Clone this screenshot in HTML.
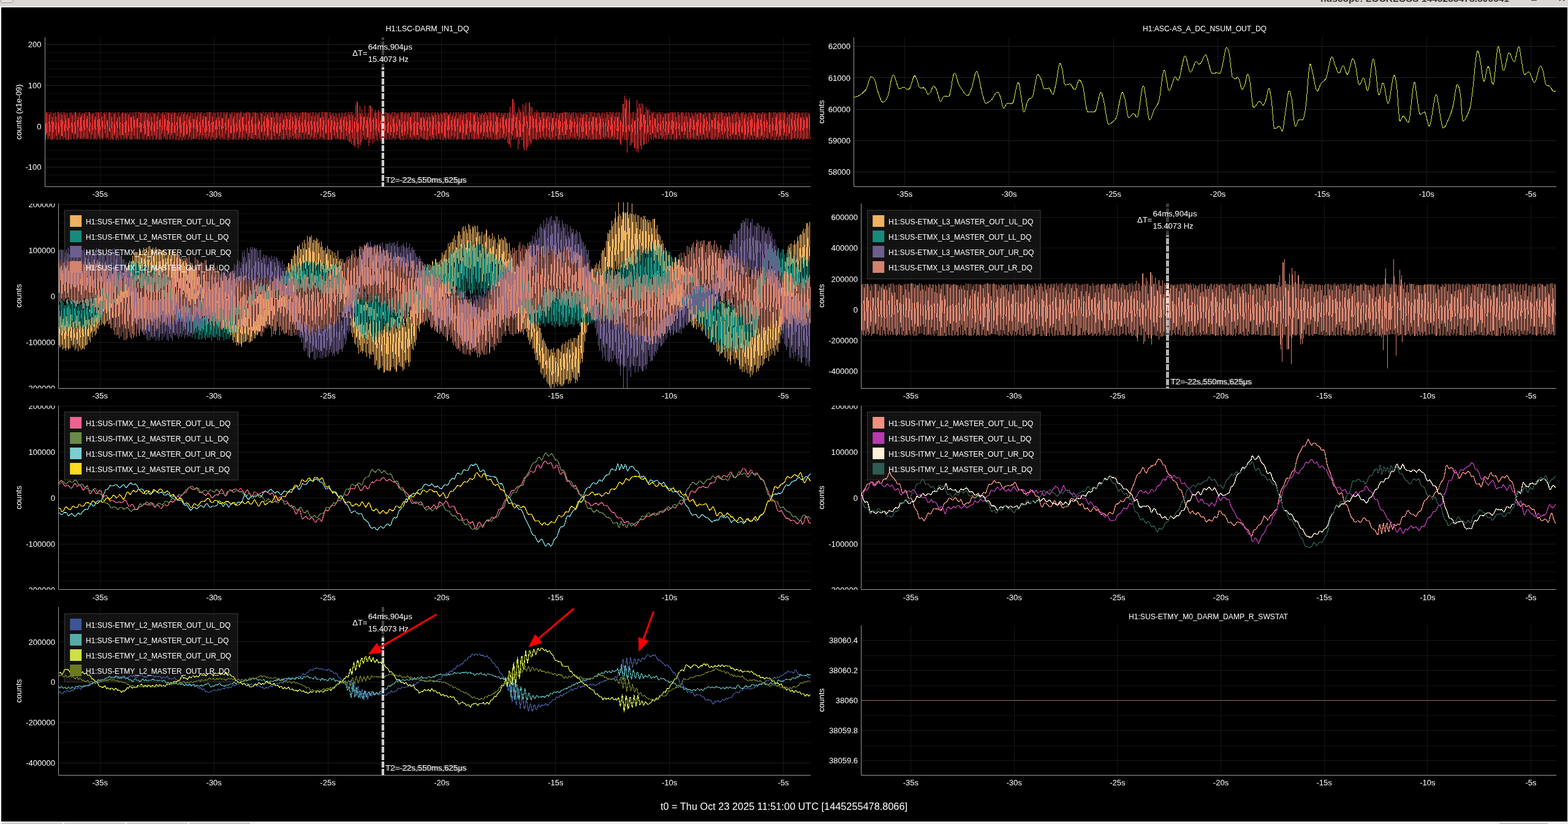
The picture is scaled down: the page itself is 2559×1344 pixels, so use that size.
<!DOCTYPE html><html><head><meta charset="utf-8"><title>ndscope</title><style>html,body{margin:0;padding:0;background:#000;overflow:hidden;width:2559px;height:1344px}svg{display:block}</style></head><body><svg width="2559" height="1344" viewBox="0 0 2559 1344" font-family="'Liberation Sans', 'DejaVu Sans', sans-serif"><defs><clipPath id="cP1"><rect x="73" y="61" width="1250" height="243"/></clipPath><clipPath id="yP1"><rect x="0" y="61" width="73" height="243.5"/></clipPath><clipPath id="cP2"><rect x="1393.5" y="61" width="1146.5" height="243"/></clipPath><clipPath id="yP2"><rect x="0" y="61" width="1393.5" height="243.5"/></clipPath><clipPath id="cP3"><rect x="95.5" y="332" width="1227.5" height="301"/></clipPath><clipPath id="yP3"><rect x="0" y="332" width="95.5" height="301.5"/></clipPath><clipPath id="cP4"><rect x="1405.5" y="332" width="1134.5" height="301"/></clipPath><clipPath id="yP4"><rect x="0" y="332" width="1405.5" height="301.5"/></clipPath><clipPath id="cP5"><rect x="95.5" y="661.5" width="1227.5" height="300"/></clipPath><clipPath id="yP5"><rect x="0" y="661.5" width="95.5" height="300.5"/></clipPath><clipPath id="cP6"><rect x="1405.5" y="661.5" width="1134.5" height="300"/></clipPath><clipPath id="yP6"><rect x="0" y="661.5" width="1405.5" height="300.5"/></clipPath><clipPath id="cP7"><rect x="95.5" y="990" width="1227.5" height="274"/></clipPath><clipPath id="yP7"><rect x="0" y="990" width="95.5" height="274.5"/></clipPath><clipPath id="cP8"><rect x="1405.5" y="1020" width="1134.5" height="244"/></clipPath><clipPath id="yP8"><rect x="0" y="1020" width="1405.5" height="244.5"/></clipPath><clipPath id="kP1a"><rect x="0" y="61" width="2559" height="49"/></clipPath><clipPath id="kP1b"><rect x="0" y="110" width="2559" height="194"/></clipPath><clipPath id="kP4a"><rect x="0" y="332" width="2559" height="52"/></clipPath><clipPath id="kP4b"><rect x="0" y="384" width="2559" height="249"/></clipPath><clipPath id="kP7a"><rect x="0" y="990" width="2559" height="50"/></clipPath><clipPath id="kP7b"><rect x="0" y="1040" width="2559" height="224"/></clipPath></defs><rect x="0" y="0" width="2559" height="1344" fill="#efefef"/>
<rect x="0" y="0" width="2559" height="10" fill="#dcd8d5"/>
<rect x="0" y="10" width="2559" height="2" fill="#fbfbfb"/>
<rect x="2" y="12" width="2556" height="1328" fill="#000"/>
<rect x="1" y="12" width="1" height="1329" fill="#fff"/>
<rect x="2" y="1340" width="2556" height="1" fill="#fff"/>
<rect x="2558" y="12" width="1" height="1329" fill="#f4f4f4"/>
<rect x="1.5" y="-3" width="19.5" height="7.5" rx="2" fill="#e0e2de" stroke="#8a8a8a" stroke-width="0.8"/>
<text x="2155" y="2.8" font-size="14" font-weight="bold" fill="#333" textLength="308" lengthAdjust="spacingAndGlyphs">ndscope: LOCKLOSS 1445255478.806641</text>
<rect x="2499" y="-1" width="9" height="2" fill="#333"/>
<path d="M2545 1L2553 -7M2553 1L2545 -7" stroke="#333" stroke-width="2"/>
<path d="M3 1345V1345Q3 1342.5 6 1342.5H99Q102 1342.5 102 1345" fill="#f6f6f6" stroke="#9a9a9a" stroke-width="1"/>
<path d="M105 1345V1345Q105 1342.5 108 1342.5H201Q204 1342.5 204 1345" fill="#f6f6f6" stroke="#9a9a9a" stroke-width="1"/>
<path d="M207 1345V1345Q207 1342.5 210 1342.5H303Q306 1342.5 306 1345" fill="#f6f6f6" stroke="#9a9a9a" stroke-width="1"/>
<path d="M309 1345V1345Q309 1342.5 312 1342.5H405Q408 1342.5 408 1345" fill="#f6f6f6" stroke="#9a9a9a" stroke-width="1"/>
<path d="M2447 1345Q2447 1343 2449 1343H2524Q2526 1343 2526 1345" fill="#f6f6f6" stroke="#9a9a9a" stroke-width="1"/>
<path d="M74 299.5H1323M74 285.5H1323M74 259.5H1323M74 245.5H1323M74 232.5H1323M74 219.5H1323M74 192.5H1323M74 179.5H1323M74 165.5H1323M74 152.5H1323M74 125.5H1323M74 112.5H1323M74 99.5H1323M74 85.5H1323" stroke="#111111" stroke-width="1" fill="none"/>
<path d="M74 72.5H1323M74 139.5H1323M74 205.5H1323M74 272.5H1323" stroke="#222222" stroke-width="1" fill="none"/>
<path d="M163.5 61V304M349.5 61V304M535.5 61V304M720.5 61V304M906.5 61V304M1092.5 61V304M1278.5 61V304" stroke="#171717" stroke-width="1" fill="none"/>
<path d="M1394.5 75.5H2540M1394.5 126.5H2540M1394.5 178.5H2540M1394.5 229.5H2540M1394.5 280.5H2540" stroke="#202020" stroke-width="1" fill="none"/>
<path d="M1476.5 61V304M1646.5 61V304M1817.5 61V304M1987.5 61V304M2157.5 61V304M2328.5 61V304M2498.5 61V304" stroke="#191919" stroke-width="1" fill="none"/>
<path d="M96.5 618.5H1323M96.5 603.5H1323M96.5 588.5H1323M96.5 573.5H1323M96.5 543.5H1323M96.5 528.5H1323M96.5 513.5H1323M96.5 498.5H1323M96.5 468.5H1323M96.5 453.5H1323M96.5 438.5H1323M96.5 423.5H1323M96.5 393.5H1323M96.5 378.5H1323M96.5 363.5H1323M96.5 348.5H1323" stroke="#101010" stroke-width="1" fill="none"/>
<path d="M96.5 333.5H1323M96.5 408.5H1323M96.5 483.5H1323M96.5 558.5H1323" stroke="#1a1a1a" stroke-width="1" fill="none"/>
<path d="M163.5 332V633M349.5 332V633M535.5 332V633M720.5 332V633M906.5 332V633M1092.5 332V633M1278.5 332V633" stroke="#171717" stroke-width="1" fill="none"/>
<path d="M1406.5 354.5H2540M1406.5 404.5H2540M1406.5 454.5H2540M1406.5 505.5H2540M1406.5 555.5H2540M1406.5 605.5H2540" stroke="#141414" stroke-width="1" fill="none"/>
<path d="M1486.5 332V633M1655.5 332V633M1823.5 332V633M1992.5 332V633M2161.5 332V633M2329.5 332V633M2498.5 332V633" stroke="#171717" stroke-width="1" fill="none"/>
<path d="M96.5 947.5H1323M96.5 932.5H1323M96.5 917.5H1323M96.5 902.5H1323M96.5 872.5H1323M96.5 857.5H1323M96.5 842.5H1323M96.5 827.5H1323M96.5 797.5H1323M96.5 782.5H1323M96.5 767.5H1323M96.5 752.5H1323M96.5 722.5H1323M96.5 707.5H1323M96.5 692.5H1323M96.5 677.5H1323" stroke="#101010" stroke-width="1" fill="none"/>
<path d="M96.5 662.5H1323M96.5 737.5H1323M96.5 812.5H1323M96.5 887.5H1323" stroke="#1a1a1a" stroke-width="1" fill="none"/>
<path d="M163.5 661.5V961.5M349.5 661.5V961.5M535.5 661.5V961.5M720.5 661.5V961.5M906.5 661.5V961.5M1092.5 661.5V961.5M1278.5 661.5V961.5" stroke="#171717" stroke-width="1" fill="none"/>
<path d="M1406.5 947.5H2540M1406.5 932.5H2540M1406.5 917.5H2540M1406.5 902.5H2540M1406.5 872.5H2540M1406.5 857.5H2540M1406.5 842.5H2540M1406.5 827.5H2540M1406.5 797.5H2540M1406.5 782.5H2540M1406.5 767.5H2540M1406.5 752.5H2540M1406.5 722.5H2540M1406.5 707.5H2540M1406.5 692.5H2540M1406.5 677.5H2540" stroke="#101010" stroke-width="1" fill="none"/>
<path d="M1406.5 662.5H2540M1406.5 737.5H2540M1406.5 812.5H2540M1406.5 887.5H2540" stroke="#1a1a1a" stroke-width="1" fill="none"/>
<path d="M1486.5 661.5V961.5M1655.5 661.5V961.5M1823.5 661.5V961.5M1992.5 661.5V961.5M2161.5 661.5V961.5M2329.5 661.5V961.5M2498.5 661.5V961.5" stroke="#171717" stroke-width="1" fill="none"/>
<path d="M96.5 1211.5H1323M96.5 1145.5H1323M96.5 1079.5H1323M96.5 1014.5H1323" stroke="#121212" stroke-width="1" fill="none"/>
<path d="M96.5 1046.5H1323M96.5 1112.5H1323M96.5 1178.5H1323M96.5 1244.5H1323" stroke="#1c1c1c" stroke-width="1" fill="none"/>
<path d="M163.5 990V1264M349.5 990V1264M535.5 990V1264M720.5 990V1264M906.5 990V1264M1092.5 990V1264M1278.5 990V1264" stroke="#171717" stroke-width="1" fill="none"/>
<path d="M1406.5 1216.5H2540M1406.5 1167.5H2540M1406.5 1118.5H2540M1406.5 1069.5H2540" stroke="#131313" stroke-width="1" fill="none"/>
<path d="M1406.5 1044.5H2540M1406.5 1093.5H2540M1406.5 1142.5H2540M1406.5 1191.5H2540M1406.5 1240.5H2540" stroke="#191919" stroke-width="1" fill="none"/>
<path d="M1486.5 1020V1264M1655.5 1020V1264M1823.5 1020V1264M1992.5 1020V1264M2161.5 1020V1264M2329.5 1020V1264M2498.5 1020V1264" stroke="#161616" stroke-width="1" fill="none"/>
<rect x="105.5" y="343" width="283" height="112" fill="rgba(26,26,26,0.68)" stroke="#3c3c3c" stroke-width="1"/>
<rect x="1415.5" y="343" width="282.5" height="112" fill="rgba(26,26,26,0.68)" stroke="#3c3c3c" stroke-width="1"/>
<rect x="105.5" y="672" width="283" height="111" fill="rgba(26,26,26,0.68)" stroke="#3c3c3c" stroke-width="1"/>
<rect x="1415.5" y="672" width="282.5" height="111" fill="rgba(26,26,26,0.68)" stroke="#3c3c3c" stroke-width="1"/>
<rect x="105.5" y="1001" width="282.5" height="111.5" fill="rgba(26,26,26,0.68)" stroke="#3c3c3c" stroke-width="1"/>
<path d="M73.5 183.4L74.8 228.4L76 183.3L77.3 226.9L78.5 183.1L79.9 226.6L81.1 184.4L82.4 228L83.5 182.5L85 228L86.2 184.2L87.3 227.7L88.4 184.1L89.6 226.2L90.8 183.4L92.2 227.7L93.5 183.3L94.8 227.6L95.9 182.5L97.4 228.3L98.7 183.7L99.9 227.2L100.9 182.8L102.2 228.3L103.4 182.6L104.7 225.8L105.9 182.6L107.1 228.5L108.3 184.5L109.6 228.2L110.8 184.4L112 228.4L113.3 184.3L114.5 226.6L115.6 182.8L116.7 227.8L117.9 184.1L119.3 226.7L120.6 184.3L121.8 227L123 182.5L124.3 227.3L125.7 184L126.9 228.3L128.2 184.4L129.7 227L130.8 182.8L132 227.2L133.1 184.4L134.4 227.1L135.7 183.6L136.9 228.4L138.1 183.2L139.5 226.9L140.7 182.6L142 227.1L143.2 182.9L144.6 227L146 182.7L147.3 227.5L148.4 184.7L149.8 227.1L151.1 183.9L152.5 227.9L153.7 184.1L155 226.5L156.2 183.2L157.5 227.9L158.7 182.6L159.8 226.1L161 183.4L162.1 226.9L163.3 183.2L164.4 227.4L165.8 182.5L167.1 228L168.4 184.2L169.5 226.1L170.9 182.9L172.3 226.1L173.6 183.3L174.9 227.3L176.4 184.5L177.6 228.1L179 182.9L180.4 228.2L181.8 183.6L183.1 228.4L184.5 183.5L185.8 228.3L187.1 183.1L188.3 227.8L189.6 184.5L190.9 228.5L192.3 182.9L193.5 228.1L194.8 183.4L196.2 226.5L197.5 184.8L198.8 227.7L200 183L201.2 227.9L202.6 183.9L203.7 227.3L205 184L206.1 228.4L207.4 183.4L208.8 227.3L210.1 184L211.4 228.2L212.8 182.7L214 227.8L215.2 184.2L216.4 228.3L217.8 182.9L219.2 227.2L220.3 183.4L221.5 227L222.7 183.1L224 227.3L225.3 182.5L226.6 226.5L227.6 182.7L228.7 228.1L230 183.7L231.4 226.1L232.5 183.4L233.5 228.3L234.7 184.2L235.8 227.9L237 183.1L238.3 228.2L239.7 183L240.9 227.6L242 185L243.2 228.1L244.4 183.8L245.6 228L246.8 183.1L248.2 227.5L249.5 182.6L250.6 228.4L252 184.3L253.2 227.9L254.6 183.6L255.9 228.3L257.2 182.6L258.5 228L259.6 182.9L261 228L262.3 184L263.7 228.5L265.1 183.2L266.5 227.3L267.9 182.7L269.1 226.5L270.3 183.2L271.7 227.7L272.7 182.8L273.8 228.2L275 183.7L276.3 226.8L277.4 183.3L278.8 228.3L280.1 182.6L281.3 228.4L282.4 184L283.7 227.2L285 183.1L286.3 228.3L287.6 183.7L288.8 228.3L290.2 184L291.5 228.5L292.8 183.2L293.9 227.8L295.2 183.1L296.3 228.5L297.5 183.5L298.9 227.8L300.1 183L301.2 227.8L302.4 182.6L303.8 227.2L305.1 184.3L306.3 228.2L307.7 183.4L308.9 226.9L310.2 182.6L311.3 228.2L312.4 184L313.5 228L314.7 183.6L316 226.6L317.3 184.3L318.6 227.1L319.7 183.3L320.9 227.4L322.2 183.3L323.3 227L324.6 183.1L325.8 228.3L327.1 182.7L328.3 228.1L329.7 182.6L330.8 227.3L332.2 184L333.7 228.3L334.8 183.9L336.1 227.1L337.2 182.7L338.4 228.2L339.6 183.5L340.9 226.1L342 183L343.4 228.5L344.5 183.3L345.9 227.7L347.2 184.1L348.3 226.6L349.4 183.2L350.6 227.8L351.7 184.1L352.9 228.3L354.3 182.6L355.4 226.4L356.8 183.4L358.2 227.3L359.4 183.3L360.6 227.9L361.7 182.9L363.1 226.9L364.3 182.9L365.5 227L366.6 183.3L367.7 228.3L369.1 182.9L370.5 227.9L371.7 183.1L372.9 228.5L374.3 183.9L375.7 228.1L377.1 182.8L378.3 228.4L379.7 183L381 228.2L382.2 182.9L383.3 227.4L384.6 185L385.7 227.9L387 183.9L388.5 228L389.7 183L390.9 227.8L392.1 182.5L393.4 228.1L394.8 182.5L395.9 227.9L397.2 183.9L398.4 226.4L399.5 183.6L400.6 227.1L402 183.2L403.3 228.5L404.6 182.5L405.9 228.2L407 183.1L408.3 226.3L409.7 184.2L411 226.9L412.2 183.1L413.3 228.4L414.5 183.3L415.8 227.4L417 183L418.2 227.2L419.6 183.8L420.6 227.1L421.7 184.2L423.1 227.5L424.5 182.9L425.6 228.5L427 184.5L428.4 227.5L429.6 182.5L430.8 227.7L432.2 182.9L433.4 228.5L434.8 183.1L435.9 227.9L437.1 184L438.2 227.7L439.3 183.4L440.6 227.6L441.8 183.2L443 228.2L444.3 182.5L445.7 228.1L446.8 184.3L448.2 228.2L449.5 183.6L450.7 228L452 183.1L453.3 228.1L454.4 183.9L455.8 228.4L457.2 184.7L458.3 227.2L459.5 183.1L460.6 227.8L461.7 184.4L463 227.8L464.3 183.6L465.6 227L466.8 182.9L468.2 226.5L469.3 182.8L470.6 228.2L471.7 183.5L472.9 228.2L474.1 183L475.5 227.3L476.8 182.9L478.2 227.5L479.4 184.4L480.8 226.5L481.9 183.2L483.1 228L484.3 182.8L485.4 227L486.7 184.5L487.9 228.1L489.2 183.8L490.3 227.4L491.6 183.6L492.7 228.1L494 182.6L495.4 228.4L496.7 182.8L497.8 227.3L499 182.6L500.4 227.1L501.6 183.6L502.8 227.5L504 184L505.3 228.2L506.6 182.7L507.9 226.9L509.2 182.7L510.4 226.2L511.6 183.2L512.9 228.5L514.2 182.8L515.3 227.8L516.7 184.5L517.7 228.1L519.1 184.5L520.4 226.8L521.8 183L522.9 227L524.3 183.3L525.6 227.5L526.8 182.5L528.1 227.7L529.4 182.9L530.7 228.4L532 182.8L533.3 228.3L534.6 182.7L536 228.4L537.3 183.3L538.7 228.2L539.9 183.5L541 228.1L542.4 183.6L543.6 227L544.8 183.8L546.2 226.4L547.4 184.3L548.7 228.2L549.8 184.6L551.1 227.8L552.5 184.7L553.6 226.9L554.7 183.9L556 227.9L557.2 184.1L558.3 226.9L559.7 183.7L561 228.2L562.2 183.9L563.6 228.4L564.8 183.2L566.2 227.7L567.4 184.6L568.7 230.3L569.9 182.5L571 231.6L572.4 182.9L573.5 234.8L574.9 183.3L576.3 236.7L577.7 185.2L579.1 240.4L580.4 171.2L581.8 227.9L583 165.4L584.1 241.6L585.4 184.2L586.5 236.1L587.8 172.9L588.9 236.8L590.3 178.3L591.6 227.1L592.8 185L594.2 227L595.4 172.3L596.5 227.5L597.7 184L598.9 228.4L600.2 183.7L601.3 238L602.6 172.4L603.9 233.4L605 172.3L606.3 227.7L607.6 175.7L608.8 233.6L610.3 182.8L611.5 231.1L612.9 179.2L614.2 228.2L615.3 182.8L616.6 230.2L617.9 178.8L619.3 227L620.6 182.5L621.9 229.8L623.1 182.3L624.2 228.7L625.5 183.8L626.9 228.5L628.2 183.1L629.4 228.2L630.5 182.6L631.7 227.8L633 184.1L634.3 226.5L635.4 184.1L636.8 228.4L638.1 183.7L639.4 228.1L640.7 183.1L642 226.1L643.2 183.4L644.3 227.5L645.5 184.1L646.8 227.2L648.1 183.7L649.4 226.3L650.7 184.2L652.1 227.9L653.4 183.5L654.7 228L656 182.9L657.2 228.5L658.6 182.7L659.8 227.6L661.1 182.6L662.4 227.7L663.6 182.6L664.8 226.4L666.1 182.6L667.5 227.9L668.8 183.7L670.1 226.5L671.2 183.4L672.4 227.5L673.5 183L674.8 227.1L676 183.5L677.1 226.5L678.5 182.5L679.8 228.3L681 182.8L682.2 228.1L683.5 182.6L684.6 228.2L685.7 183.2L687.1 225.8L688.2 183.8L689.4 226.4L690.8 182.8L692 227.4L693.3 184.7L694.4 228.4L695.6 183.3L697 228.5L698.2 184L699.4 228.4L700.8 184L702.2 227.4L703.4 184.1L704.8 228.5L705.9 183.1L707.1 228.3L708.2 184.4L709.5 227.3L710.9 182.7L712.2 226.8L713.6 182.6L714.8 226.5L715.9 183.7L717.3 227L718.4 183.9L719.7 228.2L720.9 183L722.3 227.9L723.4 183.7L724.9 228L726 183.1L727.1 228.5L728.3 183.3L729.6 226.3L730.9 183.8L732.1 228.2L733.1 183.8L734.5 227.1L735.7 183.2L736.8 228.4L738.2 184.8L739.5 228.1L740.7 182.6L741.9 226.9L743.2 183L744.4 228L745.7 183.3L747 228.3L748.3 183.3L749.7 226.9L751.1 184.1L752.4 227.1L753.6 182.8L755 228.2L756.1 183.3L757.3 227.8L758.5 184.7L759.8 228.1L761.1 182.7L762.2 226.8L763.3 183.3L764.5 227.6L765.7 182.8L766.7 228.4L768 183.2L769.4 227.1L770.5 183.7L771.6 227.3L772.9 183.3L774 227.9L775.1 182.8L776.3 227.1L777.4 183L778.8 228.2L779.8 183.5L781 227L782.5 184.7L783.7 228.1L785.1 184.2L786.4 228.1L787.5 183.9L788.9 226.8L790.1 183.8L791.3 226.5L792.4 182.5L793.7 228.1L794.9 183.9L796.1 227.1L797.4 182.6L798.6 227.3L800 183.1L801.1 227.5L802.4 184.6L803.6 228L805 183.1L806.3 227.6L807.6 182.7L808.8 228.2L809.9 183.6L811 227.8L812.2 184L813.3 227.6L814.5 183.4L815.9 228L817.3 184L818.5 226.5L819.8 183.6L821 226.1L822.1 183.8L823.3 228.4L824.7 183.8L825.9 226.8L827.3 183.6L828.6 232.5L829.8 184.5L831 235.9L832.2 173.8L833.5 240.6L834.8 184.2L835.9 228.1L837 160.9L838.3 227.5L839.4 166.6L840.5 226.2L841.8 182.8L842.9 228L844.1 183L845.5 244.4L846.6 175L847.8 234.9L848.9 178.9L850.2 229.2L851.5 184.2L852.8 227.8L853.8 169.9L855.1 244.8L856.3 171.9L857.5 228.3L858.7 167.3L859.9 244.6L861.4 182.8L862.7 238.4L864 167.2L865.1 236L866.3 174.2L867.5 234.3L868.7 175.3L870 227.8L871.3 182.7L872.5 227.4L873.7 182.9L875 228.4L876.1 180L877.3 227.2L878.6 183L879.7 227.9L880.8 184.4L882.1 226.7L883.4 182.8L884.6 226.9L886 182.7L887.1 227.1L888.3 182.8L889.5 228.1L890.7 182.9L891.9 227.3L893.2 182.7L894.6 227.8L895.8 182.9L897.1 228.3L898.5 184.3L899.7 228L900.8 184.1L901.9 227.9L903.3 182.5L904.4 228L905.6 183.1L906.8 228.4L908.3 184.7L909.6 226.7L910.7 183.8L912 228.5L913.1 183.7L914.2 227.8L915.4 183.6L916.6 228.2L918 183.8L919.2 227.9L920.6 182.5L921.8 228L923 182.8L924.2 226.9L925.3 182.6L926.4 227.7L927.5 183.7L928.6 227.8L929.7 183.1L930.9 227.1L932.1 183.6L933.3 226.4L934.4 182.7L935.5 226.5L936.7 183.3L938.1 227L939.5 183.3L940.7 228.2L941.9 184.6L943.2 228L944.5 183.8L945.9 228.3L947.3 183.4L948.7 228.1L949.8 184.8L951 226.7L952.1 183.6L953.4 227.3L954.7 185L955.8 228.4L956.9 183.3L958.2 228.2L959.6 183.5L960.9 228.3L962.3 182.5L963.4 228.4L964.6 182.9L965.8 228.4L966.8 183.2L968 227.5L969.2 183L970.5 227.4L971.8 183.6L973 228.4L974.2 184.4L975.4 228.1L976.5 182.9L977.8 228L978.9 184.4L980 227.4L981.3 185L982.5 227.5L983.7 183.2L985.1 227L986.5 183.7L987.9 226.6L989.3 183.4L990.7 227L991.9 182.9L993.1 227.2L994.4 182.6L995.6 226.9L996.8 182.5L997.9 227.9L999.1 183L1000.2 227.9L1001.6 182.7L1002.9 227.7L1004.2 184.3L1005.6 228L1006.8 183L1008 227.5L1009.2 183.1L1010.4 229L1011.7 183.1L1013.1 236.9L1014.4 183.7L1015.9 227.5L1017 168.9L1018.3 228L1019.7 156.2L1020.8 228.3L1022 161L1023.3 248.9L1024.4 183.2L1025.7 227.1L1027.1 160.2L1028.4 237.6L1029.5 183.6L1030.9 235.8L1032.3 183.1L1033.4 233.3L1034.7 182.1L1036 242.3L1037.3 183.8L1038.6 246.7L1039.8 162.8L1041.1 248.9L1042.4 169.1L1043.7 226.8L1044.9 169L1046.1 243.6L1047.3 167.8L1048.4 228.3L1049.7 170L1051 236.7L1052.1 183.4L1053.3 228L1054.5 174.4L1055.6 235.3L1057 179.1L1058.4 230.5L1059.7 178.4L1061.2 226.2L1062.4 182L1063.7 227.9L1065.1 182.5L1066.3 228.3L1067.7 182.9L1069.1 226.5L1070.3 183.5L1071.6 227L1073.1 184L1074.3 226.8L1075.5 182.9L1076.6 226.9L1077.9 183.1L1079.2 227.1L1080.6 182.9L1081.9 226.7L1083.2 184.9L1084.6 228.4L1086 184.8L1087.2 227.8L1088.4 184.3L1089.8 227.3L1091 184.3L1092.3 226.7L1093.4 183.3L1094.6 228.2L1095.7 183.5L1096.8 227L1098 183.2L1099.3 228.3L1100.4 182.7L1101.5 228.5L1102.8 183.5L1104.1 228.3L1105.5 183.5L1106.5 226.8L1107.9 182.9L1109.2 226.8L1110.5 184.8L1111.6 227.3L1113 183L1114.4 226.3L1115.6 184.5L1116.8 226.7L1118.2 183.7L1119.4 228L1120.8 182.6L1122.1 227.7L1123.5 183.5L1124.7 228.1L1125.8 183.6L1127.1 227.6L1128.3 183.4L1129.5 226.4L1130.9 184.6L1132.1 227.8L1133.3 184L1134.4 227.4L1135.6 183.3L1136.8 228.1L1138 185L1139.2 228.5L1140.3 183.1L1141.7 227.4L1143 183.6L1144.2 227.9L1145.5 183.7L1146.7 227.7L1148.1 184.6L1149.2 227.1L1150.3 182.8L1151.6 228.3L1152.8 183.8L1154.1 226.5L1155.5 182.7L1156.7 227.3L1158.1 182.8L1159.4 226.4L1160.7 184.7L1162 227.8L1163.4 183.1L1164.5 228.4L1165.8 183.2L1166.9 228.1L1168.1 183L1169.6 228.4L1170.6 182.8L1171.9 228.1L1173.1 183.4L1174.3 226.7L1175.5 182.9L1176.6 226.7L1178 183L1179.2 226.7L1180.3 183.7L1181.7 227.8L1183.2 184L1184.4 227.8L1185.8 184.3L1187.1 227.6L1188.2 183.4L1189.4 228L1190.8 183.3L1192.2 227.5L1193.5 184.4L1194.8 226.9L1196.1 184L1197.3 226.9L1198.5 183.1L1199.8 227.5L1201.1 182.7L1202.2 227.8L1203.5 182.5L1204.7 228L1205.8 183.8L1207.2 227.8L1208.3 184.6L1209.7 227.4L1211 183.4L1212.3 227.8L1213.7 182.6L1215 227.7L1216.1 182.9L1217.2 227.3L1218.6 184.7L1219.9 227.8L1221.2 183.7L1222.3 228.4L1223.7 182.8L1224.8 228.2L1225.9 184L1227.2 227.9L1228.3 182.8L1229.6 228.4L1231 183L1232.2 228.4L1233.5 183.8L1234.9 228.1L1236.1 183.9L1237.1 227.8L1238.3 183.8L1239.4 226.7L1240.7 183.8L1241.9 227.2L1243.1 182.7L1244.2 228.3L1245.6 183.1L1246.9 228.1L1248.1 183L1249.5 228.2L1250.7 184.6L1252.1 227.4L1253.5 183.9L1254.7 227.4L1256 182.6L1257.3 227.8L1258.5 183.9L1259.9 226.7L1261.3 183L1262.4 228.4L1263.5 183.2L1264.6 228.5L1265.8 182.7L1266.9 228L1268 184.8L1269.3 228.5L1270.6 182.7L1271.9 227.7L1273 183.3L1274.2 227.7L1275.3 183.3L1276.5 228.1L1277.7 183.3L1278.8 227.7L1280.1 182.5L1281.3 226.8L1282.5 183.7L1283.8 228.4L1285.3 182.6L1286.7 228.3L1288.1 184.9L1289.3 227.9L1290.7 183.1L1292 228.4L1293 183.3L1294.5 226.2L1295.6 182.7L1297 226.2L1298.1 182.7L1299.4 227.7L1300.7 182.9L1302 225.8L1303.1 182.8L1304.6 228.3L1305.8 183.7L1307 226.1L1308.3 183.8L1309.6 227.7L1310.8 183L1312 227.1L1313.4 184.1L1314.5 227.1L1315.8 182.8L1317 227.1L1318.3 183.9L1319.5 227.1L1320.9 184.1L1322.1 227.3" stroke="#e03232" stroke-width="1.0" fill="none" shape-rendering="crispEdges" clip-path="url(#cP1)"/>
<path d="M1394 158.6L1395 158.3L1396 157.9L1397 157.3L1398 157.4L1399 157.4L1400 156.9L1401 156.5L1402 155.7L1403 154.9L1404 154.5L1405 154.2L1406 153.1L1407 152.8L1408 151.7L1409 150.5L1410 149.2L1411 148.8L1412 147.7L1413 146.7L1414 145.1L1415 142.3L1416 139.4L1417 136.2L1418 132.4L1419 130L1420 127.2L1421 125.3L1422 125.4L1423 125.2L1424 126.3L1425 126.9L1426 127.8L1427 129.1L1428 131.8L1429 135L1430 138.8L1431 143.6L1432 147.1L1433 150.6L1434 152.9L1435 156.1L1436 159.1L1437 161.6L1438 163.8L1439 165.4L1440 166.6L1441 166.5L1442 166.3L1443 166L1444 164.8L1445 164.1L1446 163L1447 161.2L1448 159.4L1449 156.8L1450 152.9L1451 148.9L1452 143.5L1453 137.7L1454 132.5L1455 128.4L1456 125.4L1457 122.8L1458 121.8L1459 122.7L1460 125.2L1461 127.8L1462 131.1L1463 134L1464 137.5L1465 140.7L1466 143.3L1467 144.6L1468 145.1L1469 144.7L1470 144.5L1471 143.9L1472 143.2L1473 142.6L1474 142.9L1475 143L1476 142.7L1477 143.1L1478 143.9L1479 144.9L1480 145.7L1481 145.4L1482 145.5L1483 145.3L1484 144.5L1485 143.6L1486 141.2L1487 138.2L1488 134.8L1489 132L1490 128.5L1491 125.6L1492 124.2L1493 123.7L1494 124.3L1495 126.7L1496 128.7L1497 131.2L1498 134.8L1499 138.9L1500 141.9L1501 143.1L1502 143.2L1503 143.7L1504 143.9L1505 143.7L1506 143.2L1507 142.7L1508 143.2L1509 143.8L1510 145.6L1511 147.2L1512 149.3L1513 151.9L1514 153.4L1515 153.9L1516 153.3L1517 152L1518 150.9L1519 149.7L1520 147.1L1521 144.6L1522 142.1L1523 141L1524 140.1L1525 141.1L1526 142.7L1527 143.7L1528 145.6L1529 147.9L1530 151.4L1531 155L1532 158.5L1533 161.8L1534 164.8L1535 166L1536 165L1537 163.3L1538 161.4L1539 159.3L1540 158L1541 156.7L1542 157L1543 157.2L1544 156.8L1545 157.1L1546 157L1547 157.2L1548 157.1L1549 156.7L1550 154.5L1551 150.5L1552 145.4L1553 139.2L1554 132.3L1555 126.9L1556 122.5L1557 119.7L1558 119.1L1559 119.6L1560 122.2L1561 125.1L1562 129.2L1563 132.4L1564 135.8L1565 137.8L1566 140.1L1567 141.7L1568 143.1L1569 144.8L1570 146.2L1571 148.1L1572 149.1L1573 150.4L1574 151.7L1575 153.3L1576 153.8L1577 154.8L1578 155.4L1579 155.9L1580 156L1581 154.5L1582 152.9L1583 150.7L1584 148.4L1585 145.6L1586 143.2L1587 140L1588 135.5L1589 130.8L1590 127L1591 122.6L1592 119L1593 116.7L1594 116.5L1595 118.1L1596 120.8L1597 124.5L1598 127.7L1599 132.7L1600 138L1601 143.5L1602 148.4L1603 152.6L1604 156L1605 159.4L1606 163L1607 165.7L1608 167.8L1609 168.6L1610 168.6L1611 168L1612 167.3L1613 166.6L1614 166.1L1615 165.5L1616 165.2L1617 163.9L1618 162.8L1619 161.5L1620 160.1L1621 158.7L1622 157L1623 155.1L1624 153.6L1625 152.1L1626 151.2L1627 150.4L1628 150.1L1629 150.2L1630 152.1L1631 154L1632 156.4L1633 159.2L1634 163.3L1635 168L1636 171.6L1637 174.9L1638 176.4L1639 176L1640 174.3L1641 172.5L1642 170.2L1643 168.7L1644 168.9L1645 169.1L1646 168.9L1647 168.5L1648 169.1L1649 169.2L1650 168.7L1651 168.6L1652 168.8L1653 167.7L1654 164.6L1655 161.2L1656 156.2L1657 151L1658 146.5L1659 141.6L1660 138.2L1661 135.4L1662 134.7L1663 136.5L1664 141.3L1665 148.2L1666 154.6L1667 160.4L1668 167.7L1669 174.9L1670 180.6L1671 183.2L1672 182.1L1673 179.3L1674 176.3L1675 171.5L1676 168L1677 165.2L1678 163.5L1679 161.9L1680 161.4L1681 160.5L1682 160.4L1683 160.1L1684 159L1685 157.4L1686 154.9L1687 150.3L1688 145L1689 139.3L1690 134L1691 128.6L1692 124L1693 121.9L1694 121.6L1695 122.3L1696 123.3L1697 125L1698 127.1L1699 129.5L1700 132.2L1701 136L1702 139.6L1703 142.8L1704 144.9L1705 145L1706 145L1707 144.4L1708 144.7L1709 144.6L1710 144.5L1711 143.9L1712 143.4L1713 144.7L1714 146.4L1715 148.6L1716 150.7L1717 152.9L1718 153.9L1719 153.7L1720 151.4L1721 147.2L1722 142.6L1723 138.2L1724 132.9L1725 126.6L1726 120.4L1727 114.5L1728 108.9L1729 105.1L1730 103.5L1731 104.3L1732 107.1L1733 110.7L1734 115.1L1735 121.6L1736 129.1L1737 136L1738 138.3L1739 138.1L1740 138.2L1741 138.1L1742 137.8L1743 137.1L1744 137.4L1745 136.9L1746 136.5L1747 137.1L1748 138.4L1749 140.2L1750 141.6L1751 143.6L1752 145L1753 145.5L1754 146.2L1755 145.5L1756 143.7L1757 140.8L1758 137.2L1759 134.5L1760 132.4L1761 130.6L1762 130.5L1763 131.5L1764 132.5L1765 134.8L1766 137.3L1767 140.3L1768 144.3L1769 150.1L1770 157.1L1771 164.1L1772 170.8L1773 176.5L1774 180.1L1775 182.6L1776 182.6L1777 182.9L1778 182.4L1779 182.9L1780 182.8L1781 182.9L1782 182.9L1783 183.1L1784 182.7L1785 182.1L1786 182.2L1787 181.8L1788 180.6L1789 178.3L1790 174.4L1791 169.8L1792 164.9L1793 160.6L1794 156.8L1795 153.2L1796 151.5L1797 150.7L1798 151.9L1799 155.5L1800 159L1801 163.1L1802 167.9L1803 173.3L1804 179.5L1805 185.8L1806 191.9L1807 197.1L1808 200.9L1809 202.6L1810 202.3L1811 202L1812 201.6L1813 201.1L1814 200.3L1815 199.7L1816 198.8L1817 197.4L1818 196.9L1819 195.8L1820 194.9L1821 193.6L1822 191.2L1823 187.8L1824 182.9L1825 177.5L1826 171.6L1827 166.6L1828 161.7L1829 157.4L1830 154.3L1831 151.5L1832 150.4L1833 152L1834 155.2L1835 158.6L1836 161.9L1837 167.2L1838 173.9L1839 180.2L1840 185.8L1841 189.8L1842 191.9L1843 191.8L1844 191.2L1845 190.3L1846 189.1L1847 187.3L1848 185.8L1849 185.3L1850 185.1L1851 185.8L1852 186.5L1853 188.6L1854 190.5L1855 191.1L1856 191.2L1857 189.4L1858 184.8L1859 179.3L1860 172L1861 164.8L1862 157.1L1863 150L1864 144.3L1865 140.8L1866 139.8L1867 141.8L1868 147.2L1869 153L1870 158.9L1871 165.8L1872 173.5L1873 181.1L1874 187.8L1875 193.4L1876 195.7L1877 195.1L1878 194.2L1879 192.2L1880 188.9L1881 186.2L1882 183.3L1883 180.4L1884 178.1L1885 176.8L1886 174.9L1887 173.7L1888 172.3L1889 170.5L1890 168.5L1891 166.4L1892 162.5L1893 156.4L1894 149.1L1895 140.8L1896 133.3L1897 125.5L1898 119.8L1899 115.7L1900 114.1L1901 116.3L1902 121.1L1903 125.9L1904 130.8L1905 136.3L1906 142.6L1907 146.7L1908 148.1L1909 147.2L1910 145.2L1911 142.7L1912 139.6L1913 136.7L1914 133.9L1915 130.6L1916 127.7L1917 126.2L1918 125.2L1919 125.9L1920 127.9L1921 129.4L1922 131.1L1923 131.3L1924 129.4L1925 126.5L1926 122.8L1927 117.8L1928 112.6L1929 107.6L1930 103.1L1931 98.6L1932 95.1L1933 92.2L1934 91.3L1935 92.2L1936 95.2L1937 98.5L1938 102.9L1939 106.6L1940 110.8L1941 114.7L1942 117.3L1943 118.1L1944 117.1L1945 116.1L1946 113.2L1947 111.1L1948 108.3L1949 105.6L1950 103.1L1951 100.9L1952 100.1L1953 100.7L1954 101.8L1955 102.9L1956 104.5L1957 104.8L1958 104.9L1959 103.4L1960 101.7L1961 100.6L1962 98.9L1963 96.4L1964 94.2L1965 92.1L1966 91L1967 89.9L1968 89.4L1969 90.7L1970 94.2L1971 97.5L1972 100.8L1973 104.6L1974 108.5L1975 112.5L1976 115.8L1977 118.2L1978 119.6L1979 119.6L1980 119.4L1981 119.1L1982 119.5L1983 119.2L1984 118.7L1985 118.3L1986 118.4L1987 119.2L1988 119.3L1989 119.7L1990 119.6L1991 119.9L1992 118.3L1993 115.3L1994 111.5L1995 107.5L1996 102.2L1997 96.7L1998 91.2L1999 85.8L2000 81.1L2001 78L2002 77.5L2003 78.7L2004 80.1L2005 83.1L2006 86.6L2007 92.8L2008 101.7L2009 111.1L2010 118.8L2011 124.7L2012 126.1L2013 127L2014 128.3L2015 128.3L2016 128.5L2017 128.4L2018 127.5L2019 126.6L2020 126.5L2021 126.7L2022 128.7L2023 132.1L2024 136.3L2025 140.4L2026 143.7L2027 145.8L2028 145.4L2029 144.2L2030 142.2L2031 140.4L2032 137.1L2033 132.5L2034 127.9L2035 123.6L2036 120.7L2037 120.6L2038 123.7L2039 128.8L2040 134.4L2041 141.6L2042 151L2043 159.9L2044 168.4L2045 173.6L2046 175.2L2047 174.7L2048 173.9L2049 173L2050 171.6L2051 170L2052 168.8L2053 167L2054 165.9L2055 165.5L2056 165.5L2057 166.3L2058 167.1L2059 168.8L2060 170.1L2061 171.4L2062 172L2063 170.2L2064 167.9L2065 165.9L2066 162.5L2067 158.3L2068 153.7L2069 148.8L2070 145.9L2071 144.3L2072 146.3L2073 150.5L2074 156.1L2075 162.7L2076 172.9L2077 185.7L2078 197.1L2079 206L2080 209.7L2081 209.9L2082 209.8L2083 209.1L2084 208L2085 207.6L2086 206.6L2087 206.7L2088 206.3L2089 206.9L2090 208.8L2091 211.2L2092 213.4L2093 213.7L2094 210.1L2095 203.9L2096 196L2097 188.9L2098 182.4L2099 175L2100 167.6L2101 160.5L2102 153.5L2103 149.5L2104 148L2105 149L2106 152.3L2107 156.8L2108 161.2L2109 168.7L2110 178.1L2111 187.8L2112 196.7L2113 202.7L2114 206.3L2115 206L2116 204.4L2117 201.1L2118 198.2L2119 195.5L2120 195L2121 195.2L2122 194.9L2123 195.1L2124 195.2L2125 195.8L2126 196L2127 193.8L2128 190.9L2129 186.5L2130 180.9L2131 174.6L2132 164.9L2133 153.3L2134 140.5L2135 128L2136 117.4L2137 108.9L2138 104.6L2139 105.5L2140 108.8L2141 113.3L2142 118.2L2143 122.3L2144 127.5L2145 132.7L2146 137.8L2147 142.3L2148 146.1L2149 148.1L2150 148.9L2151 147.6L2152 145.6L2153 143.2L2154 140.5L2155 138L2156 135.9L2157 135L2158 134L2159 133.1L2160 132.6L2161 131.8L2162 130.5L2163 129.4L2164 127.9L2165 125L2166 121.3L2167 116.8L2168 112.3L2169 107L2170 102.5L2171 98.9L2172 95.5L2173 93.8L2174 92.7L2175 94.3L2176 96.6L2177 100.2L2178 103.6L2179 106.8L2180 109L2181 111.5L2182 114.7L2183 117.1L2184 118.9L2185 119.2L2186 118.6L2187 117.5L2188 114.7L2189 112.1L2190 109.7L2191 107.8L2192 107L2193 108.2L2194 110.3L2195 112.7L2196 115.7L2197 118.5L2198 120.7L2199 121.5L2200 120.2L2201 118L2202 114.4L2203 109.9L2204 105.7L2205 101.7L2206 98.2L2207 96.2L2208 95.8L2209 97L2210 99.2L2211 102.5L2212 105.8L2213 111.1L2214 118.1L2215 124.4L2216 130.8L2217 135.8L2218 138.4L2219 138.3L2220 136.6L2221 134.9L2222 132.9L2223 130.2L2224 128L2225 127.1L2226 128.3L2227 130.7L2228 135L2229 139.1L2230 143.5L2231 146.9L2232 148.3L2233 146.2L2234 142.2L2235 135.8L2236 127.5L2237 119.1L2238 110.7L2239 103.1L2240 97.8L2241 95.7L2242 97L2243 101.5L2244 107.9L2245 114.3L2246 123.1L2247 133.1L2248 142.6L2249 150.2L2250 154.9L2251 154.5L2252 152.3L2253 148.3L2254 144.1L2255 139.8L2256 136.4L2257 135L2258 136L2259 139.8L2260 144.2L2261 149.7L2262 156.1L2263 161.9L2264 165.9L2265 168.5L2266 167.8L2267 165.1L2268 160.9L2269 155L2270 148.1L2271 141.3L2272 135.1L2273 129.4L2274 125L2275 122.8L2276 123.2L2277 126.2L2278 130.9L2279 136.5L2280 145.7L2281 158.8L2282 173.7L2283 186.4L2284 195.5L2285 197.4L2286 196L2287 194.2L2288 191.9L2289 190.5L2290 189.3L2291 189.6L2292 190.9L2293 192.4L2294 193.9L2295 195.5L2296 197.7L2297 199.3L2298 199.5L2299 198.6L2300 195.2L2301 189L2302 180.5L2303 171.2L2304 162L2305 152.1L2306 143.8L2307 137.7L2308 134.3L2309 134.3L2310 139.4L2311 148.1L2312 156.3L2313 162.3L2314 169.1L2315 175.8L2316 182.1L2317 185.5L2318 186.7L2319 186.9L2320 185.7L2321 184.9L2322 183.9L2323 183.5L2324 182.8L2325 182.6L2326 184.5L2327 187.6L2328 190.9L2329 195.5L2330 199.4L2331 203.2L2332 205.5L2333 205.5L2334 203.4L2335 199.4L2336 194.2L2337 188.1L2338 181.3L2339 175.1L2340 168.2L2341 162.7L2342 158.2L2343 155.3L2344 153.9L2345 156.2L2346 161L2347 166.6L2348 172.1L2349 177.6L2350 184.6L2351 191.3L2352 197.3L2353 202.7L2354 206.2L2355 208.4L2356 208.5L2357 207.8L2358 206.7L2359 205.4L2360 203.8L2361 201.2L2362 199.2L2363 196.5L2364 194.8L2365 192.4L2366 190L2367 187.2L2368 184.6L2369 181.5L2370 178.3L2371 174.5L2372 170L2373 164.5L2374 157.5L2375 151.2L2376 145L2377 140.6L2378 137.7L2379 138L2380 139.6L2381 142.4L2382 146.5L2383 151.6L2384 160.3L2385 173.5L2386 187.1L2387 196.4L2388 197.3L2389 197L2390 196.3L2391 195.2L2392 193.3L2393 191.4L2394 189.6L2395 186.9L2396 184.5L2397 182L2398 179.6L2399 176.5L2400 172.3L2401 165.7L2402 158.3L2403 151.1L2404 142.5L2405 132.5L2406 122.2L2407 111.2L2408 101.4L2409 93.1L2410 86.6L2411 83.6L2412 83L2413 85.5L2414 89.4L2415 94.2L2416 99.7L2417 106.2L2418 114.1L2419 121.3L2420 126.8L2421 131.3L2422 132.5L2423 130.3L2424 126.9L2425 121.4L2426 116.2L2427 111.8L2428 109.4L2429 108.6L2430 110.5L2431 114.1L2432 119.5L2433 124.6L2434 130.3L2435 134.4L2436 137.2L2437 137.9L2438 133.7L2439 126.4L2440 116.8L2441 106.1L2442 95.2L2443 86L2444 79L2445 75.7L2446 76.7L2447 81.4L2448 87.4L2449 93.3L2450 97.9L2451 104L2452 109.6L2453 113.7L2454 115.2L2455 113.8L2456 110.8L2457 106.9L2458 101.9L2459 97.6L2460 93L2461 88.7L2462 86.3L2463 85.9L2464 87L2465 88.4L2466 90.6L2467 93.9L2468 96.3L2469 98.3L2470 100L2471 100.8L2472 100L2473 96.7L2474 92.6L2475 88.4L2476 83.7L2477 79.4L2478 77L2479 75.9L2480 79L2481 85.2L2482 92.3L2483 97.8L2484 104.3L2485 110.7L2486 116.3L2487 120.2L2488 122L2489 121.6L2490 120.4L2491 120L2492 119.1L2493 118.2L2494 117.6L2495 117.1L2496 118.1L2497 119.3L2498 121.9L2499 123.9L2500 126.7L2501 129.5L2502 132.2L2503 133.8L2504 134.7L2505 133.9L2506 132.3L2507 129.7L2508 126.3L2509 121.9L2510 118.4L2511 114.3L2512 111.2L2513 108.7L2514 108L2515 107.9L2516 110L2517 112.1L2518 114.8L2519 119.1L2520 124.8L2521 129.7L2522 134.7L2523 137.9L2524 139.2L2525 139.3L2526 139.3L2527 139.4L2528 140.5L2529 140.9L2530 141.8L2531 142.7L2532 144.5L2533 146.5L2534 147.5L2535 148.9L2536 149.6L2537 149.7L2538 148.7L2539 147.8" stroke="#d6e84c" stroke-width="1.0" fill="none" stroke-linejoin="round" shape-rendering="crispEdges" clip-path="url(#cP2)"/>
<path d="M96 519.4L97.1 567.2L98.4 516.1L99.5 565.4L100.9 516.2L102.2 569.7L103.3 512.1L104.6 567.6L106 517.9L107.1 571.9L108.3 516.5L109.5 567.4L110.9 516.9L112 569.6L113.3 511L114.7 567.6L115.8 512.3L117.2 562.6L118.6 512.6L119.9 566.3L121.3 514L122.4 570.5L123.5 522.2L124.7 567.9L125.9 515.2L127.3 572.8L128.7 513L130.1 567.6L131.2 515.4L132.5 570.5L133.6 519L135 569.1L136.3 519.2L137.5 569.7L138.8 508.9L140 564.3L141.3 510.3L142.7 562.4L143.8 511.7L145.2 554.5L146.4 505L147.7 558.3L148.9 499.7L150.3 549.8L151.5 494.8L152.8 542.1L153.9 496.1L155.2 546.5L156.7 485.6L157.8 543.5L159.3 485.4L160.3 537L161.5 484.6L162.6 531.1L164 484.2L165.3 529.6L166.4 473.1L167.6 527.4L168.8 472.2L170.1 532.3L171.3 472.3L172.6 528.2L173.9 472.1L175 523.7L176.4 469.7L177.8 529.4L179.1 474.8L180.5 522.2L181.7 473.9L182.9 523.3L184.1 466.2L185.4 520.3L186.7 463.6L188.1 513.4L189.4 459.5L190.6 513.7L191.9 460.5L193.2 515.7L194.4 459L195.5 508L196.8 453.1L198.2 499.3L199.3 446.6L200.6 500.6L202 445.2L203.1 489.4L204.4 440.8L205.6 483.4L206.7 435.8L208 484.8L209.4 429.1L210.6 484.1L211.8 424.9L213.2 477.8L214.3 426.5L215.6 470.1L216.8 417.5L218.2 470.8L219.5 411.5L220.7 465.1L222 410.7L223.1 462.4L224.5 411.1L225.8 454.7L227.3 404.8L228.4 462L229.8 410.3L231 457.2L232.4 407.8L233.5 454.8L234.6 404.3L235.8 456L236.9 410.2L238.3 456L239.5 403.9L240.9 459.6L242.2 402.2L243.4 453.5L244.5 401.5L245.6 457.9L247 406.2L248.2 457L249.6 403.6L251 452.1L252.3 405.9L253.6 461.1L254.9 403L256.2 462.2L257.5 406L258.8 459.3L259.9 406.3L261.3 462.9L262.4 408.5L263.6 459.1L265 408.5L266.2 458.7L267.4 406.7L268.6 457.9L269.7 410.7L271.1 457.8L272.5 413L273.8 459.2L275.2 409.1L276.3 456.7L277.7 408.4L278.9 460.6L280.2 409.5L281.3 463.6L282.5 407.8L283.8 466L284.9 410L286.2 468L287.5 413L288.8 469.4L290 415L291.4 470.4L292.6 415.2L294 469.8L295.1 419.4L296.3 477.8L297.5 422.6L298.9 480.1L300 426.1L301.1 479.6L302.2 425.4L303.4 481.5L304.8 428.8L306 485.5L307.3 437.2L308.4 490.8L309.6 434.7L310.9 491.5L312.1 436.3L313.4 487.9L314.8 440.4L316 491.9L317.1 441L318.5 495.9L319.6 450.3L320.8 496.9L321.9 448.4L323.3 494.6L324.5 447.4L325.6 494.7L326.7 452.1L328.1 504L329.5 445.6L330.7 499L332.1 447.8L333.5 500.6L334.7 447.6L336.1 499.2L337.2 457.4L338.5 507.1L339.8 455.6L341.1 507L342.2 450.4L343.5 507.8L344.7 459.3L345.9 509L347.1 456.7L348.4 516.2L349.8 461.2L351.2 515.1L352.4 463.4L353.8 513.6L355.1 468.9L356.4 526.7L357.7 476.1L358.9 527.8L360.3 472.3L361.5 531.3L362.8 484.8L364 536.1L365.4 478.4L366.6 541.9L367.8 485.4L368.9 542.6L370.1 486.6L371.5 541L372.8 490.7L374 542.1L375.4 493L376.7 547L378.1 498.5L379.3 555.3L380.6 496.5L381.8 558.7L383.2 498.8L384.3 557.6L385.7 502.9L386.9 563.9L388 507.7L389.1 563.4L390.3 508L391.6 560.2L392.9 504.5L394.1 566.1L395.2 506.2L396.3 558.5L397.6 511.7L398.7 558.4L399.9 503.1L401 557.2L402.4 501.8L403.8 554L405 503L406.4 558.8L407.8 502.8L409 557.7L410.2 496.9L411.5 556.2L412.9 491.2L414.3 551.6L415.5 493.7L416.5 551.5L417.8 486.6L419.2 546.8L420.4 483.3L421.5 539.8L422.7 478.7L424 540.9L425.2 479.8L426.4 531L427.6 472.3L429 532.6L430.2 471.1L431.4 532.2L432.7 475.3L434.1 524.3L435.5 468.5L436.7 529L438.1 467.4L439.2 528.9L440.3 467.9L441.5 528.8L442.8 471.6L444 532.8L445.4 465.1L446.6 530.9L448 473.3L449.2 525.7L450.5 465.8L451.9 522L453.3 461.7L454.6 523.1L455.9 457.1L457.1 518.1L458.4 460.5L459.7 512.8L461.1 451.2L462.6 512.7L463.8 443.4L464.8 500.9L466.1 443.2L467.3 504.5L468.6 435.3L469.9 500.9L471 428.7L472.4 490.1L473.4 430.8L474.5 490.2L476 422.2L477.1 480.5L478.6 416.6L479.7 484L480.9 408.5L482.2 473.2L483.3 417.2L484.7 470.3L486 401.1L487.2 468.7L488.6 399.1L489.8 461.4L491 405.9L492.3 463.9L493.6 395.1L494.9 460.5L496.3 391.4L497.6 458.9L498.8 396.8L500.1 458.5L501.4 385.3L502.5 458.1L503.8 394.3L504.9 447.2L506 385.8L507.3 448.2L508.5 384.5L509.9 453.8L511.1 391L512.3 458.6L513.3 390.6L514.7 460.5L516.1 388.5L517.5 456.7L518.9 389.7L520.1 456L521.4 395L522.8 459.8L524.2 394.4L525.5 462.2L526.9 401.8L528.2 470.4L529.5 407.9L530.7 461.6L531.8 403.7L533.1 472.8L534.2 401L535.3 473.1L536.3 406.1L537.7 475.6L538.8 406.7L540.2 468.6L541.5 409.1L542.6 473.3L543.8 411.2L545.2 476.1L546.5 411.8L547.6 475.6L548.9 417.3L550.3 475.5L551.5 409.5L552.9 479.2L554.1 422.7L555.4 489.9L556.8 422.4L558.2 498L559.3 423.4L560.5 504.8L561.9 429.5L563.1 510.9L564.4 440.5L565.5 519L566.9 447.4L568.3 531.5L569.6 459.2L570.8 531.1L572 459.8L573.2 543.4L574.6 468.8L575.7 550.4L577 481.9L578.3 560.2L579.7 490.3L580.8 562L582.1 492.3L583.3 567.2L584.4 488.3L585.7 576.8L586.9 490.3L588.2 574.3L589.6 497.2L591.1 575.9L592.5 502.7L593.8 572.7L595.1 491.6L596.5 575.1L597.6 492L598.7 581.7L600 495.6L601.4 576.1L602.6 501.5L603.9 584.8L605.3 501.4L606.5 578.7L607.7 502.5L609.1 578.1L610.2 504L611.6 596.3L612.7 504.9L613.9 595.1L615.2 511L616.5 602L617.6 510.7L619 603.5L620.2 509.4L621.6 599.7L622.9 517.5L624.3 597.2L625.6 509.5L627 608.1L628.3 510.5L629.6 603L630.9 518.5L632 605.1L633.3 510.6L634.3 605.3L635.5 510.4L637 606.3L638.3 518.4L639.6 598.9L641 516.2L642.2 597.8L643.4 520L644.7 601.5L645.8 520.8L647 606.9L648.4 517.4L649.8 595L651 525.2L652.1 597.2L653.4 515.5L654.6 597.6L655.8 515.2L657.1 605L658.2 519.6L659.5 602.3L660.9 526.7L662.1 592.3L663.4 518.7L664.7 587.4L666 510.3L667.1 598.1L668.3 517.5L669.4 590.3L670.8 506.3L672.2 569L673.5 502.7L674.7 570.7L675.9 485.3L677.1 563.9L678.5 481.5L679.7 553.8L680.9 467.5L682.4 536.4L683.6 460.6L684.8 540.9L686.2 463L687.5 525.7L688.8 451.3L690 526.8L691.3 438.8L692.5 513.7L693.6 431.1L694.9 516.1L696 443.2L697.3 503.7L698.6 433.3L699.9 504.3L701.2 431.4L702.3 507.2L703.5 432.7L704.7 507.5L706 424.9L707.2 503.3L708.5 433.6L709.9 496L711 421.6L712.3 502.5L713.4 429.5L714.8 494.9L716.1 427.4L717.4 493.3L718.6 424.1L720 486.8L721.2 411.8L722.5 483.6L723.8 415.7L725 484.8L726.1 409.2L727.4 491.9L728.7 407.1L730.1 478.5L731.6 397.2L732.8 482.8L734.1 396.4L735.4 478.5L736.7 395.2L737.9 470.5L739.1 389.5L740.2 471.9L741.4 384L742.6 469.3L743.8 391.5L745.1 466.9L746.3 383.6L747.6 452.9L749 377.3L750.4 462.9L751.7 383.5L753.1 449.7L754.3 371.3L755.5 452.4L756.9 369.2L758.1 455.6L759.5 369.5L760.7 451.1L761.9 374L763.3 443.4L764.4 365.5L765.6 443.9L766.9 366.9L768.2 449.6L769.2 380.9L770.6 454.8L772 368.6L773.2 447.6L774.5 368L775.6 444.4L776.7 369.4L778 443.8L779.2 367.9L780.6 455.2L781.9 378.3L783.1 452.8L784.5 384.5L785.6 445L786.7 378.2L788 458.6L789.4 384.5L790.6 458L791.8 381.4L792.9 456L794 374L795.3 464.2L796.4 387.2L797.7 465.7L798.9 384.5L800.2 450.2L801.3 388.8L802.4 468L803.7 380.5L804.9 464.7L806.1 385.8L807.5 467.5L808.6 389.9L809.9 466.5L811.2 396.3L812.4 466.5L813.8 383.3L814.9 467.1L816 390.1L817.3 471.4L818.6 388.1L819.8 464.2L821 390L822.1 467.9L823.4 386.1L824.8 470.6L825.9 389.4L827.2 465.9L828.6 397.3L829.9 479.1L831.3 396.3L832.5 480.8L833.8 409.1L835 489.8L836.1 414.7L837.3 502.3L838.4 429.5L839.5 508.5L840.8 443.4L842.1 521.3L843.2 455.7L844.4 536.8L845.7 462.5L847 541.6L848.3 464.3L849.5 540.7L850.7 469.5L852.1 541.8L853.1 466.4L854.3 546L855.7 467.2L857 536.6L858.4 483L859.7 541.3L860.8 475.6L862.1 555.3L863.2 488.1L864.4 561.8L865.5 489.6L866.9 558.1L868.1 501.1L869.4 568.6L870.8 508.1L872.2 576.9L873.5 512.1L874.8 586.6L876 523L877 587.7L878.3 526.5L879.7 595.4L881 534.3L882.3 608.1L883.6 543.1L884.8 611.3L886.1 551.6L887.3 616.6L888.4 555.9L889.5 615L890.9 560L892.3 623.4L893.4 567.8L894.5 626.1L895.7 569.7L897.1 631.9L898.2 569.7L899.6 632.9L900.9 568.7L902 627L903.3 567.5L904.4 631.8L905.8 575.4L907.1 626.4L908.5 570.3L909.9 629.9L911 568.1L912.3 626.6L913.7 571.3L915.1 630.3L916.2 563.4L917.5 629.5L918.7 560.4L920 627.6L921.3 561.4L922.3 619.6L923.6 556.9L925 619L926.2 558.1L927.4 626.3L928.7 553.9L930.1 625.2L931.5 552.2L932.6 621.3L934 557.3L935.2 615.7L936.5 551.3L937.7 618.3L938.8 551.3L939.9 625.1L941.3 552.1L942.8 622L944 546.4L945.1 615L946.5 542.3L947.7 593.3L949 525.1L950.1 590.6L951.2 505.9L952.6 574.5L953.6 495.7L954.8 557.3L956.2 467.8L957.6 542.4L958.7 453L960 530.6L961.2 450L962.6 522.4L963.9 444.7L965 514L966.4 438.8L967.6 516.3L968.8 441L970.2 522.1L971.4 432.5L972.6 519.4L973.8 429.4L975.1 515.2L976.2 430.9L977.5 509L978.8 425.3L980.1 502.9L981.5 412.6L982.7 489.1L984 408.5L985.4 490L986.7 404.5L988.1 467.5L989.5 393.2L990.6 464.9L991.8 380.4L992.9 454.7L994.1 374.6L995.3 453.3L996.4 375.1L997.8 454.1L998.9 359.7L1000.1 450.1L1001.4 365.5L1002.6 442.1L1004 356.3L1005.2 439.1L1006.3 362.4L1007.6 444.8L1008.9 353.4L1010 433.7L1011.4 348.7L1012.6 440.6L1013.8 351.7L1014.9 436.3L1016.2 346.4L1017.4 439.2L1018.6 346.9L1019.9 437.2L1021 346.5L1022.1 440.4L1023.5 346.2L1024.8 438.7L1026.1 350.4L1027.2 443L1028.3 347.2L1029.7 430.9L1030.9 348.6L1031.9 441.2L1033.2 349.1L1034.5 440.3L1035.6 351.4L1036.8 437.6L1037.8 349L1039.2 433.5L1040.3 351.4L1041.4 438.9L1042.5 350.9L1044 440.9L1045.3 355.4L1046.6 429.3L1047.7 354.4L1048.9 439.9L1050.1 352.3L1051.5 438.2L1052.9 351.6L1054.2 423.5L1055.3 360.3L1056.6 439.6L1057.9 357.6L1059.2 422.7L1060.5 359.4L1061.6 433.9L1062.8 361.6L1064.2 435.3L1065.4 357.1L1066.8 439.5L1068 357L1069.2 440.3L1070.3 372.9L1071.5 449.1L1072.8 367.1L1073.9 444.9L1075.2 381.8L1076.6 461.8L1077.7 384.7L1079 464.8L1080.1 392.3L1081.5 473L1082.8 397.2L1084.1 469.9L1085.3 411.9L1086.5 481L1087.9 408.6L1089 481.2L1090.4 416.1L1091.6 492.9L1092.9 415.6L1094.1 493.1L1095.3 422.3L1096.6 498L1097.8 427.3L1098.9 489.9L1100.3 428.4L1101.5 496.5L1102.6 420.5L1103.9 491.7L1105 431.6L1106.3 498.4L1107.5 423.1L1108.7 502.4L1109.9 431.4L1111.2 502.9L1112.6 433.5L1113.8 506.8L1115 435.5L1116.4 505.2L1117.6 442.9L1118.6 516.8L1120.1 444.9L1121.5 522L1122.7 448.6L1124.1 525.9L1125.4 443.2L1126.8 524.1L1128.2 446.3L1129.5 530.6L1130.6 447L1132 534.6L1133.2 461.7L1134.5 529.4L1135.6 451.7L1136.8 537L1138 460L1139.4 533.6L1140.8 452.6L1142.1 533L1143.2 452.9L1144.3 539.3L1145.5 459.9L1146.9 541.2L1148.2 469L1149.4 539.1L1150.7 457.2L1151.8 547.1L1153.1 461.4L1154.4 545.9L1155.6 468.1L1156.8 552.6L1158 470.3L1159.3 550.9L1160.5 469.7L1161.8 557.8L1162.9 476.5L1164.2 561.8L1165.6 481.3L1166.8 561L1167.9 484L1169.2 571.7L1170.7 483.2L1172 574L1173.1 484.7L1174.4 579.6L1175.6 490.6L1177 576.9L1178.2 492.7L1179.6 574.6L1181 494.9L1182.2 583.2L1183.3 503.2L1184.7 584.2L1186 503.5L1187.3 589.7L1188.4 499.6L1189.7 586.2L1190.8 500.9L1192.1 595.1L1193.2 508.6L1194.5 580.3L1195.9 498.4L1197.3 586.1L1198.5 498.5L1199.8 593.3L1200.9 500.4L1202 585L1203.2 508.9L1204.4 586.9L1205.8 505.9L1207.1 602L1208.3 509.5L1209.6 602.1L1210.7 511.6L1211.9 606.5L1213.1 524.1L1214.6 607.4L1215.9 525.9L1217.2 603.3L1218.6 518.6L1219.7 609.4L1220.9 518.8L1222.2 608.6L1223.6 520.4L1224.9 614.5L1226 523.9L1227.2 611.7L1228.4 520.6L1229.7 607.7L1230.9 518.7L1232 595.5L1233.2 517.9L1234.5 606.5L1235.7 530.2L1237.1 605.2L1238.2 522.6L1239.3 600.1L1240.4 514.6L1241.8 596.1L1242.9 515.2L1244.3 597.4L1245.7 513L1246.9 593.6L1248 518L1249.2 583.5L1250.5 513.4L1251.6 583.5L1253 511.1L1254.3 589.1L1255.4 503.1L1256.8 580.8L1258.2 502.4L1259.5 577.8L1261 508.5L1262.1 573.2L1263.5 500.7L1264.7 580.1L1266.1 504.5L1267.3 570.4L1268.4 497L1269.8 573.8L1271.1 489.8L1272.3 559.5L1273.6 477.6L1274.7 547.1L1276.1 463.8L1277.3 534.7L1278.6 439.9L1279.9 516.9L1281.2 426.3L1282.6 500.6L1283.9 413.3L1285.2 488L1286.5 401.3L1287.9 478.6L1289.1 397.6L1290.2 479.2L1291.6 397.1L1293 483.6L1294.4 398.9L1295.7 474.3L1296.9 392.4L1298.2 471.5L1299.5 396.6L1300.8 474.5L1301.9 386.1L1303.3 467.5L1304.7 384.2L1305.8 458.2L1307 382.5L1308.4 464.3L1309.6 376.8L1310.8 452.6L1311.9 372.9L1313.1 449.9L1314.5 373.1L1315.8 448.2L1317 363.6L1318.1 447.9L1319.3 369L1320.7 436.2L1322 362.2" stroke="#efb261" stroke-width="1.0" fill="none" shape-rendering="crispEdges" clip-path="url(#cP3)"/>
<path d="M96 496.5L97.1 536.3L98.5 492L99.9 533.8L101.1 489.7L102.4 540.5L103.8 492.8L104.8 539.3L106 498L107.3 539.6L108.7 488.6L109.8 532.8L110.9 488.3L112 533.8L113.1 496L114.2 535.6L115.3 492.3L116.7 533.4L118.1 488.9L119.3 536.8L120.7 489.6L121.8 534.6L123 490.8L124.4 535.2L125.5 489.9L126.9 535.1L128.2 493.7L129.3 536.5L130.4 491L131.6 532.4L132.7 495.7L134.1 536.4L135.5 489.2L136.9 537.3L138.2 488.9L139.5 532.5L140.7 487.5L141.8 537.1L143.1 488.1L144.4 535.4L145.5 490.5L146.6 528.2L148 486.9L149.5 534.4L150.6 483.6L152 530.9L153.1 486.5L154.3 528.7L155.4 482.2L156.8 525.2L158.1 481L159.4 528L160.6 477.5L161.7 526.1L162.8 484.1L164.2 522.1L165.5 473.2L166.7 514.1L167.9 469.7L169.3 512.4L170.5 469.8L171.9 505.1L173.3 468.3L174.6 504.5L175.7 461.2L176.9 507.5L178.3 458.8L179.4 502.1L180.8 457.3L181.9 495.4L183.4 451.6L184.5 493.3L185.9 451.3L187 494.1L188.3 449.5L189.3 488.5L190.7 448.4L191.8 486.7L193.2 443.9L194.4 483.1L195.7 443.7L196.9 477.3L198 442.1L199.2 475.1L200.6 437.3L202 476.4L203.2 436.9L204.4 472.4L205.7 435.5L207 472.3L208.2 432.6L209.6 467.8L211 428.4L212.1 467.7L213.2 427.1L214.5 463.6L215.9 426.3L217.2 467L218.3 425.1L219.4 466.6L220.7 427.8L221.7 468.6L223 428.5L224.4 468.8L225.7 426.1L226.9 464L228.1 428.3L229.5 469.5L230.7 429.3L232.1 469.7L233.1 430.5L234.3 466.3L235.6 430L236.8 472.1L238.1 431.8L239.4 473.3L240.5 433.1L241.7 472.5L243 437.1L244.3 476L245.4 433.2L246.8 473.6L248.1 439.2L249.2 477L250.5 438.2L251.6 474.2L252.9 433.3L254 475.8L255.3 436L256.7 472.9L258.1 436L259.2 474.4L260.6 436.6L261.8 476.6L263 439L264.2 481.3L265.3 444.8L266.5 486L267.6 446L268.8 484.9L270 444.1L271.1 490.8L272.2 447.7L273.5 493.5L274.7 455.8L275.8 496.7L276.9 453.4L278.2 496.3L279.5 452.9L280.8 505.1L282.2 456.1L283.6 513.3L285 459.3L286.3 513.3L287.4 465.4L288.8 516.8L290 473.3L291 520.5L292.4 476.7L293.5 526L295 476.9L296 524.7L297.2 484.4L298.5 528.6L299.7 484.3L300.8 532.2L302 484.3L303.1 541.6L304.3 486.1L305.4 546L306.8 480.9L308.1 544.9L309.3 489.7L310.5 546.6L311.9 491L313.2 551.2L314.6 487.2L315.6 545.6L316.9 487.9L318.3 553.3L319.5 493.6L320.8 542.5L322.2 494.9L323.5 553.9L324.6 494.7L325.9 553L327 489.8L328.3 553.5L329.5 498.4L330.8 551.6L332 489.4L333.3 551.2L334.6 490.3L335.9 554L337 489L338.2 550.9L339.3 494L340.5 551.4L341.6 494.8L342.9 550.9L344.1 499.2L345.4 555.5L346.7 493.4L348.1 551.3L349.2 493.5L350.4 550.2L351.7 495L352.9 549.7L354.2 494.3L355.6 554.9L356.8 494.3L358.2 556.1L359.6 500.6L360.7 549.4L362.1 495L363.4 549.9L364.6 495.1L365.7 556.3L367 493.7L368.4 553.2L369.6 497.6L370.8 553.2L372 498.1L373.2 553.1L374.3 492.3L375.6 549.7L376.9 491.8L378.1 546L379.2 494.8L380.3 543.2L381.6 493.2L383 542.3L384.4 493L385.8 541.5L387.2 486L388.5 532L389.8 483.2L391.1 533.4L392.4 482.3L393.8 528.4L394.9 482.4L396.2 521.4L397.5 481L398.6 518.8L399.9 476.8L401.1 515.3L402.4 473.6L403.5 509.8L404.7 475.6L405.9 507.2L407 475.9L408.2 504.8L409.5 467.9L410.9 501.4L412.1 467.5L413.3 499L414.7 465.3L416.2 496.8L417.5 463L418.8 494L420.2 462L421.4 490.6L422.7 464.5L424.1 489.7L425.3 461.5L426.6 489.1L427.8 461.8L428.8 487.9L429.9 461.4L431 486.9L432.4 460.9L433.5 484.9L434.9 461.6L436 488.1L437.4 460.4L438.6 487.7L439.8 458.5L441.1 485.7L442.4 457.9L443.5 484.8L444.8 457.5L446 486.5L447.3 455.9L448.4 484.9L449.6 457.1L451 485.7L452.3 454.2L453.5 481.4L454.8 450.5L456.2 481.8L457.5 448.4L458.7 482.7L460.1 450.2L461.4 483.2L462.7 444.2L464 478.5L465.2 445.5L466.4 479.3L467.8 441.5L469.1 479.8L470.2 442.8L471.3 479.7L472.5 436.9L473.9 479.6L475.2 438.7L476.3 476.8L477.7 432.9L478.8 471.6L480 432.9L481.2 476.7L482.5 430.1L484 472L485.4 435.1L486.7 476L487.8 431.5L489.1 473.3L490.2 433.6L491.5 470.1L492.6 430L493.9 468.9L495 429.3L496.2 474.7L497.4 425.3L498.8 475.7L500 425.8L501.1 467.6L502.4 426.9L503.5 471.3L504.9 426.4L506 475.4L507 428L508.3 471L509.5 427.3L510.9 470.3L512 429.3L513.4 468.6L514.7 427L516.1 470.6L517.4 429L518.8 477.2L520.1 427.9L521.2 473.3L522.6 428.2L523.8 472.5L525.2 427.7L526.5 477.7L527.6 430.1L529 477.6L530.2 431.2L531.6 477.7L532.7 432L533.9 475.6L535.1 436.7L536.2 478.6L537.4 437.5L538.6 478.3L539.8 434.2L541.2 479.6L542.5 430.6L543.8 478.3L545 432.9L546.1 476.7L547.2 430.1L548.4 472.1L549.5 430L550.8 475.3L551.9 433L553.2 479.4L554.3 431L555.6 480.6L557.1 436.6L558.2 480.2L559.6 433.4L560.8 488L562 435.7L563.1 491.2L564.4 439.5L565.8 496.3L567 444.5L568.1 500.4L569.3 446.2L570.5 508.2L571.8 449.6L573 511.5L574.2 452.9L575.3 517L576.4 456.7L577.5 516.1L578.7 457.4L579.8 531.5L580.9 463.8L582.1 537L583.4 460.2L584.8 541.3L585.9 470.3L587.3 542.4L588.4 471.1L589.6 548.9L591 471.9L592.1 551.1L593.4 475.2L594.9 552.2L596 476.2L597.2 551.9L598.6 472.7L599.8 557.3L601.2 479.4L602.6 543.1L604 472.3L605.4 542L606.8 479.4L607.9 557.1L609.2 470.3L610.5 555.7L611.8 470.3L613.1 548.6L614.3 474.3L615.4 553.5L616.8 470.8L618.2 550.2L619.5 470.1L620.6 540.9L621.8 480.2L622.9 544.9L624.2 470.5L625.6 545.1L626.7 477.5L628 530.3L629.1 476.3L630.4 541.9L631.6 473.3L632.7 541.1L634.1 475.2L635.1 538.8L636.3 471.7L637.5 539.3L638.8 474L640 533.6L641.2 475.9L642.5 530.1L643.6 471.1L644.7 526.1L646.1 476.1L647.4 532.7L648.9 477L650 535.3L651.2 472.4L652.4 535.6L653.7 469.5L654.8 525.3L656.3 469L657.4 529.2L658.5 466.7L659.6 529.7L660.9 459.5L662.3 524.4L663.6 465.9L665 527.8L666.2 456L667.4 513.6L668.5 458.1L669.7 517.8L670.9 451.5L672 516.6L673.2 459.3L674.6 518.5L675.7 456.5L676.8 510.1L678 443.9L679.4 516L680.5 442L681.8 512.8L682.9 441L684 510.6L685.4 437.8L686.8 512.8L687.9 442.1L689.1 509.8L690.3 442.9L691.6 509.6L692.7 435.4L693.9 504.5L695.2 432.2L696.4 501.2L697.5 430.5L698.6 505.9L699.8 431.8L701.1 508L702.5 440.4L703.8 509L705.1 430.6L706.4 505.1L707.6 433.1L708.7 505.2L710 428.9L711.4 502.9L712.6 428.2L713.8 503.8L714.9 427.4L716.2 501.5L717.3 430.7L718.7 504L720.1 430.6L721.3 495.4L722.7 427L723.8 498.3L724.9 420.8L726.2 488.8L727.5 421.7L728.7 488.2L729.9 427.1L731.3 488.1L732.4 420.9L733.7 490.3L735 412L736.2 488L737.3 414.7L738.5 482.7L739.8 407.4L741.1 484.4L742.5 408.7L743.8 477.1L745.1 406.9L746.2 480.3L747.4 406L748.7 485.8L750 402.9L751.2 480.3L752.5 402.5L753.6 486.7L754.7 405.2L755.9 485.4L757.3 398.6L758.4 476.9L759.5 399.1L760.6 475.6L761.9 406.7L763.3 473.7L764.8 395.8L766.1 475.9L767.4 395L768.8 478.6L769.9 392.1L771 479.7L772.2 395.6L773.4 471.7L774.5 403L775.7 477.3L776.9 393.4L778.2 471.6L779.6 394.1L780.7 482.7L782 398.3L783.3 478.3L784.7 398.2L785.9 475.8L787.2 402.7L788.6 475.9L789.7 403.1L791 480.4L792.2 402.3L793.4 487.7L794.6 405.6L795.8 480.4L797.2 410.6L798.5 492.1L799.7 413.2L801 483.2L802.1 409.3L803.2 489.5L804.5 414.3L805.8 491.9L806.9 415.4L808.1 487.6L809.2 423.2L810.6 492.4L812 422.1L813.2 497.5L814.5 424.9L815.6 498.6L816.7 419.8L817.9 497.7L819.1 426.8L820.5 497.2L821.9 430.3L823.3 490.9L824.5 432.3L825.8 497.2L827.1 435.3L828.2 494.4L829.6 428.5L831 492.9L832.2 424.4L833.3 487.2L834.4 423.9L835.8 494.3L836.9 429.4L838.3 503.7L839.4 436.1L840.7 502.7L842 432.2L843.2 504.8L844.5 434.3L845.9 501.4L847.2 442.3L848.3 511.1L849.5 446.9L850.8 506L852.2 450.1L853.4 514.7L854.5 447.4L855.9 508.8L857 452.2L858.4 508.4L859.7 459L861 520.6L862.1 458.5L863.4 515.3L864.6 461.5L866 527.6L867.3 468.3L868.7 527.4L870.1 472L871.5 529.1L872.7 473.6L874 525.7L875.3 474.1L876.4 532.1L877.8 471.1L879.1 529.6L880.4 471.7L881.8 532.3L883 479.7L884.4 528.2L885.8 472.2L887 527.8L888.3 470.7L889.5 533.1L890.9 472.1L892.2 526L893.6 480.9L895 527.8L896.3 471.3L897.4 525.6L898.7 473.2L900.2 531.3L901.4 475.7L902.6 531.3L904 473.7L905.2 533.5L906.5 471.4L907.9 527.8L909.3 473.8L910.6 528.8L911.7 471.7L913 533.3L914.3 475.7L915.5 531.4L917 478.2L918.1 528.6L919.2 475L920.3 533.4L921.4 470.8L922.8 533.6L924.1 478.6L925.2 533.6L926.4 470.6L927.7 529.7L929.1 471.1L930.4 529.4L931.8 471.5L933 529.2L934.2 475.1L935.3 533L936.7 474.7L937.8 530L939.1 470L940.3 522.6L941.6 473.1L942.9 527.6L944.1 470.9L945.1 532.3L946.4 461.5L947.8 531.7L949 460.4L950.1 526.2L951.2 463.8L952.5 517.5L954 457.4L955.1 531.2L956.4 455.6L957.6 528.3L958.8 451.1L960 527L961.3 458.3L962.4 527.4L963.6 449.5L964.9 528.4L966.3 456.5L967.6 527.1L968.6 443.1L969.8 525.3L971 443L972.3 524.1L973.7 442L974.9 520.1L976 442.7L977.1 522.7L978.3 444.9L979.4 521.5L980.7 445.1L982.1 525L983.3 447.9L984.5 528.4L985.6 442.3L986.8 524.3L987.9 441.6L989.2 526L990.3 440.3L991.4 520.3L992.5 439.2L993.7 527.5L995.1 437.2L996.3 521.2L997.7 437.4L998.9 522.8L1000.2 437.8L1001.5 512.1L1002.7 441.6L1003.9 514.4L1005.3 448.9L1006.5 521.6L1007.9 434.5L1009.2 515.3L1010.6 429.9L1012 515.1L1013.1 432.3L1014.5 509.2L1015.7 427.1L1017 509.7L1018.2 431.4L1019.5 505.1L1020.6 425.1L1021.9 510.4L1023.3 421.1L1024.4 505.1L1025.7 420.4L1026.9 498.9L1028.2 420.3L1029.6 497.7L1031 414.5L1032.3 494.7L1033.6 411.4L1034.9 501.5L1036.3 416.6L1037.5 492.3L1038.7 407.2L1040 495.2L1041.2 405.6L1042.3 490.3L1043.7 406.1L1045 487.6L1046.3 415.9L1047.7 488.9L1049 411.9L1050.3 490.1L1051.6 407.7L1052.9 490.8L1054.1 415.1L1055.4 476.1L1056.8 405.5L1057.9 483.2L1059.1 403.2L1060.4 489.4L1061.8 406.3L1063 487.6L1064.2 396L1065.4 477.6L1066.6 406.3L1067.8 476.6L1069 408L1070.2 483.5L1071.2 400.6L1072.4 485.2L1073.6 402.3L1075 487.3L1076.1 398.1L1077.4 489.8L1078.8 399.6L1079.9 488.5L1081 410.8L1082.4 478.1L1083.6 414.4L1084.7 486.7L1086 404.5L1087.3 491L1088.5 411L1089.9 489.6L1091.3 410.3L1092.4 482L1093.5 411.4L1094.8 490.3L1096 417.7L1097.3 495.6L1098.7 423L1100.1 495.8L1101.4 418.7L1102.7 497.7L1103.9 418.8L1105 489.7L1106.3 423.2L1107.7 489.7L1109 422.4L1110.3 499.3L1111.7 432.2L1113.1 497.7L1114.3 432.6L1115.4 496.1L1116.7 423.6L1117.8 493.1L1119.2 434.2L1120.4 500.3L1121.5 436.8L1122.8 497.2L1124 430.8L1125.2 501.9L1126.6 430.8L1127.7 504.4L1128.9 439L1130.2 507.8L1131.5 434.4L1132.9 507.6L1134 438.2L1135.1 518.8L1136.4 451.6L1137.5 522.2L1138.9 447.2L1140 525.8L1141.2 462L1142.6 527.8L1143.8 457.8L1144.9 533.6L1146.4 458.5L1147.5 536.5L1148.6 459.5L1149.9 538.8L1151 463.3L1152.3 548.8L1153.7 473L1154.8 552L1156 471.1L1157.3 551.5L1158.7 473.3L1160 558.7L1161.1 481.5L1162.3 554.8L1163.3 488.2L1164.5 556.7L1165.7 481.5L1166.8 563.2L1168.2 487.3L1169.6 559.7L1170.7 487.6L1171.8 570.5L1173.1 485.8L1174.1 562.8L1175.2 496L1176.3 572.8L1177.6 485.4L1178.9 573.5L1180 485.2L1181.1 567.7L1182.5 490.7L1183.7 563L1184.9 491.6L1186.1 574.1L1187.4 487.4L1188.5 568.2L1189.7 488.4L1191.1 573L1192.3 497.3L1193.7 566L1194.9 487.1L1196.3 573.3L1197.6 496L1199 567.8L1200.3 485.4L1201.6 572L1202.8 484L1203.9 569.6L1205.2 485.6L1206.3 570.4L1207.5 487.3L1208.9 567.8L1210.2 483.7L1211.5 569.5L1212.6 485.9L1213.9 562L1215.1 484.6L1216.4 565.2L1217.8 485.4L1219 566.1L1220.1 492.9L1221.5 567L1222.6 482.8L1223.8 567.5L1225.2 489.8L1226.4 566.6L1227.8 480.3L1229 548.9L1230.4 477.4L1231.8 551.4L1233.1 469.2L1234.3 542.7L1235.7 460.3L1237.2 520.9L1238.6 453.2L1239.7 515.2L1240.8 438.7L1242.1 499L1243.3 430L1244.6 487.9L1245.9 419.4L1247 483.5L1248.2 410.5L1249.6 473.5L1250.9 406.5L1252.2 462.8L1253.4 406.3L1254.5 465.2L1255.7 408.9L1257.1 468.4L1258.2 401.5L1259.7 469.2L1261 404.8L1262.1 469.3L1263.2 408.6L1264.6 463.7L1265.9 408.1L1267 471.8L1268.2 409.8L1269.5 472.5L1270.7 403.6L1272 465.1L1273.3 412.3L1274.4 470.7L1275.8 409.6L1276.9 474L1278 406.5L1279.2 480.7L1280.6 415.2L1281.9 482.2L1283.3 414.3L1284.4 486L1285.5 407.2L1286.9 490.8L1288.1 414L1289.1 492.3L1290.4 410L1291.8 490.2L1292.9 421L1294.1 496.4L1295.2 416.7L1296.6 496.7L1297.9 416.4L1299 490.6L1300.3 421.5L1301.4 492.9L1302.8 430.8L1304.1 507L1305.3 418.6L1306.7 501.2L1308.1 416.2L1309.2 512.2L1310.3 430.1L1311.6 503L1312.9 418.2L1314.3 500.3L1315.7 424.3L1316.9 510.7L1318.2 422.7L1319.4 513.9L1320.6 426.5L1321.8 506.5" stroke="#188a7b" stroke-width="1.0" fill="none" shape-rendering="crispEdges" clip-path="url(#cP3)"/>
<path d="M96 407.6L97.3 476.6L98.5 406.9L99.9 477.3L101 406.9L102.3 473.7L103.7 408L104.9 477.6L106.2 410.7L107.4 473.6L108.5 407.3L109.8 472.9L111.2 404.5L112.5 475.4L113.6 415.3L115 471.1L116.2 404.8L117.5 468.4L118.7 411.5L119.9 464.4L121.1 410.6L122.3 469.6L123.4 416.1L124.8 476L126.1 413.6L127.2 468.3L128.4 415.2L129.6 469.9L130.7 406.8L131.9 473.4L133.1 407.9L134.5 471.4L135.6 408.5L136.8 476.3L137.9 405L139 474.1L140.2 410.5L141.6 475.6L142.7 408.4L144 465.9L145.1 407.3L146.4 473.3L147.6 408.3L148.8 477.1L150.2 408.5L151.3 472.5L152.7 410.4L153.8 469.6L155.1 407.1L156.3 474.9L157.6 404.3L159 472.9L160.4 404.6L161.7 476L163 408.2L164.4 474.9L165.7 411.7L166.8 470.9L168.1 407.6L169.3 469.6L170.7 414.8L172.1 476.2L173.4 404L174.7 464.4L176.1 409.3L177.5 476.6L178.6 415.9L179.7 476.3L181 411.7L182.1 472.2L183.5 406.1L184.9 477.8L186.2 405.3L187.3 464.4L188.7 407.2L189.9 468.5L191.1 410.3L192.3 473.5L193.5 415.5L194.6 470.1L195.7 411.8L196.8 480L198.1 413.7L199.4 477L200.4 422.9L201.6 482.2L202.8 422.7L204.2 479.2L205.4 426.7L206.6 495.3L207.7 437.8L208.8 502.4L210 441.1L211.5 505.9L212.9 444.5L214.2 503.8L215.4 446.1L216.6 519.9L217.9 451.5L218.9 524.1L220.1 464.1L221.5 528L222.8 469.1L224.2 538.3L225.5 475.3L226.8 543.8L228.2 477.5L229.4 538.4L230.7 485.4L231.9 539.8L233 484.9L234.2 545.8L235.4 483.3L236.5 546.7L237.8 483.4L239.2 553.3L240.3 484L241.7 556.2L243 488.6L244.3 555.3L245.7 487.3L247 550.4L248.2 486.7L249.4 552.1L250.8 490.3L252 550.2L253.4 489.2L254.7 556.3L256.1 483.8L257.3 551.8L258.6 489.6L259.9 555.7L261.3 487.9L262.4 544.2L263.6 485.5L264.8 555.1L266.1 484.6L267.5 550L268.8 487.3L269.9 546.4L271.3 481.7L272.4 554L273.5 486.1L274.6 555.5L275.9 484.9L277.1 548.7L278.2 491.8L279.3 552.2L280.6 483L281.8 556L282.9 485.4L284.1 547.3L285.5 482.4L286.6 547.2L288 485.9L289.1 549.1L290.3 483.5L291.5 552.5L292.6 484L293.9 549.2L295.3 480.1L296.6 549.9L297.7 482.2L298.9 545.8L300.1 486.7L301.4 552.1L302.5 480.5L303.6 546.8L305 476.6L306.1 550.1L307.3 475.5L308.5 548.2L309.6 477.7L310.9 549L312.2 476.1L313.5 545L314.8 473.8L316.1 544.4L317.5 471.7L318.9 542.5L320.1 468L321.3 541.5L322.7 465.2L324.1 538.3L325.3 469.4L326.6 538.1L327.8 468.6L329.2 536.4L330.3 467.9L331.4 531.4L332.8 463.9L334.2 521.1L335.3 458.1L336.7 527L338 458.3L339.2 525.6L340.2 459L341.4 525.5L342.6 456.7L344 523.9L345.2 448.8L346.6 524L347.8 448.8L348.9 518.8L350.1 452L351.3 522.3L352.5 453.6L353.7 512.9L354.7 442.8L356 508.1L357.3 450.6L358.5 520.4L359.9 446.5L361.3 515.6L362.4 446.1L363.8 518.2L365.1 440.1L366.3 517.4L367.7 440.5L369.1 518.5L370.2 445.3L371.5 508L372.7 444.1L373.9 507.9L375.2 443.1L376.3 513.3L377.7 442L379 500.8L380.1 440.4L381.4 505.3L382.8 430.6L384.2 504.8L385.4 432.5L386.6 501.3L387.9 423.7L389.3 497L390.6 426.1L391.8 494.6L393.2 428.2L394.2 486.8L395.6 411.4L397 477L398.2 409.5L399.4 479.4L400.8 418.9L402.1 483.1L403.4 404.1L404.5 478.4L406 412L407.2 481.3L408.3 403.1L409.7 473.1L411.1 402.9L412.2 480.9L413.6 406.2L414.7 479.2L416 404.1L417.1 476.1L418.4 405.1L419.5 474.3L420.8 408.8L422.2 480.3L423.3 408.4L424.4 479.7L425.7 407.4L427.1 480.1L428.2 419.1L429.5 476L430.9 414.8L432.1 478.4L433.3 415.7L434.5 477.9L435.6 417.4L436.9 478L438.3 419.8L439.7 478.1L440.9 419.1L442.1 477.6L443.2 417.5L444.4 468.8L445.5 422.7L446.6 479L447.8 418.4L449 474.9L450.4 418.9L451.8 472L452.9 420.6L454.1 472.8L455.2 425.1L456.4 480.7L457.8 429.3L459.2 483.2L460.6 425.2L462 482.1L463.3 430.6L464.5 484.3L465.9 436.1L467.2 498.6L468.6 449L470 506.4L471.2 445.8L472.6 508.7L473.8 453.3L475.1 515.3L476.5 457L477.7 526.3L478.8 465.6L480.1 529L481.3 475.2L482.5 535.4L483.7 481.7L485 540L486.2 485L487.6 547.5L488.7 488.1L490 551L491.4 500.1L492.7 559.2L494.1 503.1L495.4 570.5L496.7 508.4L497.9 573.2L499.2 507.8L500.2 569.2L501.3 509.7L502.4 580.9L503.7 510.8L505 584L506.1 512.8L507.3 574.7L508.7 520.5L510 574.1L511.2 517.7L512.4 585.6L513.6 513.6L514.7 586.6L515.9 515.3L517.3 584L518.7 522.9L520.1 574.4L521.4 513.4L522.8 583.7L524.1 511.7L525.2 584.7L526.6 519.5L527.8 579.9L528.9 511.8L530.3 582.5L531.4 512.4L532.8 581.7L534.2 510L535.5 581.4L536.7 511L537.9 575.9L539.1 515.4L540.2 573.6L541.3 516.5L542.4 580.3L543.8 514.6L545.1 581.2L546.2 511.7L547.5 573.4L548.9 509.5L550.1 578L551.5 519L552.9 577L554.1 513.4L555.3 568.7L556.7 508.3L558.1 574.4L559.5 508.1L560.6 566.6L562 495.4L563.2 561.8L564.5 489.3L565.7 555.9L567 488.2L568.3 542.6L569.4 474.6L570.6 539.9L571.7 466.1L572.8 525.8L574.1 458.1L575.4 519.5L576.7 451.7L578.1 510.5L579.2 436.9L580.3 500.4L581.6 428.1L582.7 490.9L584 422.3L585.2 487.7L586.7 423L587.9 481.3L589.2 406L590.4 469.7L591.7 401.9L593.1 468.3L594.2 399.2L595.4 457L596.4 400.6L597.6 463.8L598.9 397.4L600.2 458.5L601.5 395.7L602.9 463.3L604.2 394.3L605.5 459.7L606.9 401.3L608 465.4L609.3 402L610.7 463.1L611.7 399.1L612.9 459.3L614.3 400.7L615.3 464.9L616.6 397.7L618 463L619.4 399.3L620.6 459.1L621.8 396.7L623 461.2L624.4 395.3L625.4 459.9L626.7 404.3L628.2 462.2L629.4 397.4L630.7 458.2L632 397.6L633.2 458.6L634.3 396.6L635.4 455.8L636.6 395.5L637.8 458.9L639.1 396.9L640.3 455L641.6 395.8L642.7 452.9L643.9 395.3L645.1 454L646.3 397.8L647.6 454.9L648.8 394L650.2 453.4L651.4 402L652.9 453.7L654.3 401.1L655.4 454.6L656.6 399.5L657.8 455.3L658.9 396.7L660.2 453L661.4 404.8L662.5 456.6L663.8 395L665.1 453.5L666.3 403.1L667.4 452L668.7 397.4L670.1 454.4L671.2 404.7L672.6 459.6L673.9 402.6L675.2 464.8L676.5 407.1L677.6 475.8L678.9 413.4L680.1 471.3L681.5 419.5L682.8 484.4L684.1 416.8L685.2 489.2L686.4 421.1L687.7 492.6L689 425.7L690.1 494.3L691.3 429.2L692.6 500.1L694 439.9L695.3 512.8L696.4 435.8L697.5 511.2L698.9 441.4L700 518.7L701.3 455.5L702.7 514.3L704.1 447.9L705.4 526.4L706.5 452.9L708 524.7L709.2 454.2L710.6 537.1L712.1 455.3L713.3 541.8L714.4 456.1L715.4 531.2L716.5 460.4L717.9 542.8L719.2 462L720.3 539.1L721.5 460.1L722.8 532.6L724.2 466.8L725.6 529.9L726.7 456L727.9 539.5L729.2 469.2L730.5 546L731.8 472.3L732.9 547.2L734 460.6L735.3 547.5L736.6 463.6L738 548.6L739.1 473.3L740.4 548.6L741.7 469.6L743.2 550.8L744.4 473.5L745.5 547.9L746.8 470.5L748.2 550.8L749.6 465.5L750.9 559.2L752.1 472.8L753.3 556.1L754.7 476.2L756.1 562.6L757.3 476L758.5 560.9L759.9 474.7L761.2 564.4L762.4 484.4L763.6 568.6L764.9 489L766.2 569.7L767.5 474.3L768.7 561.6L769.9 491.4L771.3 567.8L772.6 481L773.9 567.5L775.2 477L776.7 570.8L777.9 480.9L779.3 567.5L780.4 481.8L781.8 563.4L783 479.8L784.3 566.6L785.6 476.6L786.9 572.3L788.1 480.5L789.3 562.6L790.5 472.4L791.8 558.1L793.2 473.2L794.3 558.2L795.4 473.5L796.8 555.2L797.9 474.1L799.4 549.6L800.6 471.1L801.9 553.3L803.2 462.3L804.6 542.3L806 461.7L807.1 540.1L808.3 455.2L809.4 540.6L810.7 464.2L811.9 536.2L813.2 449.3L814.3 533.9L815.4 458.9L816.8 527.1L817.9 452.1L819.1 527.3L820.2 443.9L821.4 527.4L822.6 447.9L823.9 514.2L825 437L826.3 518.4L827.4 446.4L828.7 518.8L830.1 440.6L831.3 519.6L832.5 440L833.7 514.6L834.9 436.1L836 519.6L837.4 436.9L838.6 520.8L839.9 438.4L841 519.4L842.2 436.6L843.3 508.4L844.6 430.2L845.8 513L847.1 435.7L848.4 504.3L849.6 428L850.9 495.8L852.3 426.6L853.7 488.9L854.9 419.7L856.4 492.2L857.8 413.1L858.9 488.4L860 407.5L861.1 481.8L862.2 405.6L863.7 482L865 394.2L866.2 478.9L867.3 393.2L868.6 470.5L869.8 384.3L871.1 465.4L872.2 386L873.5 460.4L874.8 379L876.2 459.8L877.6 373.5L878.9 455.2L880.3 369.6L881.5 446.1L882.9 365.3L884.4 446.8L885.5 373.1L886.7 445.5L887.8 359L889 448.1L890.1 364.9L891.2 445L892.6 355.5L893.7 444L895.1 360.4L896.5 442.1L897.6 355.3L898.7 431.5L899.8 351.8L901 439.8L902.4 358.9L903.5 435.2L905 358.8L906 431.1L907.2 352.6L908.4 443.5L909.6 352.9L910.9 437.3L912.1 359.2L913.3 442.1L914.7 371L915.9 447.3L917.3 359.3L918.5 444.2L919.9 364.7L921.3 441.6L922.7 365.3L924.1 446.5L925.4 366.4L926.6 445.6L927.9 378L929.1 459.1L930.3 369.3L931.7 449.6L932.9 373.1L934 449.7L935.1 373.3L936.5 462L937.7 382.7L939 449.3L940.1 375.1L941.5 457.7L942.7 378.8L944.1 460.5L945.3 378.3L946.7 457.2L947.9 381.7L949.1 467.5L950.2 394.1L951.5 471.3L952.9 394.8L954.4 477.3L955.5 399L956.7 479.5L957.9 406.7L959.2 488.8L960.3 408.2L961.4 496.5L962.5 424.4L963.8 510.8L965.1 434.6L966.2 521.9L967.5 441.1L968.7 522.2L970 459.8L971.3 534.9L972.5 451.9L973.6 547.2L974.9 464.3L976.3 563.9L977.5 471.1L978.7 571.7L980 493.7L981.4 573.4L982.5 494.1L983.7 584.8L985 489.9L986.2 580.9L987.4 503.1L988.6 588.7L990 491.7L991.4 587.9L992.7 493.5L994 590.8L995.1 506.3L996.3 586L997.5 505L998.8 589.9L1000 491.2L1001.2 586.2L1002.6 501.1L1003.7 579.9L1004.9 496.1L1006.1 591.7L1007.4 497.4L1008.9 595.4L1010 493.7L1011.3 596.9L1012.7 495.4L1013.8 593.1L1015.1 500.5L1016.5 595L1017.8 503.9L1019 599.2L1020.2 504.8L1021.5 596.6L1022.6 505.4L1023.9 592.4L1025.1 501.9L1026.3 604.6L1027.5 505.4L1028.7 598.7L1030 500.1L1031.4 594.3L1032.7 504L1034 597.4L1035.2 507.1L1036.3 608.3L1037.7 500.2L1038.8 596.8L1040.2 505.3L1041.3 606.7L1042.6 503.1L1044 598.1L1045.2 503.5L1046.6 602.3L1047.9 505.2L1049 605.6L1050.2 509.9L1051.3 597.6L1052.7 498.7L1054.1 601.8L1055.4 505.4L1056.5 594.3L1057.8 505.1L1059.2 580.8L1060.3 503.7L1061.6 589.8L1062.7 501.5L1064 588.2L1065.3 489.6L1066.6 579.4L1067.7 496.8L1068.9 580.9L1070.2 487.3L1071.6 575.9L1072.8 493.4L1073.9 570.5L1075 483.2L1076.4 559.3L1077.8 486.9L1079 565L1080.1 486.6L1081.3 561.8L1082.7 481.4L1083.8 558.6L1084.9 478.1L1086.4 555.2L1087.7 476.7L1088.9 550.5L1090.1 474.5L1091.6 539.3L1092.7 474.1L1094.1 547.5L1095.3 478.7L1096.6 538.1L1097.8 471.6L1099 546.5L1100.1 481.7L1101.5 539.6L1102.8 473.6L1104 542.7L1105.3 473.6L1106.4 541.9L1107.7 473L1108.9 542.9L1110.1 480.1L1111.2 543.8L1112.5 475.5L1113.7 535.4L1114.8 475.1L1116 535.8L1117.1 469L1118.3 526.1L1119.6 476.1L1121 531.2L1122.2 471.4L1123.6 526.5L1124.7 468.5L1126 523L1127.3 466.2L1128.4 526L1129.6 467.2L1130.8 522.9L1132 467.2L1133.2 520.2L1134.4 468.2L1135.5 518.6L1136.9 462.8L1138.3 513.1L1139.7 463.3L1140.9 510.6L1142.1 465.2L1143.2 509.3L1144.6 468.4L1145.9 511.3L1147.2 468.6L1148.6 507.5L1149.9 462.4L1151.3 511.5L1152.6 466L1153.8 506.7L1154.9 464L1156 510.8L1157.3 457.9L1158.8 509L1160.1 459.1L1161.3 504.5L1162.7 456.8L1163.9 505.4L1165 450.7L1166.1 499.2L1167.4 446.9L1168.8 500.1L1170.2 441.2L1171.4 499.7L1172.4 437.3L1173.6 490.8L1174.8 432.5L1176.2 490.2L1177.6 430.4L1179 490.6L1180.3 424L1181.5 478.9L1182.9 413.9L1184 475.5L1185.4 407.9L1186.7 467.9L1188 408.3L1189.3 468.9L1190.7 397.9L1191.7 472L1192.9 391.4L1194 467.7L1195.3 391L1196.5 462.7L1197.5 381.1L1198.7 450.7L1200 381L1201.3 458.5L1202.4 388.2L1203.8 457.8L1205 376.5L1206.3 458.3L1207.6 373.4L1208.8 457.1L1210 363.9L1211.1 452.6L1212.5 359.4L1213.8 448.4L1215 362.2L1216.2 451.2L1217.5 356.1L1218.9 448.3L1220.2 356.1L1221.6 448.5L1222.8 373.3L1223.9 449.5L1225 362.1L1226.4 447.3L1227.6 357.1L1228.9 455.1L1230.3 366.9L1231.4 455.9L1232.7 369.3L1233.9 456L1235.1 364.2L1236.2 451.7L1237.4 364.1L1238.5 450.9L1239.6 367.1L1241 454.7L1242.5 368.9L1243.7 459.5L1245.1 371.4L1246.4 456L1247.7 370.2L1248.9 459.4L1250 380.7L1251.2 459.4L1252.3 376.4L1253.5 465.5L1254.7 370.6L1255.8 463.8L1256.9 376.6L1258.1 464.4L1259.2 380L1260.5 465.8L1261.7 390.4L1262.9 470.5L1264.2 390.5L1265.4 486.2L1266.8 399.9L1268 497.5L1269.3 404.9L1270.6 499.2L1271.9 421.8L1273.1 523.8L1274.4 436.3L1275.6 524.7L1276.8 445.1L1277.9 551.9L1279.2 461L1280.4 560.5L1281.7 469L1283.1 570.6L1284.5 476.5L1285.8 565.8L1287 475.1L1288.4 582.8L1289.5 484.8L1290.8 584L1292 488.3L1293.2 576.1L1294.3 490.8L1295.5 584.7L1296.8 478.7L1298.1 581.2L1299.3 487.2L1300.4 569.7L1301.7 487.4L1302.9 589.3L1304 495.2L1305.3 584.6L1306.6 487.1L1308 592L1309.4 488.5L1310.6 582.8L1312 491.9L1313.3 582.6L1314.7 488.9L1315.8 597.4L1317.2 506.4L1318.4 593.2L1319.8 491.6L1320.9 597.7L1322.2 506.4" stroke="#6d5e8d" stroke-width="1.0" fill="none" shape-rendering="crispEdges" clip-path="url(#cP3)"/>
<path d="M96 426.8L97.3 491.9L98.7 423.9L99.9 492.9L101.1 429.3L102.2 489.6L103.3 429.7L104.6 492.3L106 433.1L107 487.5L108.3 424.2L109.7 494.8L111 425.9L112.1 489.7L113.3 426.9L114.6 493.3L115.8 428.2L116.9 496.4L118.2 425L119.6 491.7L120.7 430.1L122.1 498.1L123.3 424.8L124.5 499.7L125.6 425.2L127 496.2L128.2 433.1L129.4 494.5L130.6 434.8L131.8 492.6L133 428.9L134.2 503.9L135.3 427.4L136.7 503L138.2 426.6L139.6 493.5L140.9 430L142.1 504.3L143.4 429.9L144.6 498.8L146 426.6L147.2 502.4L148.3 431.1L149.5 506.8L150.9 427.4L152.3 498.9L153.6 423.3L154.7 507.5L156.1 430.4L157.5 509.5L158.6 429.8L159.9 509.6L161.1 427.4L162.4 512.6L163.7 427.4L165 512.2L166.3 433.9L167.5 514.6L168.7 440.1L169.9 522.9L171.1 430L172.5 520.9L173.6 432.4L175 522.3L176.3 435.4L177.6 521.7L178.8 437.2L180.1 534.8L181.3 436.7L182.6 535.6L184 446.5L185.3 539.4L186.7 438.7L187.9 545.8L189 440.3L190.4 546.9L191.5 449.8L192.6 546L193.7 457.2L194.8 552.2L196.1 442.3L197.5 549.1L198.9 448.7L200.2 541.5L201.4 456.7L202.7 554.5L204.1 444L205.2 554.7L206.4 444.8L207.7 551.9L208.8 455.8L210.1 541.4L211.2 452.9L212.5 550L213.7 443.8L214.8 552.9L215.9 446L217.1 551.3L218.3 452.5L219.7 547L220.9 442L222.3 548.6L223.6 447L224.8 533.6L226.2 448.9L227.4 547.8L228.5 437.3L229.8 536L231.1 439.8L232.2 541.6L233.6 445.7L234.7 545.8L235.9 445.4L237 539.8L238.2 444.1L239.3 531L240.6 437.8L242 529.5L243.4 435.3L244.7 541.3L245.8 435.5L247 523.9L248.3 448.2L249.7 530.5L251 445.5L252.3 539.8L253.5 432.4L254.8 533.7L256 437.6L257.2 536L258.4 429.5L259.8 536L261.2 426L262.5 529.7L263.6 440.2L264.7 528L266 442.8L267.3 524.8L268.5 438L269.8 530.5L271.2 436.3L272.2 531.5L273.5 421.5L274.8 528.8L275.9 436.1L277.2 526.5L278.4 425.6L279.7 518.3L280.7 426.2L281.9 528.8L283 424.7L284.2 521L285.3 429.8L286.7 525.2L288 417.9L289.4 521.7L290.8 421.4L292.1 516.4L293.5 420.9L294.7 505.9L295.9 421.3L297 518.6L298.4 428L299.5 519.4L300.7 421.3L301.8 525.3L303.2 420L304.4 515.1L305.5 421.1L306.9 517.4L308.3 417.8L309.7 521.2L311 427.1L312.3 515.8L313.6 428.9L315 524.7L316.1 433.7L317.5 519.2L318.8 420.4L319.9 515.1L321.2 423.1L322.5 510.4L323.7 424.6L325.1 519L326.3 429.4L327.6 519.8L329 427.2L330.3 515.6L331.7 429.1L332.9 522.9L334.3 423.9L335.7 531.4L336.9 424.3L338.2 529.7L339.6 437.4L340.7 519.5L342.1 432.2L343.2 529.5L344.5 438.1L345.8 523.6L347 437.7L348.2 530.6L349.6 429.1L350.7 535.5L351.9 437.4L353.1 527.1L354.4 433L355.8 536.9L357 441.4L358.1 533L359.3 448.6L360.5 536.4L361.8 438.8L363 537.7L364.2 444.5L365.4 532.3L366.6 445.2L367.8 534L369 448.8L370.2 534.5L371.6 457L373.1 536.2L374.1 446.5L375.3 523.7L376.7 443.9L378.1 535.5L379.5 442.2L380.8 539.3L381.9 445.7L383.2 541.8L384.3 462L385.5 534.1L386.8 451.6L388 545.4L389.2 450.9L390.6 531.6L391.9 450.5L393.2 546.5L394.5 449.8L395.9 540.7L397 450.8L398.3 535.5L399.4 450L400.5 536.1L401.8 448.6L403.2 544.7L404.5 456.7L405.7 547.4L406.8 453L408.1 543.8L409.2 459.8L410.4 548.6L411.5 455.6L412.7 539.8L414 457.2L415.2 543.4L416.5 453.6L417.8 546.1L419.2 453L420.3 545.6L421.6 452.9L422.8 542.8L424.2 455.9L425.6 547.7L426.7 455.7L427.9 549.2L429.1 466.3L430.5 542L431.7 454L433 535.3L434.4 456.4L435.8 535.9L437.2 461.6L438.5 531.8L439.9 455.9L441.1 535.5L442.3 455.4L443.6 548.8L445 458.3L446.4 544.6L447.7 450.7L449.1 545.7L450.5 453.9L451.8 539.3L453.1 450.2L454.4 533.2L455.5 454.2L456.8 546.5L458.2 450.1L459.4 540.2L460.7 454.9L462.1 543.1L463.3 462.7L464.4 544.7L465.8 450.4L467 544L468.3 463.2L469.4 537.6L470.5 453.3L471.9 547.1L473.1 451.5L474.3 548.1L475.4 450.2L476.8 547.8L477.9 451L479.3 543.3L480.6 451.6L481.9 547.4L483 451.7L484.3 545.7L485.4 448.3L486.6 537.9L487.8 461L488.8 538.1L490.2 463.2L491.5 541.3L492.6 456.6L493.8 541.8L495.1 450.5L496.3 533.8L497.7 454.7L498.8 543L500 449.9L501.1 538.2L502.4 456.5L503.5 546.1L504.9 462.8L506.3 542.1L507.6 447.2L508.8 540.8L509.9 450.6L511.1 537L512.4 449.6L513.8 542.5L515.1 461.4L516.4 539L517.7 455.7L519.1 535.5L520.3 459.4L521.4 546.5L522.5 452.5L523.7 536.8L525.1 450.5L526.2 537L527.6 450.2L528.9 536.4L530.1 459.5L531.5 539.5L532.9 446.5L534.2 541.4L535.3 443.8L536.6 536.4L537.7 445L538.9 535.7L540.1 440.5L541.2 533.3L542.4 439.8L543.5 525.8L544.8 438.5L546 529.6L547.2 438.3L548.4 524.6L549.7 434.5L551.1 521.8L552.4 440.1L553.8 527.2L555 432.1L556.3 509.7L557.4 426.8L558.5 518L559.6 435L560.8 516.9L562.1 429.1L563.4 510.1L564.6 426.1L565.7 508.7L566.8 419.4L567.9 507.8L569.1 417.7L570.3 508.7L571.7 421.8L573 496.8L574.1 409.5L575.5 503L576.7 414.5L577.9 500L579.2 407.5L580.5 499L581.7 418.1L583.1 483.6L584.5 418.9L585.7 489.9L587.1 400.8L588.3 488.1L589.7 403.5L591.1 489.7L592.4 406.5L593.6 495.2L595 399L596.2 484.3L597.6 398.8L598.7 491.6L599.9 395.5L601.2 493.2L602.5 402.2L603.8 494.2L605 401.7L606.4 490L607.7 404.1L609 495.6L610.3 403.1L611.4 485.3L612.8 400.3L613.9 488.1L615.1 400.1L616.3 486L617.4 410L618.7 492.7L620 400L621.2 492.5L622.6 415.3L624 498.2L625.3 407.3L626.4 495.9L627.9 408.7L629.2 494.8L630.5 407.9L631.8 495.1L632.9 406.9L634.2 503.1L635.3 420.7L636.5 508.4L637.8 411.9L639.1 506.7L640.3 423.4L641.5 503.3L642.8 421.1L644.1 510.7L645.4 419.1L646.6 513.2L647.6 419.2L648.8 511.1L650 416.4L651.4 519.2L652.8 419.4L654.1 516L655.5 420L656.8 520.2L658 426.4L659.1 523.9L660.3 433.1L661.7 518.5L663.1 423.3L664.4 525.3L665.6 429.9L667 509.9L668.2 442.4L669.3 521.4L670.7 425L671.9 528.4L673 425.1L674.3 529.3L675.6 425.4L676.8 527.9L678.2 441.1L679.3 529.8L680.7 432.4L682.1 523.9L683.3 426.2L684.6 512.8L685.7 425.7L686.9 527.9L688.2 440.4L689.7 525.2L690.9 433.5L692.3 529.6L693.6 438.6L695 524.2L696.2 437.1L697.3 526.2L698.7 430.6L700.1 522.3L701.3 438.9L702.5 533.4L703.9 434.7L705 536.4L706.1 441.3L707.2 528.5L708.5 436.7L709.8 539.8L711.1 446.4L712.1 540.7L713.3 456.2L714.6 542.8L716 450.4L717.4 544.7L718.8 445.7L720 541.9L721.2 457.9L722.3 545.2L723.7 454.1L724.8 548.4L726 462.4L727.3 549.7L728.6 459.2L730 556.9L731.4 458.9L732.8 544.5L734.2 459.9L735.5 551.5L736.9 474.9L738.3 559L739.3 467.3L740.7 562.7L742 467.1L743.1 564.7L744.5 482.1L745.7 568.8L746.9 471.7L748 570.2L749.2 474.7L750.3 573.1L751.5 475.6L752.8 560.5L753.9 489.2L755.2 576.4L756.4 477.7L757.7 578.2L759 488.2L760.3 578.2L761.5 488.7L762.8 570.5L764.1 487.9L765.3 577.8L766.7 487.9L767.9 579.8L769.1 486.5L770.2 574L771.4 500.3L772.5 567.8L773.7 495.2L774.9 573.3L776 499.9L777.2 576.1L778.5 488L779.7 583.1L780.9 492.3L782.1 582.8L783.4 500.4L784.5 578.9L785.7 483.6L787.1 574.5L788.3 485.1L789.4 578.2L790.6 486.2L791.8 579.3L793.1 488.4L794.3 578.1L795.5 485.8L796.6 559.3L797.8 478.1L799 577L800.2 472.1L801.6 565.8L803 464.5L804.2 565.7L805.6 462L806.9 572L808.2 456.7L809.4 564.3L810.8 452.8L812.1 558.8L813.3 460L814.7 560.4L816 450.8L817.3 559.4L818.6 441.8L819.7 548.1L820.9 448.1L822.3 545.3L823.7 427.1L825.1 547.8L826.4 418.7L827.6 531.2L828.7 415.8L830.1 539.8L831.5 422.5L832.7 545.2L834.1 416.2L835.4 545.7L836.5 404L837.7 547.7L839.1 404.4L840.3 545.3L841.4 409.4L842.6 543.5L843.8 408.3L845.1 544.8L846.3 400L847.5 537.1L848.9 395.5L850 542.8L851.2 405.3L852.5 542.4L853.6 399.1L855 521.2L856.4 400.8L857.6 520.8L859 406.4L860.2 535.4L861.4 396.3L862.5 541.1L863.9 401.4L865 513L866.2 400.5L867.5 536.8L868.7 418.6L869.9 535.7L871.3 400.8L872.6 511.4L873.8 415.7L875.3 530L876.4 399.8L877.9 509.6L878.9 404L880.3 518.9L881.6 417.6L882.8 506.1L884 401.5L885.3 507.4L886.4 401.3L887.6 501L888.7 414.6L890.1 516.1L891.3 403.2L892.7 513.9L893.8 400.1L895.1 506.7L896.5 416.4L897.6 501L898.7 410L900 494.6L901.4 406.4L902.7 490.2L903.9 399.8L905.1 492.9L906.3 400.7L907.7 486.4L909.1 414.7L910.2 487.7L911.3 406L912.7 491.5L914 410.3L915.3 497.5L916.6 409.6L917.9 492L919.3 410.8L920.6 496.4L921.7 401.7L922.9 499.4L924.2 403.9L925.3 498.6L926.6 402.4L927.7 488.4L928.9 407.8L930.1 500.6L931.5 403.4L932.6 501.6L933.9 421.5L935.3 502L936.5 409.7L937.7 496.8L939.1 410.7L940.3 499.3L941.4 411.8L942.6 504.2L943.7 414.2L944.8 495.1L946 415.2L947.2 501.5L948.3 415.3L949.4 503.8L950.8 418.5L951.9 511.9L953.1 431.3L954.5 512.1L955.7 429.7L957.1 512.2L958.4 429.7L959.5 515.3L960.8 428.2L962 509.9L963.1 444.3L964.2 516.3L965.3 440.4L966.7 519.5L968 438.4L969.4 520.1L970.7 437.1L972.1 522L973.3 448.3L974.7 519.9L976 437.8L977.4 514.8L978.5 448L979.8 527.2L981 447.7L982.4 524.2L983.7 444.9L985.1 528.6L986.2 444.6L987.3 516.1L988.7 442.7L989.9 520.9L991.2 446.1L992.3 523.2L993.6 444.1L995 527.1L996.2 449.5L997.6 523.4L999 441.2L1000.3 522.4L1001.7 454.8L1003 531.9L1004.1 442.4L1005.4 527.4L1006.6 447.3L1008 529.5L1009.3 444.3L1010.6 536.2L1011.9 443.6L1013.2 529.2L1014.5 454.9L1015.6 525.7L1017 451.5L1018.2 541.1L1019.5 455.5L1020.7 531.9L1021.8 452.8L1022.9 536.9L1024.3 451.3L1025.5 539.5L1026.8 448.6L1028.1 546.1L1029.3 443.4L1030.5 544L1031.6 454.8L1032.8 547.3L1034.2 456.5L1035.4 546.5L1036.5 448.9L1037.6 553.5L1038.8 444.3L1040.2 554L1041.5 454.3L1042.6 546.8L1044 451.1L1045.5 547.5L1046.8 462.1L1048 548.4L1049.2 449.3L1050.5 546.9L1051.8 448.5L1053 556.8L1054.2 448.3L1055.6 557.7L1056.7 448.3L1058 549.1L1059.1 461.3L1060.1 562.4L1061.3 454.8L1062.6 549.2L1063.9 452.7L1065 562.1L1066.3 447.8L1067.7 547.8L1069.1 444.7L1070.2 560.1L1071.4 448.6L1072.7 544.7L1073.8 445.7L1075 550.2L1076.3 445.6L1077.6 552L1078.9 451.3L1080 543.3L1081.3 451.7L1082.6 547.6L1083.8 446.2L1085 544.5L1086.2 438.8L1087.3 531.9L1088.6 447.3L1090 532.9L1091.4 434.5L1092.7 538.1L1094 433.1L1095.2 530.8L1096.5 434.9L1097.7 528.2L1098.9 437.2L1100.3 523.5L1101.4 421.3L1102.6 515.4L1103.9 427.3L1105.2 519.8L1106.4 424.1L1107.7 505.8L1108.9 415.2L1110.1 508.3L1111.3 412.5L1112.7 506.4L1113.9 420.5L1115.3 503.2L1116.5 412L1117.8 490.7L1119 416.8L1120.3 486L1121.5 401.2L1122.8 494.5L1124.2 403.1L1125.4 489.6L1126.6 409.5L1127.7 478.2L1129.1 399.5L1130.5 482.6L1131.7 394.9L1133.1 472.4L1134.4 403.4L1135.8 479.9L1137.1 391.5L1138.2 479.3L1139.6 393.9L1140.9 473.2L1142.2 394.3L1143.6 466L1144.9 392.6L1145.9 475.1L1147.1 391.6L1148.2 476.4L1149.5 391.7L1150.9 477.8L1152.2 400.4L1153.3 476.2L1154.6 397.8L1155.9 470.5L1157 393.8L1158.1 471.1L1159.4 392.6L1160.7 477.2L1161.9 399.6L1163.1 475.4L1164.2 399.3L1165.4 472L1166.7 392.4L1168 479.5L1169.2 397.7L1170.6 482.8L1171.7 402.6L1173 478.2L1174.1 408.3L1175.2 481.9L1176.3 400.5L1177.5 492L1178.8 408.2L1180 490.9L1181.3 412.2L1182.5 492.1L1183.8 406.1L1185.3 491.3L1186.6 423.1L1188 498L1189.1 413.1L1190.4 500.1L1191.6 416.8L1193 495.3L1194.4 419.9L1195.7 501.4L1196.9 422.1L1198.4 507L1199.4 417L1200.6 514L1201.7 418.4L1202.9 512.7L1204.1 423.4L1205.4 517.8L1206.7 427.8L1208.1 516.4L1209.4 432.4L1210.6 516.8L1211.9 426.4L1213.2 527.2L1214.5 436.5L1215.6 530.9L1216.9 434.6L1218.1 530L1219.3 428.3L1220.5 527.6L1221.8 434.8L1223 528L1224.2 451L1225.6 539.4L1227.1 440L1228.3 538.2L1229.7 445.6L1230.8 536.7L1232.2 435.5L1233.6 531.3L1234.8 439.1L1236 537.4L1237.1 441.7L1238.3 537L1239.4 450.4L1240.5 542L1241.9 435.6L1243 531.3L1244.1 434.1L1245.5 538.3L1246.7 436.3L1247.9 543.6L1249.1 450.5L1250.5 534L1251.9 444.4L1253 532L1254.2 440.4L1255.6 538.6L1256.9 441.9L1258.2 537.2L1259.3 439.3L1260.6 537.8L1261.7 442.2L1263 529.9L1264.3 441L1265.6 534.3L1267 451.1L1268.5 530.9L1269.7 450.1L1270.9 534.2L1272.3 454.5L1273.4 532.5L1274.5 443.1L1275.9 539.3L1276.9 451.9L1278.2 538.5L1279.3 446.7L1280.4 526.3L1281.6 443.2L1282.8 535.9L1284 443.5L1285.2 534.6L1286.6 447.1L1287.9 536.4L1289.2 447.5L1290.3 529.4L1291.4 445.6L1292.7 533.4L1293.9 453.9L1295.1 519.5L1296.4 450.5L1297.8 524L1299 457.6L1300.2 530.3L1301.5 447.5L1302.8 527.7L1304.2 454.3L1305.3 527.1L1306.6 461.6L1308 522.6L1309.3 456.4L1310.5 531.8L1311.8 454.3L1313.2 530L1314.4 455.7L1315.6 527.2L1316.7 450.4L1317.8 529.8L1319.1 453.2L1320.3 527.2L1321.7 449.1L1323 527.1" stroke="#d4836f" stroke-width="1.0" fill="none" shape-rendering="crispEdges" clip-path="url(#cP3)"/>
<path d="M1009.5 440V330M1017.5 445V330M1024.5 440V330M1031.5 430V332M1004.5 420V345M1037.5 430V350" stroke="#efb261" stroke-width="1.2" shape-rendering="crispEdges"/>
<path d="M1017.5 560V633M1023.5 560V633M1012.5 570V612M1029.5 560V615" stroke="#6d5e8d" stroke-width="1.2" shape-rendering="crispEdges"/>
<path d="M1406 464.3L1407.1 545.2L1408.6 463.5L1409.9 547L1411.1 463L1412.4 547.7L1413.7 462.7L1414.9 545.2L1416 463.1L1417.1 547.3L1418.4 466.2L1419.8 544.1L1421.2 462.7L1422.3 547.5L1423.7 465.6L1425 545L1426.4 463.2L1427.8 544.3L1429 463.4L1430.3 545.3L1431.7 462.7L1432.9 545.1L1434.2 464.2L1435.5 546.8L1436.7 466.7L1437.8 546.6L1439.1 464.1L1440.5 546.9L1441.9 463.3L1443.1 545.1L1444.1 466.4L1445.5 548L1446.9 465.8L1448.2 545L1449.6 463.3L1450.9 547.2L1452.1 462.7L1453.6 545.7L1454.8 463L1456.1 546.4L1457.3 462.4L1458.5 545.5L1459.8 464.7L1461.2 546.1L1462.6 464.3L1464 547.6L1465.4 465.1L1466.5 544L1467.6 463.2L1468.7 545.7L1470 465.4L1471.2 545.6L1472.5 465.7L1473.9 547.1L1475.3 463.6L1476.5 548.2L1477.9 462.8L1479 547.1L1480.4 463.3L1481.6 547.3L1482.8 463.1L1484.1 544.5L1485.4 463.5L1486.6 547.4L1488 462.5L1489.2 545.2L1490.5 463.4L1491.9 547.9L1493.1 463.5L1494.3 547.7L1495.6 464.9L1496.8 547.1L1498 465.3L1499.2 544.5L1500.5 462.5L1501.8 544.3L1503.2 463.1L1504.5 544L1505.9 465.2L1507.3 546.1L1508.5 465.3L1509.8 545.6L1511.2 463.8L1512.4 547.3L1513.6 466.6L1515 545.8L1516.1 462.9L1517.4 546.3L1518.5 463.7L1519.8 547.4L1521.1 463.6L1522.4 545.4L1523.5 463.9L1524.9 547.8L1526.2 464L1527.6 544.8L1528.8 466.1L1530.2 548.3L1531.5 463L1532.7 547.7L1533.8 464.3L1535 547.9L1536.1 465.4L1537.2 547.9L1538.4 462.6L1539.5 547.9L1540.7 462.6L1542.1 548L1543.4 462.6L1544.8 548.2L1546 462.7L1547.4 546.2L1548.5 462.6L1549.7 546.9L1551.1 463.9L1552.3 547.4L1553.5 464.8L1554.9 548L1556 462.8L1557.4 546.9L1558.5 463.3L1559.7 545.7L1561 464.8L1562.1 547.9L1563.6 464.6L1564.8 546.9L1566.1 466.9L1567.4 545.6L1568.9 464.1L1570.3 546.6L1571.6 466.5L1572.7 545.9L1573.9 465.3L1575.1 544.7L1576.4 462.4L1577.8 547.2L1579.2 463.1L1580.5 546.6L1581.6 462.6L1583 547.8L1584.3 462.8L1585.8 548.2L1587.1 466.8L1588.5 547L1589.8 464.1L1590.9 544.1L1592.2 463.4L1593.3 548.1L1594.7 462.7L1596 546.3L1597.2 464.3L1598.6 548.1L1600 463.7L1601.3 547.4L1602.5 465.2L1603.9 545.8L1605.1 463.8L1606.2 546.9L1607.3 462.8L1608.4 547.8L1609.5 462.9L1610.9 548.2L1612 462.3L1613.1 546.2L1614.2 463.8L1615.3 547L1616.7 462.9L1618 544.7L1619.5 464.3L1620.9 545.1L1622 462.4L1623.4 545.4L1624.6 463.7L1625.8 545.6L1626.9 463.8L1628.1 546.2L1629.3 464.4L1630.5 547.6L1631.7 465.9L1632.9 545.9L1634.1 462.7L1635.5 547.8L1637 465L1638.1 544.9L1639.3 464.8L1640.5 546.1L1641.9 463.8L1643.3 546.9L1644.6 463.2L1645.9 548.1L1647.2 463.8L1648.3 544.8L1649.6 464.2L1650.7 548.2L1651.8 464L1652.9 546.4L1654.3 462.4L1655.5 547.5L1656.9 464.7L1658.1 546.5L1659.5 464.6L1660.9 545.4L1662.2 463.4L1663.3 546.1L1664.6 464.2L1665.7 546.7L1667 463.9L1668.2 548.1L1669.5 464L1670.8 547.7L1671.9 463.9L1673.3 544.7L1674.4 466.3L1675.7 547.8L1677 463.4L1678.1 546.3L1679.3 464.5L1680.5 546.3L1681.6 466.1L1682.9 543.9L1684.1 464.2L1685.5 547.5L1686.7 467.1L1688 547.5L1689.3 462.3L1690.6 546.4L1691.9 465.8L1693.2 545L1694.5 463.4L1695.8 545.4L1697.1 462.4L1698.6 547.7L1699.7 462.9L1700.8 548.2L1701.9 466.8L1703.1 544.6L1704.5 462.5L1705.7 548L1706.9 462.8L1708 548.1L1709.2 465L1710.4 543.3L1711.5 463.9L1712.8 548.3L1714.1 464.5L1715.2 543.9L1716.6 463.1L1717.8 547.6L1719.1 463.3L1720.3 548L1721.7 463L1722.9 546.6L1724.2 462.4L1725.4 546.7L1726.5 466.2L1727.7 547.4L1728.8 463L1730.1 545.9L1731.4 462.7L1732.5 547.2L1733.8 462.4L1735 547.3L1736.4 464.6L1737.7 547.6L1739.1 464.1L1740.2 546.8L1741.6 462.5L1742.9 547L1744.3 462.7L1745.6 545.8L1746.6 463.5L1747.7 546.2L1749.1 464.8L1750.5 547.6L1751.6 463.5L1753 547.5L1754.2 462.3L1755.5 545.7L1756.9 462.9L1758.3 547.9L1759.7 464.2L1761 547.7L1762.4 465.1L1763.8 547.1L1765.2 463.7L1766.6 547.2L1767.7 463.8L1769.1 545.9L1770.5 463L1771.9 546.9L1773.2 463.3L1774.4 543.4L1775.7 463.2L1777 546.4L1778.2 465.8L1779.5 544.5L1780.6 466L1782.1 548.1L1783.4 462.5L1784.5 547.3L1785.7 465.8L1787 544.9L1788.2 465.5L1789.3 548L1790.6 463.6L1791.7 545.2L1792.8 463.1L1794.1 547.6L1795.4 464.9L1796.6 546.3L1798 463.1L1799.4 547.3L1800.8 462.9L1801.9 544.6L1802.9 462.6L1804.1 546.6L1805.4 465L1806.5 548L1807.7 462.8L1808.9 547.4L1810.1 463.2L1811.4 546.5L1812.6 464.1L1813.9 543.7L1815.1 464.4L1816.4 546.8L1817.6 462.6L1818.8 548L1820 462.4L1821.3 546.2L1822.4 462.8L1823.6 547.8L1824.9 465.6L1826.3 547.5L1827.4 463L1828.8 546.1L1830.1 464.2L1831.2 545.2L1832.5 462.4L1833.6 543.9L1834.9 464.8L1836.3 545.9L1837.3 464.6L1838.6 546.5L1839.8 464.7L1841.2 543.7L1842.4 462.8L1843.5 545.5L1844.7 463.4L1846.1 547.7L1847.2 462.5L1848.3 547.8L1849.7 465.7L1850.9 545.5L1852.2 462.9L1853.5 547.6L1854.8 458.5L1856.1 557.1L1857.4 462.5L1858.6 545.8L1859.8 463.5L1861.3 546.8L1862.6 466L1863.8 547.2L1865 446.2L1866.3 561.3L1867.4 463.3L1868.8 556.5L1870.2 452.6L1871.4 546.3L1872.7 458.3L1874.1 552L1875.4 464.4L1876.7 545.8L1878 443.9L1879.1 561.8L1880.2 449.2L1881.7 546.9L1883 462.9L1884.2 545.5L1885.4 453L1886.7 548.3L1887.9 463.2L1888.9 547.6L1890.3 457.2L1891.5 554.3L1892.9 457.4L1894.1 549.3L1895.2 465.6L1896.5 549.1L1897.6 457.3L1898.9 547.8L1900.3 462.4L1901.5 547.5L1902.8 464.1L1904.2 547.6L1905.6 464.9L1906.6 547.5L1907.8 463.3L1908.9 547.1L1910.1 464L1911.5 547.5L1912.6 463.8L1913.9 546.4L1915 465L1916.3 544.4L1917.5 463.8L1918.8 547.4L1920.1 463.7L1921.2 545.3L1922.7 463.9L1923.9 545.6L1925.2 464.3L1926.5 547L1927.9 462.9L1929.3 548L1930.4 463.4L1931.5 546.2L1932.8 463.7L1934.1 546.6L1935.2 462.3L1936.3 548.2L1937.7 463.3L1938.8 547.5L1940 464.4L1941.4 547.5L1942.5 462.5L1943.7 546L1944.9 465.1L1946.1 547.9L1947.5 462.7L1948.8 546.5L1950.1 465.5L1951.2 544.3L1952.6 465.8L1953.7 546.5L1955.1 466.1L1956.4 546L1957.7 464L1959.1 548.3L1960.2 463.5L1961.4 546.1L1962.8 463.3L1964.1 546L1965.3 463.9L1966.6 545.8L1967.9 462.9L1969 545.6L1970.3 466.1L1971.8 546.5L1973.1 465.8L1974.3 546.7L1975.6 463.5L1976.8 544.6L1977.9 463.5L1979 545.2L1980.2 464.9L1981.5 545.6L1982.7 463L1984 547.6L1985.1 463.4L1986.3 546.7L1987.4 462.8L1988.8 546.6L1990 464.9L1991.2 546L1992.5 463.4L1993.8 547.9L1994.9 462.9L1996.1 544.9L1997.4 462.6L1998.6 546L1999.8 463.6L2001.3 548.1L2002.7 466.1L2004 546.7L2005.3 462.7L2006.5 543.5L2007.6 462.4L2009 546.7L2010.2 463L2011.3 548L2012.6 464.7L2013.7 545.8L2014.9 464.7L2016.2 547.9L2017.5 464L2018.8 544.2L2020.1 463.7L2021.4 545.8L2022.8 464.4L2024 544.9L2025.3 467.2L2026.5 545.5L2027.9 464L2029.1 547.3L2030.2 463.7L2031.4 548.2L2032.8 462.7L2034.2 547.1L2035.5 463.2L2036.9 547.9L2038.3 462.5L2039.7 545.3L2041 463.1L2042.4 546.2L2043.8 467.1L2045 545.6L2046.1 466L2047.4 545.1L2048.5 463.4L2049.8 546.1L2050.9 462.6L2052.1 546.4L2053.5 465.5L2054.8 546.3L2056.1 464L2057.3 548.1L2058.5 465.2L2059.7 547.1L2061.2 464.6L2062.3 546.7L2063.6 466.6L2065 546.8L2066.3 463.4L2067.6 547.3L2069 463.4L2070.2 546.4L2071.4 465L2072.6 546.3L2074 462.6L2075.4 547.5L2076.5 464.3L2077.7 547.8L2079 463.3L2080 547.5L2081.4 463.7L2082.8 547.8L2084.1 464.6L2085.3 548L2086.4 459.8L2087.5 546.6L2088.8 448.7L2090.1 569.8L2091.3 464.7L2092.7 590.1L2094 428.4L2095.3 546.4L2096.7 423.1L2097.8 546.7L2099.1 462.7L2100.5 569.5L2101.9 462.8L2103 569.9L2104.2 446.3L2105.4 548.1L2106.5 465L2107.7 593.8L2108.9 436.7L2110 546L2111.1 462.3L2112.5 547.2L2113.8 441.6L2115 547L2116.4 462.7L2117.7 545.2L2119 448.8L2120.4 546.5L2121.7 462.7L2122.9 562.4L2124.1 464.4L2125.2 560.5L2126.7 458.5L2127.8 552.3L2129.1 464.1L2130.3 545.4L2131.4 463.1L2132.6 544.6L2133.9 463.8L2135.3 547L2136.4 463.2L2137.7 548L2139.1 462.6L2140.4 545.9L2141.5 462.7L2142.6 547.9L2143.7 464.7L2145 545.2L2146.2 463.9L2147.3 545.1L2148.5 463.4L2149.8 545L2151.2 465L2152.3 546.1L2153.4 464.3L2154.5 545.7L2155.9 465.4L2157.1 546.7L2158.5 465.4L2159.9 546.2L2161.3 465L2162.5 547.9L2163.7 463.2L2165.1 547.5L2166.4 462.8L2167.5 545.6L2168.9 462.9L2170 548L2171.3 464.2L2172.5 546.2L2173.9 464.8L2175.1 547.2L2176.4 463.8L2177.5 547.3L2178.7 462.4L2179.8 548.2L2181 465.9L2182.3 546.3L2183.4 463.5L2184.7 547.3L2185.9 465.2L2187.3 546.7L2188.4 463.1L2189.8 547.9L2191.2 463.2L2192.3 545.3L2193.7 462.9L2194.9 545.9L2196.2 462.5L2197.3 546L2198.6 464.8L2200 545.5L2201.1 465.1L2202.1 546.5L2203.4 462.4L2204.6 548.1L2205.7 464.3L2207.1 546.1L2208.2 466L2209.5 547.4L2210.8 462.8L2212.2 547.9L2213.6 464.7L2214.8 547.3L2216 465.9L2217.2 546.4L2218.4 466.1L2219.7 545.7L2221 464.5L2222.3 547.8L2223.5 464.5L2224.9 545.9L2226.2 462.4L2227.6 547.1L2229 463.7L2230.3 543.8L2231.5 464.6L2232.6 544.3L2233.9 465.3L2235.1 548L2236.2 464.6L2237.4 547.5L2238.7 466.5L2239.9 544.6L2241.1 463.5L2242.2 544.2L2243.6 465.8L2244.9 547.7L2246.3 467L2247.4 548.1L2248.7 463.7L2249.8 545.7L2250.8 463.8L2252 547.7L2253.3 464.7L2254.8 550.3L2256.1 463.7L2257.3 571L2258.7 463.8L2260 546.9L2261.2 438.2L2262.3 547L2263.4 462.4L2264.5 601.2L2265.6 462.8L2266.7 545.4L2267.8 463.7L2268.9 546.3L2270.1 463.4L2271.4 545.2L2272.5 464.1L2273.6 545.2L2274.7 422.8L2276.1 546L2277.2 462.8L2278.5 579.5L2279.7 464L2281.1 547.9L2282.5 464L2283.6 547.3L2284.7 440.3L2286 545.7L2287.1 449L2288.5 558.1L2289.9 464.3L2291.3 546.9L2292.6 461L2294 547.4L2295.2 464.8L2296.5 544.6L2297.8 463.8L2299.1 545L2300.5 462.3L2301.7 547.9L2303 462.9L2304.2 545.5L2305.5 462.9L2306.7 544L2307.9 463.1L2309 548L2310.4 466.3L2311.5 545.1L2312.7 464.1L2313.8 548.1L2315 464.9L2316.1 546.2L2317.2 464.6L2318.6 547L2319.8 464.9L2321.1 547.7L2322.4 465.2L2323.7 544.9L2325 464.5L2326.1 547.4L2327.2 463.6L2328.6 546.6L2330 464.4L2331.3 546.4L2332.4 462.7L2333.7 545.7L2335 464L2336.3 545.2L2337.5 463.2L2338.8 545.4L2340 464.6L2341.4 546.4L2342.8 463.4L2344 548L2345.4 463.8L2346.6 546L2347.9 463.6L2349.2 548L2350.6 467.3L2351.7 547.4L2353.1 462.7L2354.4 547.5L2355.5 465.2L2356.7 545.8L2358.1 462.9L2359.2 546.8L2360.6 463.5L2361.9 548.2L2363.2 463.4L2364.4 547.4L2365.6 463.9L2366.7 547.5L2367.8 464.4L2368.9 544L2370.3 463.1L2371.4 546.6L2372.7 463.4L2373.9 544.1L2375.2 463.8L2376.5 547.5L2377.7 462.3L2378.8 544.1L2380.2 462.9L2381.6 546.7L2382.9 463.5L2384 546.5L2385.2 464.8L2386.4 547.1L2387.5 464L2388.7 547.8L2390.1 466.2L2391.5 547.5L2392.5 464L2393.8 545.7L2395.1 462.6L2396.4 546.6L2397.5 463.7L2398.6 547.4L2399.7 464.9L2401.1 546.5L2402.2 463.9L2403.4 543.3L2404.6 462.8L2405.9 547.5L2407 465.4L2408.1 546.1L2409.5 463.1L2410.8 545.9L2412.1 463.5L2413.3 546.2L2414.5 463.2L2415.7 545.8L2416.8 462.6L2418.1 547.3L2419.1 462.6L2420.3 546.7L2421.7 462.6L2422.8 546.9L2424.2 462.6L2425.6 548L2426.7 462.3L2428 545.5L2429.4 463.1L2430.5 545.5L2431.7 462.7L2433.1 546.6L2434.4 465L2435.9 548.3L2437 465.3L2438.1 545.6L2439.2 464.4L2440.6 548.2L2441.7 466.3L2443 548.2L2444.3 465.6L2445.6 547.1L2447 462.9L2448.2 548.1L2449.6 465.1L2450.8 544L2452.2 463.6L2453.4 543.6L2454.5 463L2455.8 547.6L2456.9 463L2458.2 544.1L2459.5 462.8L2460.7 547.1L2461.8 463L2462.9 545L2464.3 462.3L2465.7 547L2466.9 463.8L2468.1 544.8L2469.5 462.5L2470.6 548.2L2471.8 463.1L2473.1 546.5L2474.3 464.9L2475.7 544.6L2476.8 462.7L2478.2 547.8L2479.4 465.1L2480.6 547.9L2481.7 463.4L2483.1 544.7L2484.4 464.1L2485.5 545.2L2486.6 464.2L2487.9 546L2489.2 463.1L2490.4 546.6L2491.6 462.5L2492.9 546.4L2494.3 465.7L2495.5 544.6L2496.6 465.4L2497.8 543.6L2499.2 466.4L2500.4 545.7L2501.4 463.5L2502.8 546.2L2504.1 463.3L2505.2 546.2L2506.6 466.9L2508 547.7L2509.4 464.5L2510.6 544.9L2511.9 462.4L2513.2 545L2514.4 463.3L2515.8 547.7L2517 464.3L2518.3 545.5L2519.6 465.8L2520.9 547.2L2522 467.3L2523.2 546L2524.3 462.9L2525.5 547.1L2526.8 464.5L2528 544.6L2529.3 463.1L2530.4 546.2L2531.5 462.4L2532.8 545.2L2533.9 462.4L2535.1 546.8L2536.4 463.3L2537.5 546.8L2538.8 463.7" stroke="#d4836f" stroke-width="1.0" fill="none" shape-rendering="crispEdges" clip-path="url(#cP4)"/>
<path d="M96 788L97.5 785.3L99 784.5L100.5 783.4L102 785.4L103.5 789.5L105 791.3L106.5 793L108 792.6L109.5 791.2L111 791.4L112.5 793L114 794.6L115.5 796.7L117 795.8L118.5 793.9L120 791.6L121.5 788.8L123 788.9L124.5 791.3L126 793.5L127.5 792.6L129 791.8L130.5 791L132 792.7L133.5 795.9L135 798.8L136.5 799.1L138 798L139.5 795L141 793.3L142.5 791.9L144 796.9L145.5 802.1L147 806L148.5 804.9L150 802.2L151.5 799.3L153 798.6L154.5 802L156 804.4L157.5 805.1L159 804.8L160.5 802.4L162 799.9L163.5 800.3L165 800.8L166.5 806L168 809.2L169.5 810.1L171 808.9L172.5 808.2L174 808.1L175.5 811L177 813.6L178.5 816.4L180 817.2L181.5 816.8L183 816.3L184.5 816.4L186 817.2L187.5 818.6L189 819.6L190.5 819.8L192 819.1L193.5 818.3L195 818.8L196.5 818.9L198 819.9L199.5 819.5L201 818.9L202.5 817.1L204 815.4L205.5 817.3L207 819.2L208.5 822.9L210 825.3L211.5 825.3L213 825.4L214.5 822.8L216 822.8L217.5 824.3L219 826.9L220.5 830.3L222 831L223.5 831.5L225 830.3L226.5 828L228 826.5L229.5 826.7L231 825.3L232.5 825.1L234 822.5L235.5 821.2L237 822.2L238.5 821.9L240 823.5L241.5 824.1L243 823.1L244.5 820.7L246 819.1L247.5 820.8L249 822.1L250.5 825L252 826.9L253.5 827.2L255 825.4L256.5 823.2L258 824.2L259.5 825.3L261 828L262.5 829.5L264 828.6L265.5 825.9L267 824.7L268.5 823.7L270 823.8L271.5 824.8L273 825L274.5 823.6L276 820.9L277.5 818.3L279 817.9L280.5 817.9L282 819.1L283.5 818.1L285 816.3L286.5 814.5L288 811.2L289.5 809.9L291 809.2L292.5 811.2L294 811.2L295.5 809.2L297 806.9L298.5 806.2L300 805.2L301.5 803.2L303 803.9L304.5 801.6L306 799L307.5 796L309 795.2L310.5 794.2L312 796.3L313.5 797.4L315 798.8L316.5 798.8L318 797.5L319.5 795.4L321 796.4L322.5 798.2L324 801L325.5 803.2L327 802.6L328.5 802.4L330 802.5L331.5 804.4L333 806.1L334.5 807.4L336 808.1L337.5 805.9L339 804.9L340.5 804.9L342 806.4L343.5 808.3L345 811.7L346.5 812L348 810.3L349.5 809.3L351 807.9L352.5 806.9L354 806.7L355.5 808L357 805.5L358.5 802.8L360 799.1L361.5 797.7L363 799.6L364.5 802.7L366 806L367.5 809L369 807.3L370.5 803.7L372 801.5L373.5 800.9L375 800.5L376.5 799.9L378 799.9L379.5 800.7L381 798.5L382.5 798L384 797.3L385.5 798.2L387 799.2L388.5 800.8L390 799L391.5 797.3L393 797L394.5 798.4L396 800.1L397.5 802.7L399 806.1L400.5 804.1L402 800.8L403.5 798.9L405 800.9L406.5 803.3L408 805.9L409.5 807.9L411 809.1L412.5 807.7L414 803.5L415.5 802.4L417 802.2L418.5 803.4L420 805.3L421.5 805.2L423 805.4L424.5 805L426 804L427.5 802.9L429 802.8L430.5 801.6L432 802.6L433.5 801.6L435 802L436.5 803.2L438 804.2L439.5 804.8L441 806.1L442.5 804.6L444 803.3L445.5 805.3L447 808.9L448.5 813L450 817.4L451.5 818L453 816.7L454.5 813.2L456 811.2L457.5 810.8L459 811L460.5 814.2L462 816.7L463.5 817.7L465 817.6L466.5 817.5L468 817.7L469.5 820.2L471 822.9L472.5 825.2L474 824.5L475.5 823.9L477 825.5L478.5 828.2L480 831L481.5 835.7L483 838.7L484.5 837.2L486 834.4L487.5 831.3L489 830.2L490.5 836L492 842.6L493.5 846.4L495 845.8L496.5 843.9L498 843.4L499.5 842.2L501 844.2L502.5 845.8L504 846.5L505.5 846.9L507 845.8L508.5 844.2L510 844.9L511.5 846.9L513 850L514.5 851.4L516 851.9L517.5 848.7L519 846.7L520.5 846.1L522 846.8L523.5 849.2L525 850.5L526.5 845.7L528 841L529.5 835.6L531 832.3L532.5 831.6L534 833L535.5 833.4L537 832L538.5 828.3L540 825.4L541.5 823.6L543 824.3L544.5 824.2L546 824.6L547.5 822.5L549 819.7L550.5 817.8L552 817L553.5 816.1L555 816.9L556.5 815.7L558 812.9L559.5 811L561 807.7L562.5 806.2L564 807L565.5 808.2L567 807.2L568.5 805.6L570 802L571.5 798L573 796.9L574.5 796.4L576 797.2L577.5 797.5L579 796.7L580.5 793.8L582 791.4L583.5 791.1L585 793.4L586.5 797L588 799.8L589.5 800.2L591 798.7L592.5 796.3L594 793.1L595.5 791.9L597 793.2L598.5 796.3L600 797.3L601.5 796.7L603 793.3L604.5 789.8L606 787.5L607.5 785.9L609 787.4L610.5 786.7L612 785L613.5 783.7L615 782.4L616.5 783.3L618 783.9L619.5 783.5L621 783.1L622.5 780.8L624 779.3L625.5 779.1L627 779.9L628.5 781.5L630 783.9L631.5 784.4L633 783.7L634.5 782.1L636 781.5L637.5 783L639 784.2L640.5 785.4L642 786.2L643.5 786.1L645 787L646.5 787.5L648 789.7L649.5 792.8L651 795.7L652.5 796.7L654 796.6L655.5 795.2L657 795.9L658.5 798.1L660 800.7L661.5 802.5L663 803.1L664.5 805.2L666 806.6L667.5 810.1L669 814L670.5 817.8L672 821L673.5 821.7L675 820.9L676.5 819.3L678 818.5L679.5 818.4L681 819.8L682.5 820.6L684 819.7L685.5 818.8L687 818.7L688.5 820.5L690 823.4L691.5 827L693 829.4L694.5 828.4L696 826.9L697.5 826.3L699 825.9L700.5 828.6L702 830.5L703.5 828.9L705 827.2L706.5 825.4L708 823L709.5 824.3L711 827.3L712.5 830.7L714 829L715.5 823.9L717 818.7L718.5 819.2L720 820L721.5 821.8L723 822.1L724.5 822.4L726 819.3L727.5 817L729 818.4L730.5 820.5L732 824.1L733.5 827.6L735 827.6L736.5 827.6L738 825.8L739.5 825.7L741 826L742.5 828.7L744 832.4L745.5 836.2L747 838.1L748.5 837.2L750 837.6L751.5 838.4L753 842.4L754.5 846.2L756 848.2L757.5 848.3L759 848L760.5 846.5L762 846.9L763.5 850.1L765 852.4L766.5 852.9L768 853.3L769.5 852L771 850.5L772.5 853.7L774 857.6L775.5 861.7L777 862.7L778.5 858.6L780 854L781.5 851.3L783 851.8L784.5 854.5L786 857.6L787.5 859.9L789 858.1L790.5 854.3L792 851.9L793.5 849.6L795 849.6L796.5 850.1L798 849.7L799.5 848L801 846.7L802.5 844L804 843.6L805.5 844.5L807 845.1L808.5 843.8L810 841.4L811.5 838.1L813 833.4L814.5 830.5L816 830.5L817.5 829.5L819 828.2L820.5 825L822 820.6L823.5 817.1L825 814.9L826.5 814.4L828 812.8L829.5 810.4L831 807.9L832.5 805.3L834 801.8L835.5 799.4L837 799.8L838.5 800.2L840 799.2L841.5 797.4L843 795.8L844.5 793.8L846 793.4L847.5 794.2L849 793L850.5 791.8L852 788.9L853.5 784.7L855 780.7L856.5 779.1L858 777.9L859.5 777L861 776.4L862.5 774.1L864 771.5L865.5 769.3L867 768.1L868.5 769.5L870 770.1L871.5 770.5L873 768.9L874.5 764.2L876 760L877.5 758.3L879 758.2L880.5 761.6L882 763.8L883.5 763.3L885 758.6L886.5 755.3L888 753.2L889.5 751.9L891 752.4L892.5 755.1L894 756.2L895.5 756.8L897 755.3L898.5 754.3L900 755.5L901.5 759.8L903 763.1L904.5 763.6L906 762.2L907.5 759.4L909 758L910.5 760.7L912 766.2L913.5 771.1L915 774L916.5 772.6L918 770L919.5 769.8L921 772.3L922.5 777L924 781.4L925.5 785.5L927 784.4L928.5 784.8L930 786.1L931.5 789.2L933 792.1L934.5 793.1L936 794L937.5 793.1L939 791.6L940.5 794.4L942 798.5L943.5 803.3L945 805.9L946.5 806.7L948 806.9L949.5 807.7L951 809.3L952.5 811.6L954 815.5L955.5 817.5L957 818.3L958.5 819.5L960 819.2L961.5 820.6L963 822.8L964.5 824.9L966 824.7L967.5 823.8L969 822.6L970.5 821.5L972 821L973.5 821L975 822.1L976.5 823.9L978 822.6L979.5 820.6L981 820.3L982.5 819.8L984 821.4L985.5 824L987 824.7L988.5 824.4L990 824.9L991.5 825.5L993 827.1L994.5 830.1L996 831.9L997.5 833.6L999 835.4L1000.5 836.2L1002 835.7L1003.5 837.7L1005 840.5L1006.5 843L1008 844.1L1009.5 845L1011 844.7L1012.5 844.5L1014 844.8L1015.5 847.1L1017 849.3L1018.5 851.9L1020 852.1L1021.5 851.4L1023 851L1024.5 850.7L1026 851.5L1027.5 853.7L1029 855L1030.5 853.6L1032 853.4L1033.5 854.5L1035 855.5L1036.5 858.2L1038 856.9L1039.5 855.1L1041 852.2L1042.5 850.6L1044 847.5L1045.5 846.3L1047 848L1048.5 847.8L1050 847.5L1051.5 846.7L1053 844.3L1054.5 842.8L1056 841.1L1057.5 842.4L1059 842.8L1060.5 842.2L1062 841.3L1063.5 838.9L1065 837.2L1066.5 837.8L1068 839.2L1069.5 840.6L1071 840.8L1072.5 838.4L1074 836L1075.5 834.8L1077 834.6L1078.5 834L1080 835.2L1081.5 836L1083 834.9L1084.5 832.5L1086 830.2L1087.5 829.7L1089 829.7L1090.5 832.2L1092 831.5L1093.5 830.2L1095 829.5L1096.5 827.7L1098 826.4L1099.5 827L1101 828.4L1102.5 828.1L1104 826.3L1105.5 823.9L1107 821.4L1108.5 820.6L1110 821.7L1111.5 822.1L1113 822.3L1114.5 820.5L1116 817.9L1117.5 815.6L1119 814.1L1120.5 814.8L1122 814.8L1123.5 812L1125 808.4L1126.5 803.4L1128 801.4L1129.5 800.5L1131 801.3L1132.5 802.6L1134 803.7L1135.5 801.7L1137 799.3L1138.5 797.2L1140 795.1L1141.5 794.6L1143 795.6L1144.5 795.2L1146 793.8L1147.5 792.9L1149 794.3L1150.5 795.2L1152 794.6L1153.5 795.6L1155 795.9L1156.5 792.9L1158 790.3L1159.5 787.8L1161 787.9L1162.5 787.7L1164 787.4L1165.5 787.6L1167 785.4L1168.5 781.6L1170 777.3L1171.5 776.7L1173 778.3L1174.5 780.3L1176 780.6L1177.5 779.9L1179 777.8L1180.5 776.2L1182 775.1L1183.5 775.9L1185 777.2L1186.5 777.9L1188 775.5L1189.5 774.1L1191 771.2L1192.5 769.6L1194 770.8L1195.5 774.9L1197 778.1L1198.5 778.6L1200 779.2L1201.5 778.4L1203 775.6L1204.5 774.8L1206 774.6L1207.5 773.5L1209 770.5L1210.5 767.9L1212 764.9L1213.5 763.6L1215 764.8L1216.5 765.9L1218 769.1L1219.5 772.9L1221 773.2L1222.5 771.3L1224 768.4L1225.5 766.8L1227 767.8L1228.5 771.4L1230 772.3L1231.5 774.3L1233 772.6L1234.5 771.7L1236 771.3L1237.5 774.2L1239 776.9L1240.5 779.2L1242 780.8L1243.5 781.2L1245 783.2L1246.5 785.1L1248 789.3L1249.5 792.2L1251 795.4L1252.5 799.3L1254 801.4L1255.5 807.2L1257 813.2L1258.5 815.3L1260 817.1L1261.5 816.6L1263 817.4L1264.5 818.5L1266 822.4L1267.5 827.7L1269 832.1L1270.5 833.5L1272 834.4L1273.5 834.2L1275 832.9L1276.5 834.1L1278 837.1L1279.5 840L1281 842.2L1282.5 844.9L1284 844.9L1285.5 846L1287 846.1L1288.5 847.1L1290 849.3L1291.5 849L1293 848.4L1294.5 848.2L1296 849.2L1297.5 850.3L1299 852.9L1300.5 853.9L1302 854L1303.5 852.8L1305 849.4L1306.5 847.9L1308 850.9L1309.5 855.5L1311 853.6L1312.5 849.9L1314 845L1315.5 842L1317 844L1318.5 847.5L1320 852.2L1321.5 852.8L1323 853.3" stroke="#f06292" stroke-width="1.35" fill="none" stroke-linejoin="round" shape-rendering="crispEdges" clip-path="url(#cP5)"/>
<path d="M96 788.7L97.5 789.5L99 788.1L100.5 786.7L102 784.7L103.5 785.9L105 786.5L106.5 789.4L108 789.7L109.5 788.3L111 786.6L112.5 785.5L114 784.5L115.5 785.8L117 786.5L118.5 786.6L120 785.5L121.5 783.6L123 782.2L124.5 783.8L126 785.8L127.5 788.9L129 790.7L130.5 790.8L132 790.1L133.5 789.2L135 790.1L136.5 792.7L138 794.8L139.5 795.4L141 796.9L142.5 797.5L144 797.8L145.5 799.7L147 800L148.5 801.3L150 801.4L151.5 799.3L153 797.6L154.5 796.5L156 797.1L157.5 800.5L159 803.6L160.5 805.4L162 805.5L163.5 805.6L165 806.4L166.5 808.6L168 813.1L169.5 816.5L171 819.5L172.5 820.5L174 820.9L175.5 821L177 822.3L178.5 823.5L180 826.9L181.5 828.7L183 828.7L184.5 826.8L186 826.4L187.5 826.9L189 827.5L190.5 829.6L192 831L193.5 830.4L195 829.1L196.5 827.4L198 827.6L199.5 828L201 830.1L202.5 830.1L204 830L205.5 829.1L207 827.9L208.5 827.8L210 829.4L211.5 832.4L213 833.4L214.5 834.2L216 832.9L217.5 831L219 830.9L220.5 831L222 831.9L223.5 830.3L225 828.4L226.5 826L228 822.5L229.5 821.7L231 823.8L232.5 824.3L234 823.8L235.5 822.2L237 821.1L238.5 818.6L240 819.2L241.5 819.7L243 822.2L244.5 824L246 823.9L247.5 821.6L249 821L250.5 821.2L252 824L253.5 825.5L255 825.3L256.5 824.4L258 821.9L259.5 820.4L261 821.3L262.5 821.9L264 822.4L265.5 823.5L267 821.3L268.5 819.5L270 817.8L271.5 817.2L273 818.2L274.5 819.2L276 819.7L277.5 818.2L279 815L280.5 813.4L282 812.8L283.5 814.4L285 814.3L286.5 813.8L288 812.9L289.5 808.9L291 807.2L292.5 807L294 807.6L295.5 807.5L297 808.2L298.5 806.1L300 803.9L301.5 802.1L303 799.5L304.5 798.4L306 797.5L307.5 796.7L309 795.3L310.5 794.4L312 793.8L313.5 792.8L315 794.4L316.5 796.7L318 798.3L319.5 797.2L321 796.2L322.5 795.9L324 796.5L325.5 799.5L327 802.3L328.5 804.2L330 802.8L331.5 800.9L333 800.3L334.5 799.7L336 799.7L337.5 800.3L339 802.3L340.5 802.4L342 799.9L343.5 798.6L345 800L346.5 801.1L348 801.8L349.5 803.3L351 801.5L352.5 799.2L354 798.6L355.5 799.3L357 801.8L358.5 804.4L360 804.7L361.5 804.8L363 805L364.5 804.4L366 806.1L367.5 808.4L369 808.4L370.5 807L372 803.2L373.5 800.8L375 798.8L376.5 798.7L378 800.4L379.5 802.3L381 803.6L382.5 802.7L384 801.5L385.5 800.2L387 799.9L388.5 800.2L390 801.8L391.5 802L393 802.1L394.5 801.9L396 803.5L397.5 806.1L399 808.6L400.5 810.5L402 810L403.5 808.1L405 805.2L406.5 804.7L408 806.7L409.5 810L411 812.3L412.5 812.8L414 811L415.5 807.9L417 807.1L418.5 806.3L420 806.7L421.5 809.1L423 810.6L424.5 811.6L426 810.2L427.5 809.4L429 811.7L430.5 813.7L432 817.2L433.5 817.5L435 816.3L436.5 814.6L438 813.8L439.5 814.5L441 815.9L442.5 818.9L444 820.4L445.5 819.4L447 818.6L448.5 817.7L450 818.4L451.5 819.5L453 819.9L454.5 819.9L456 817.3L457.5 815L459 814.2L460.5 814.9L462 817.6L463.5 821L465 822.6L466.5 822L468 821.1L469.5 819.8L471 821.5L472.5 823.9L474 825.8L475.5 827.2L477 828.2L478.5 826.4L480 825.8L481.5 827.6L483 830.6L484.5 831.9L486 832.3L487.5 830L489 828.4L490.5 827L492 828L493.5 831.8L495 835.1L496.5 835.9L498 836.1L499.5 835.2L501 832.8L502.5 833.4L504 837L505.5 841L507 843L508.5 842.9L510 842.4L511.5 841.9L513 840.9L514.5 841.7L516 843.7L517.5 844.6L519 843.3L520.5 841.1L522 838.7L523.5 838L525 837.2L526.5 837.6L528 836.4L529.5 834.4L531 831.1L532.5 827.8L534 827.5L535.5 827.5L537 828.2L538.5 827.8L540 826.4L541.5 824.6L543 822.2L544.5 819.7L546 820.5L547.5 820.8L549 820.4L550.5 817.1L552 813.5L553.5 810.3L555 808.9L556.5 808.8L558 810.1L559.5 810L561 807.4L562.5 803.4L564 800.4L565.5 798.1L567 797.6L568.5 797.9L570 797.9L571.5 795.7L573 791.2L574.5 789.4L576 790.1L577.5 791.6L579 791.7L580.5 792.2L582 791.8L583.5 788.9L585 787.6L586.5 787.7L588 789.7L589.5 791.3L591 790.1L592.5 787.3L594 782.9L595.5 780.6L597 778.2L598.5 778.3L600 777.4L601.5 776.9L603 774.9L604.5 770.4L606 767.3L607.5 765.3L609 767.2L610.5 768.5L612 770.3L613.5 770L615 767L616.5 765.6L618 765.8L619.5 767.1L621 769.7L622.5 771.2L624 770.6L625.5 769.2L627 767.8L628.5 768.6L630 771.4L631.5 772.6L633 773.4L634.5 773.5L636 773.1L637.5 772.5L639 774.6L640.5 778.1L642 781L643.5 784.2L645 785.4L646.5 785.2L648 784.7L649.5 786.5L651 791L652.5 795.5L654 798.1L655.5 799.1L657 799.2L658.5 799.8L660 802.6L661.5 805.7L663 809.1L664.5 810.3L666 810.6L667.5 809.5L669 808.9L670.5 810.5L672 814.1L673.5 817.9L675 820.6L676.5 820.8L678 821L679.5 821L681 819.8L682.5 821.5L684 822.6L685.5 824.4L687 823.1L688.5 823.1L690 823.7L691.5 826.5L693 829.9L694.5 830.9L696 832.2L697.5 831.7L699 829.9L700.5 828.6L702 829.1L703.5 831.2L705 833.4L706.5 832.7L708 831L709.5 829.3L711 827.5L712.5 826.3L714 826L715.5 827.6L717 826.9L718.5 825L720 824.4L721.5 823.3L723 824.7L724.5 826.5L726 829.2L727.5 831.9L729 833L730.5 833.5L732 833.5L733.5 833.8L735 837L736.5 839.3L738 840.7L739.5 841.5L741 840.7L742.5 841.5L744 842.6L745.5 844.3L747 846.6L748.5 847.7L750 848.9L751.5 848.6L753 847.6L754.5 849L756 851.1L757.5 853.9L759 855.5L760.5 855.9L762 854.2L763.5 854.5L765 855.7L766.5 858.1L768 860.4L769.5 862.7L771 863.6L772.5 863.2L774 862L775.5 862.1L777 863.2L778.5 864.2L780 862.9L781.5 860.3L783 858.8L784.5 857.4L786 856.6L787.5 856.5L789 855.6L790.5 854.7L792 852.3L793.5 849.4L795 848L796.5 848L798 848.1L799.5 849.6L801 850.6L802.5 850.2L804 847.7L805.5 845L807 844L808.5 843L810 843.9L811.5 843.7L813 841.7L814.5 838.5L816 834L817.5 831.9L819 830.5L820.5 829.1L822 828.1L823.5 823.4L825 819.3L826.5 814.8L828 812.8L829.5 812.1L831 812.4L832.5 812L834 808.2L835.5 805.7L837 803.1L838.5 802.8L840 802.2L841.5 803.4L843 802.6L844.5 799L846 795.3L847.5 792.9L849 792L850.5 792.8L852 792.7L853.5 791.5L855 787.4L856.5 782.2L858 778.6L859.5 775.6L861 772.8L862.5 771L864 767.7L865.5 764.5L867 760.4L868.5 757.9L870 755.6L871.5 754.4L873 754.5L874.5 753.4L876 751.4L877.5 747.1L879 746L880.5 746L882 747.8L883.5 750.1L885 749.8L886.5 746L888 742L889.5 739.6L891 738.9L892.5 740.5L894 742.5L895.5 744.4L897 743L898.5 740.9L900 739.5L901.5 740.5L903 743.4L904.5 746.8L906 750.2L907.5 749.8L909 750.9L910.5 752.5L912 755.9L913.5 760.3L915 765.3L916.5 767L918 766.9L919.5 766.7L921 768.6L922.5 771.3L924 776.9L925.5 781.6L927 783.9L928.5 784.1L930 784.5L931.5 784.4L933 786.1L934.5 789L936 792.9L937.5 796.2L939 796.7L940.5 797.2L942 797.3L943.5 799.5L945 802.5L946.5 807L948 809.1L949.5 811.3L951 810.9L952.5 812.5L954 815.1L955.5 819.6L957 823.9L958.5 827.6L960 829.7L961.5 829.1L963 828.8L964.5 829L966 831.3L967.5 834.3L969 835L970.5 835L972 833.9L973.5 831.7L975 832.2L976.5 833.6L978 835.9L979.5 835.7L981 836.4L982.5 836.7L984 836.9L985.5 838.7L987 839.8L988.5 842.3L990 843.7L991.5 844.6L993 843.3L994.5 844.5L996 845.5L997.5 847.7L999 851L1000.5 853.1L1002 853.8L1003.5 852.8L1005 852.8L1006.5 851.6L1008 853.8L1009.5 860.1L1011 860.9L1012.5 851.9L1014 850.6L1015.5 854.9L1017 857.3L1018.5 855.3L1020 855.7L1021.5 860.3L1023 860.8L1024.5 856.7L1026 853.2L1027.5 853.4L1029 856.5L1030.5 858L1032 856.6L1033.5 855.8L1035 855.6L1036.5 854.7L1038 852.1L1039.5 851.5L1041 850.7L1042.5 850.3L1044 849L1045.5 846.3L1047 842.7L1048.5 841.2L1050 842.1L1051.5 842.5L1053 842.6L1054.5 840.5L1056 838.4L1057.5 836.3L1059 836.3L1060.5 838.7L1062 841.1L1063.5 840.6L1065 839.9L1066.5 838.8L1068 836.8L1069.5 837.4L1071 837.8L1072.5 839.8L1074 839.3L1075.5 837.9L1077 835.9L1078.5 833.7L1080 833.5L1081.5 832.9L1083 834.2L1084.5 834.2L1086 832.9L1087.5 829.8L1089 827.8L1090.5 826.4L1092 827.8L1093.5 828L1095 829.1L1096.5 828.4L1098 824.7L1099.5 823.7L1101 822.9L1102.5 823.5L1104 824.8L1105.5 823.8L1107 821.9L1108.5 819.3L1110 816.4L1111.5 815.3L1113 815.8L1114.5 815.9L1116 815.2L1117.5 810.9L1119 804.8L1120.5 799.8L1122 797.9L1123.5 796.2L1125 794.3L1126.5 790.8L1128 789.9L1129.5 787.1L1131 786.9L1132.5 787.2L1134 788.5L1135.5 790.3L1137 790.8L1138.5 788.1L1140 786.3L1141.5 784.3L1143 784.8L1144.5 785.5L1146 787.4L1147.5 789.3L1149 788.6L1150.5 786.6L1152 784.1L1153.5 782.8L1155 781.5L1156.5 781.7L1158 782.3L1159.5 781.7L1161 779.3L1162.5 776.9L1164 776.6L1165.5 778.3L1167 779L1168.5 778.3L1170 778.1L1171.5 777.3L1173 775.8L1174.5 777.2L1176 779.2L1177.5 781.9L1179 782L1180.5 782.4L1182 781.7L1183.5 780.9L1185 782L1186.5 782.7L1188 783.9L1189.5 781.6L1191 778.1L1192.5 774.3L1194 772.3L1195.5 773.8L1197 776.4L1198.5 778.5L1200 778.2L1201.5 777.9L1203 775.2L1204.5 771.6L1206 769.9L1207.5 769.7L1209 773L1210.5 773.7L1212 774L1213.5 772.1L1215 771.4L1216.5 773.2L1218 775.2L1219.5 776.9L1221 778.8L1222.5 776.9L1224 775L1225.5 771.7L1227 770.3L1228.5 772.1L1230 773.9L1231.5 775L1233 775.3L1234.5 773.1L1236 773.7L1237.5 775.2L1239 777L1240.5 780.7L1242 782.2L1243.5 782.4L1245 782.3L1246.5 783.5L1248 787.3L1249.5 793.1L1251 798.5L1252.5 804L1254 807.6L1255.5 807.9L1257 807.2L1258.5 810.3L1260 813L1261.5 815.3L1263 816.6L1264.5 818.2L1266 817.4L1267.5 817.5L1269 818.9L1270.5 823.2L1272 825.6L1273.5 828.2L1275 827.9L1276.5 827.6L1278 826.9L1279.5 828.4L1281 830.4L1282.5 832.2L1284 833.9L1285.5 834.3L1287 834.7L1288.5 835.2L1290 836.7L1291.5 838.9L1293 841.7L1294.5 843L1296 842.6L1297.5 842L1299 843.3L1300.5 845.1L1302 846.8L1303.5 848.2L1305 849.7L1306.5 849.6L1308 845.3L1309.5 842.3L1311 840.7L1312.5 840L1314 841.9L1315.5 843.6L1317 843.6L1318.5 843L1320 843L1321.5 844.5L1323 847" stroke="#6a8a4a" stroke-width="1.35" fill="none" stroke-linejoin="round" shape-rendering="crispEdges" clip-path="url(#cP5)"/>
<path d="M96 836.2L97.5 836.4L99 838.2L100.5 839.8L102 839L103.5 837.5L105 835.9L106.5 836L108 835.9L109.5 837.5L111 840.6L112.5 841.3L114 839.6L115.5 838.7L117 837.6L118.5 838.7L120 840.9L121.5 842.1L123 842L124.5 840.6L126 838.7L127.5 836.8L129 837.3L130.5 839.1L132 838.2L133.5 836.9L135 834.2L136.5 832.6L138 831.2L139.5 831.1L141 830.6L142.5 830.9L144 829.4L145.5 825.7L147 824.2L148.5 822.4L150 822.7L151.5 825.3L153 825.5L154.5 824.5L156 821.4L157.5 819.2L159 817.9L160.5 816.2L162 816.9L163.5 817.4L165 816.4L166.5 814L168 811.1L169.5 805.1L171 802.2L172.5 798.3L174 798.8L175.5 798.2L177 796.1L178.5 793.3L180 791.8L181.5 792.6L183 792.5L184.5 792.5L186 791.5L187.5 791L189 790.3L190.5 790.6L192 791.9L193.5 794L195 795.9L196.5 795.2L198 793.8L199.5 791.6L201 790.7L202.5 791L204 793.8L205.5 795.1L207 794.7L208.5 792.5L210 790.8L211.5 789L213 787.8L214.5 788L216 790.4L217.5 790.7L219 790.1L220.5 788.7L222 790.2L223.5 791.7L225 794.9L226.5 797.9L228 798.9L229.5 798.3L231 797.1L232.5 797.9L234 799.1L235.5 802.2L237 805.3L238.5 805.9L240 804.3L241.5 802.4L243 800.7L244.5 802.2L246 804.5L247.5 804.9L249 803.6L250.5 802.2L252 800.3L253.5 800.2L255 801.1L256.5 802.2L258 804L259.5 804.4L261 803.8L262.5 802.9L264 803L265.5 803.7L267 806.6L268.5 807.4L270 807.6L271.5 807.2L273 805.3L274.5 805.8L276 807L277.5 809.1L279 810.4L280.5 811L282 810.7L283.5 808.8L285 809.8L286.5 812.1L288 814L289.5 815.6L291 816.5L292.5 816.1L294 815.7L295.5 815.9L297 817.8L298.5 820.4L300 822.2L301.5 824.2L303 824.4L304.5 822.8L306 824.3L307.5 827.3L309 829.7L310.5 832.6L312 831.4L313.5 830.1L315 828.8L316.5 827.5L318 827.7L319.5 828.6L321 830L322.5 829.3L324 827.8L325.5 826.1L327 824.6L328.5 825.1L330 825.6L331.5 827.2L333 827.3L334.5 824.8L336 822.2L337.5 821.6L339 822.1L340.5 825.2L342 827.4L343.5 827.5L345 826.4L346.5 825.5L348 825.6L349.5 825.2L351 825.6L352.5 825.1L354 824.1L355.5 821.2L357 817.3L358.5 817.1L360 818.8L361.5 821.4L363 824.3L364.5 825.8L366 823.9L367.5 822L369 821.6L370.5 823.1L372 825.1L373.5 826.9L375 825L376.5 823.3L378 821.1L379.5 820L381 820.4L382.5 822.3L384 823.9L385.5 823.7L387 820.9L388.5 819.2L390 819.1L391.5 819.3L393 819.6L394.5 818.1L396 815.8L397.5 811.4L399 807L400.5 806.8L402 808.7L403.5 812.5L405 814.3L406.5 813.9L408 811.7L409.5 810.4L411 809.6L412.5 808.9L414 809.8L415.5 810.8L417 810.2L418.5 809L420 808.3L421.5 806.9L423 807.4L424.5 808.2L426 809.5L427.5 808L429 806L430.5 802.6L432 801.2L433.5 800.5L435 802L436.5 803.1L438 801.7L439.5 799.8L441 798.6L442.5 798L444 800.2L445.5 801.1L447 802.7L448.5 804.1L450 803.9L451.5 802.3L453 801.3L454.5 802.5L456 804.8L457.5 806.6L459 807.2L460.5 804.8L462 803.1L463.5 800.3L465 801.1L466.5 801.5L468 802.8L469.5 802.7L471 801.6L472.5 799.3L474 799L475.5 798.1L477 798.3L478.5 797.9L480 796.1L481.5 795.3L483 793.7L484.5 793L486 795.3L487.5 797.9L489 797.8L490.5 795.6L492 792.1L493.5 788.7L495 789.2L496.5 790L498 790.6L499.5 790.1L501 788.2L502.5 786.7L504 784.3L505.5 782.8L507 783.5L508.5 783.9L510 784.6L511.5 785.6L513 782.9L514.5 782L516 780.5L517.5 782.2L519 783.4L520.5 784.3L522 785.3L523.5 786.5L525 786.2L526.5 787.9L528 790.3L529.5 793.9L531 796.4L532.5 797.8L534 797.1L535.5 795.6L537 795.5L538.5 797.8L540 799.2L541.5 801.5L543 801.7L544.5 802.2L546 801.5L547.5 802.4L549 803.6L550.5 806.4L552 809L553.5 810.3L555 809.5L556.5 808.3L558 809.4L559.5 811.8L561 816.2L562.5 819.3L564 822.1L565.5 823.3L567 823.6L568.5 826.4L570 829.2L571.5 833.3L573 835.3L574.5 836.4L576 834.9L577.5 834L579 833.1L580.5 834.4L582 836.3L583.5 837.3L585 839L586.5 837.8L588 837.7L589.5 837.6L591 839.8L592.5 843.2L594 846.2L595.5 847.6L597 848.3L598.5 850L600 850.4L601.5 853.3L603 857L604.5 859.9L606 860.9L607.5 862.2L609 860.6L610.5 860.1L612 860.7L613.5 863.1L615 864L616.5 863.9L618 861.6L619.5 859.3L621 858.4L622.5 859.4L624 860.6L625.5 861.5L627 860.2L628.5 858.4L630 856.3L631.5 855.1L633 854.2L634.5 855.7L636 857.1L637.5 856.5L639 853.1L640.5 848.3L642 845.7L643.5 844.1L645 844.9L646.5 844.8L648 843.2L649.5 837.9L651 833.8L652.5 831.5L654 830.2L655.5 828.3L657 827L658.5 825.6L660 821.1L661.5 817.1L663 813.8L664.5 814L666 814.5L667.5 813.4L669 810.5L670.5 808.1L672 806L673.5 805.3L675 804.9L676.5 805.4L678 805L679.5 804L681 801.6L682.5 800L684 798.2L685.5 798.5L687 797.8L688.5 796.9L690 795L691.5 791.9L693 790.4L694.5 789.6L696 790L697.5 790.9L699 792L700.5 792.6L702 791.6L703.5 789.9L705 789L706.5 790.9L708 792.5L709.5 794.8L711 793.8L712.5 793.9L714 792.6L715.5 793.3L717 795.4L718.5 796.5L720 797.3L721.5 796.1L723 793.4L724.5 791.6L726 790.2L727.5 790.3L729 791.8L730.5 790.9L732 789.6L733.5 786L735 783.1L736.5 781.9L738 780L739.5 780.6L741 781.2L742.5 779.9L744 775.9L745.5 773.4L747 771.7L748.5 772.1L750 772.3L751.5 773.8L753 773.4L754.5 771L756 768L757.5 765.8L759 766.9L760.5 767.5L762 767.4L763.5 767.5L765 764.1L766.5 761.1L768 758.6L769.5 758.1L771 759.1L772.5 758.9L774 758.9L775.5 756.3L777 757.3L778.5 758.3L780 761.3L781.5 765.3L783 768.8L784.5 769.8L786 769L787.5 766.9L789 766.7L790.5 768.4L792 772.1L793.5 774.6L795 776.5L796.5 775.3L798 776.1L799.5 776.6L801 777.2L802.5 777.4L804 777.5L805.5 777.4L807 778.5L808.5 777.6L810 779.4L811.5 783.2L813 786.8L814.5 788.7L816 788.6L817.5 789.2L819 788.7L820.5 791.2L822 795.5L823.5 801.8L825 806.3L826.5 807.3L828 808.8L829.5 810.4L831 811.2L832.5 813.8L834 816.9L835.5 819.3L837 822.3L838.5 822.4L840 821L841.5 822.5L843 824.4L844.5 827.8L846 829.9L847.5 831L849 830.5L850.5 831.1L852 833.8L853.5 836.5L855 840.2L856.5 844.4L858 847.7L859.5 850.8L861 853.3L862.5 856.2L864 859.3L865.5 862.7L867 867.9L868.5 870.5L870 872.5L871.5 873.6L873 873.9L874.5 877.3L876 880.3L877.5 883.3L879 884.1L880.5 882.6L882 880L883.5 879.5L885 880.7L886.5 883.7L888 886.5L889.5 889.9L891 890.5L892.5 888.7L894 886.7L895.5 887.1L897 888.7L898.5 890.9L900 889.9L901.5 887.7L903 883.3L904.5 879.9L906 878.8L907.5 877.4L909 875.8L910.5 871.2L912 867.2L913.5 862.5L915 859.5L916.5 859L918 859.4L919.5 858.2L921 856.8L922.5 852.2L924 845.8L925.5 841.8L927 841.3L928.5 842.1L930 842.2L931.5 839.8L933 836.9L934.5 834.6L936 832.6L937.5 831.2L939 831.9L940.5 829.6L942 827L943.5 823.5L945 818.7L946.5 815.3L948 813.6L949.5 811.5L951 810.9L952.5 808.3L954 803.7L955.5 800.3L957 797.6L958.5 795.4L960 794.3L961.5 795.3L963 794.5L964.5 791.6L966 789.6L967.5 787.4L969 787.7L970.5 788L972 789.6L973.5 788.8L975 787.5L976.5 784.4L978 783.1L979.5 783L981 784.4L982.5 784.9L984 782.8L985.5 780.7L987 777.7L988.5 775.6L990 774.9L991.5 774.7L993 773.8L994.5 772.9L996 768.8L997.5 766L999 764.9L1000.5 765.5L1002 766.9L1003.5 766.2L1005 767.6L1006.5 762.4L1008 756.7L1009.5 758.9L1011 766.6L1012.5 764L1014 757.5L1015.5 760.3L1017 764.7L1018.5 763.3L1020 757.2L1021.5 758.4L1023 765.5L1024.5 768.6L1026 765.4L1027.5 761.9L1029 761.1L1030.5 760.9L1032 760.7L1033.5 761.6L1035 764.7L1036.5 766.7L1038 767L1039.5 767.9L1041 768.8L1042.5 771.2L1044 775.9L1045.5 777.7L1047 778.2L1048.5 777.9L1050 776.9L1051.5 777.2L1053 779.1L1054.5 782.5L1056 785.3L1057.5 787.2L1059 786.6L1060.5 784.7L1062 782.3L1063.5 783.5L1065 784.8L1066.5 785.6L1068 785L1069.5 784.7L1071 783.5L1072.5 783.3L1074 785L1075.5 787.2L1077 789L1078.5 789.8L1080 789.5L1081.5 787.5L1083 786.9L1084.5 788L1086 791.7L1087.5 794.5L1089 796.6L1090.5 797.3L1092 796.1L1093.5 796.5L1095 797.6L1096.5 800.7L1098 802.8L1099.5 802.8L1101 801.6L1102.5 800.5L1104 801.1L1105.5 802.7L1107 805.7L1108.5 807.2L1110 809.1L1111.5 810.1L1113 810L1114.5 811.6L1116 815.2L1117.5 819.9L1119 823.5L1120.5 824.7L1122 827.2L1123.5 828.3L1125 832.3L1126.5 835.8L1128 837.5L1129.5 840.3L1131 840.6L1132.5 839.7L1134 839.7L1135.5 838.9L1137 840.3L1138.5 843.2L1140 844.8L1141.5 844.3L1143 842.5L1144.5 840.1L1146 839.7L1147.5 839.7L1149 841.4L1150.5 842.9L1152 844L1153.5 844.8L1155 844.4L1156.5 846.5L1158 847.2L1159.5 848.6L1161 850.9L1162.5 851L1164 850L1165.5 849.1L1167 849L1168.5 848.3L1170 847.5L1171.5 848.4L1173 847.4L1174.5 844.6L1176 842.7L1177.5 840.9L1179 842.6L1180.5 844.6L1182 844.9L1183.5 844.5L1185 843.5L1186.5 842.3L1188 843.3L1189.5 844.6L1191 847.3L1192.5 851.1L1194 852.8L1195.5 850.1L1197 849.2L1198.5 848.3L1200 848.5L1201.5 850.6L1203 851.4L1204.5 852.4L1206 851.8L1207.5 851.7L1209 850.4L1210.5 850.3L1212 852.6L1213.5 853.9L1215 852.4L1216.5 850L1218 847.5L1219.5 847.8L1221 847.9L1222.5 848.6L1224 850.3L1225.5 850.4L1227 849.8L1228.5 847.5L1230 846L1231.5 846.4L1233 848.7L1234.5 850.7L1236 848.6L1237.5 846.5L1239 843L1240.5 840.7L1242 840L1243.5 840.3L1245 838.3L1246.5 836L1248 833.6L1249.5 828.7L1251 822.8L1252.5 819L1254 817.1L1255.5 817.2L1257 816.9L1258.5 813.7L1260 811L1261.5 807L1263 806.5L1264.5 805.8L1266 805.9L1267.5 806.2L1269 805.7L1270.5 804.1L1272 805.1L1273.5 805L1275 803.7L1276.5 803L1278 799.9L1279.5 797L1281 793.6L1282.5 791.3L1284 790.4L1285.5 792.2L1287 791.9L1288.5 791.2L1290 789.3L1291.5 786.6L1293 785.3L1294.5 785.1L1296 784.3L1297.5 783.9L1299 783.4L1300.5 781.4L1302 779.6L1303.5 779L1305 778.8L1306.5 780.6L1308 782.1L1309.5 782.1L1311 781.8L1312.5 780.9L1314 778.2L1315.5 776.6L1317 777.9L1318.5 778.1L1320 775.4L1321.5 774.5L1323 771.8" stroke="#7bd3d6" stroke-width="1.35" fill="none" stroke-linejoin="round" shape-rendering="crispEdges" clip-path="url(#cP5)"/>
<path d="M96 829L97.5 829.2L99 830.8L100.5 834.2L102 834.8L103.5 833.4L105 830.9L106.5 827.5L108 826.5L109.5 827.7L111 829.7L112.5 830.3L114 832L115.5 830.8L117 828.2L118.5 826L120 825.3L121.5 827L123 827.5L124.5 827.4L126 828L127.5 825.3L129 822.9L130.5 822.4L132 824.3L133.5 825.6L135 825.7L136.5 825.2L138 823.2L139.5 820.3L141 819.7L142.5 820L144 820L145.5 820.5L147 822.1L148.5 821.1L150 818.6L151.5 817.1L153 817.8L154.5 818.3L156 820.8L157.5 821.5L159 821.9L160.5 820.4L162 818.7L163.5 817.2L165 817.3L166.5 819.2L168 819.2L169.5 817.4L171 816.2L172.5 814.3L174 812.8L175.5 811.8L177 812.4L178.5 814.5L180 813.8L181.5 811.8L183 810.1L184.5 808.1L186 808.1L187.5 808.9L189 811.8L190.5 812.3L192 811L193.5 808.6L195 806.8L196.5 807.4L198 809.4L199.5 811.9L201 814.1L202.5 813.9L204 810.4L205.5 806.6L207 803.3L208.5 802.4L210 803.8L211.5 806.1L213 806.2L214.5 803.7L216 801.6L217.5 799.6L219 800.1L220.5 801.8L222 802.7L223.5 801.5L225 798.8L226.5 798.4L228 799.3L229.5 801.2L231 801.7L232.5 803.9L234 805L235.5 804.4L237 801.1L238.5 800.9L240 800L241.5 801.4L243 804.1L244.5 806L246 806.5L247.5 804.8L249 801.2L250.5 798.6L252 799.2L253.5 800.1L255 801.3L256.5 802.9L258 801.4L259.5 798.5L261 797.5L262.5 798.1L264 798.6L265.5 801.5L267 802.9L268.5 804.3L270 803.1L271.5 801.4L273 800.8L274.5 801.4L276 803.3L277.5 806.4L279 808.1L280.5 807.8L282 806.8L283.5 807.1L285 809.6L286.5 810.4L288 813.2L289.5 815.3L291 814.1L292.5 813.1L294 812.8L295.5 813.1L297 814.8L298.5 817.6L300 821.2L301.5 821.8L303 821.8L304.5 819.9L306 820.7L307.5 821.9L309 824.5L310.5 826.7L312 827.8L313.5 826.9L315 824.6L316.5 821.4L318 821.4L319.5 823L321 824L322.5 824.9L324 823.6L325.5 822L327 819.9L328.5 818.4L330 817.5L331.5 817.4L333 817.9L334.5 817.8L336 815.2L337.5 813.7L339 812.8L340.5 813.2L342 814.4L343.5 818.3L345 819.6L346.5 819.3L348 819.2L349.5 817.1L351 816L352.5 816.3L354 816.7L355.5 818.4L357 819.9L358.5 821L360 821L361.5 820.7L363 819.6L364.5 820.9L366 820.4L367.5 819L369 817.9L370.5 817.9L372 817.8L373.5 819.3L375 820.8L376.5 822.1L378 822.3L379.5 820.7L381 819.1L382.5 819.4L384 821L385.5 823L387 824.2L388.5 824.3L390 823.4L391.5 822.3L393 820.8L394.5 818.3L396 818L397.5 820.4L399 821.5L400.5 821.7L402 820.8L403.5 819.3L405 817.9L406.5 820L408 821.2L409.5 822.5L411 821.6L412.5 819.3L414 816.6L415.5 815.2L417 817.5L418.5 820L420 822.9L421.5 825.3L423 825.2L424.5 822.9L426 819.6L427.5 817.4L429 817.7L430.5 819.5L432 822.6L433.5 823.2L435 821.5L436.5 820.9L438 819L439.5 817.8L441 818.6L442.5 818.3L444 818.2L445.5 815.7L447 812.8L448.5 809.9L450 808.6L451.5 810.5L453 814.7L454.5 816.1L456 816.4L457.5 814L459 811.5L460.5 809.3L462 809.5L463.5 809.9L465 810.8L466.5 809L468 805.8L469.5 803.8L471 802.9L472.5 801.9L474 802.6L475.5 803.1L477 800.9L478.5 797.3L480 793.6L481.5 791.5L483 791.6L484.5 792L486 793.1L487.5 793.5L489 792L490.5 787.8L492 783.4L493.5 782.2L495 783.5L496.5 785L498 785.8L499.5 784.7L501 783.1L502.5 780.7L504 780.2L505.5 779.8L507 782.1L508.5 784.2L510 784.8L511.5 783.3L513 779.5L514.5 778.2L516 778.2L517.5 778.9L519 780.6L520.5 782.5L522 783L523.5 781.3L525 779L526.5 780.2L528 784.4L529.5 788.7L531 792L532.5 794.6L534 794.2L535.5 793.7L537 792.9L538.5 796.1L540 799.4L541.5 801.5L543 804.1L544.5 803.6L546 803.1L547.5 803.6L549 805.6L550.5 808L552 809.9L553.5 812.8L555 812.8L556.5 812.7L558 812.1L559.5 813.1L561 814.8L562.5 818.2L564 819.4L565.5 820.4L567 819.3L568.5 818.5L570 819L571.5 819.6L573 823.3L574.5 825.1L576 825.1L577.5 824.2L579 823.2L580.5 821.6L582 822.5L583.5 822.9L585 825.1L586.5 825.4L588 824L589.5 820L591 818.8L592.5 820.2L594 823L595.5 825L597 827.1L598.5 824.9L600 822.7L601.5 819.9L603 821.3L604.5 824.4L606 828.8L607.5 832.4L609 832.8L610.5 833L612 831.7L613.5 830L615 830.8L616.5 833.1L618 835.5L619.5 837.2L621 836.9L622.5 834.8L624 833.5L625.5 832.6L627 834L628.5 836.3L630 837.2L631.5 837L633 835.3L634.5 832.4L636 830.9L637.5 831.3L639 832.8L640.5 833.2L642 832.8L643.5 830.4L645 827.3L646.5 825.3L648 825.2L649.5 826.4L651 827.8L652.5 827.9L654 826.5L655.5 824.3L657 821.5L658.5 819L660 818L661.5 818.3L663 819.2L664.5 818.2L666 814.7L667.5 810.4L669 808.3L670.5 807.7L672 809.6L673.5 810.3L675 810.2L676.5 808.1L678 805.5L679.5 804.1L681 803.7L682.5 804.1L684 805.9L685.5 806.7L687 804.9L688.5 802.3L690 799.8L691.5 799.3L693 800.1L694.5 801.5L696 802.4L697.5 802.1L699 801L700.5 799.2L702 798.5L703.5 798.7L705 799.6L706.5 800.9L708 802.1L709.5 802L711 801.6L712.5 802.2L714 804.1L715.5 807L717 809.1L718.5 809.3L720 808L721.5 805.8L723 803.6L724.5 805.2L726 808.5L727.5 812.6L729 812.2L730.5 811.8L732 807.9L733.5 804.2L735 801.8L736.5 800.9L738 801.6L739.5 800.8L741 798.8L742.5 797.7L744 795.1L745.5 792.9L747 792L748.5 792.2L750 792.9L751.5 793.2L753 791.2L754.5 789.6L756 787.6L757.5 785.8L759 785.7L760.5 786.4L762 786.5L763.5 785L765 783.1L766.5 780.6L768 780.6L769.5 781.7L771 782.1L772.5 780.5L774 779.5L775.5 774.6L777 772L778.5 771L780 772.4L781.5 775.1L783 776.9L784.5 778.5L786 778.5L787.5 774.9L789 772.8L790.5 772.7L792 775.4L793.5 778.6L795 782.1L796.5 783.4L798 782.1L799.5 781.7L801 781.9L802.5 784.4L804 787.6L805.5 790.4L807 790.9L808.5 792.3L810 790.7L811.5 790L813 790.9L814.5 793.5L816 796.3L817.5 798.9L819 798.7L820.5 799.7L822 799.9L823.5 802.5L825 806.6L826.5 810.7L828 816.1L829.5 820L831 821.4L832.5 820.6L834 820.3L835.5 820.9L837 824.1L838.5 827.7L840 828.7L841.5 826.7L843 825.8L844.5 823.9L846 824.1L847.5 825.4L849 827.3L850.5 828.2L852 827.1L853.5 825.8L855 826L856.5 827.3L858 830L859.5 834.2L861 837.4L862.5 839.1L864 838.7L865.5 838.7L867 838.3L868.5 840.7L870 843.6L871.5 847.1L873 849.5L874.5 850.1L876 849.5L877.5 849.4L879 849.2L880.5 851.6L882 854.5L883.5 855.2L885 856.4L886.5 854L888 852.5L889.5 852.8L891 855.5L892.5 855.6L894 856.6L895.5 855.2L897 853.9L898.5 851.7L900 850.2L901.5 851.6L903 852.8L904.5 852.6L906 851.8L907.5 848.6L909 845.9L910.5 842.7L912 840.7L913.5 840.7L915 842L916.5 843.6L918 841.8L919.5 841L921 838.8L922.5 835.4L924 835L925.5 834.7L927 835.7L928.5 833.9L930 830L931.5 826.5L933 825.8L934.5 827.1L936 827.6L937.5 828.9L939 830.2L940.5 827.7L942 822.5L943.5 818.2L945 817.6L946.5 817.8L948 819.2L949.5 818.1L951 816.6L952.5 813.5L954 809.1L955.5 807.8L957 807.4L958.5 807.9L960 807.2L961.5 807.8L963 805.3L964.5 804L966 802.5L967.5 802.7L969 805L970.5 806.8L972 807.4L973.5 806L975 806L976.5 805.7L978 805.7L979.5 806.9L981 808.8L982.5 809.1L984 808.2L985.5 806.4L987 805.1L988.5 803.2L990 803.7L991.5 804.9L993 805.7L994.5 803.4L996 799.9L997.5 798.2L999 797.3L1000.5 797.7L1002 798.3L1003.5 797.9L1005 796.8L1006.5 795L1008 791.1L1009.5 788.2L1011 786.2L1012.5 786.7L1014 788.8L1015.5 789.9L1017 789L1018.5 786.8L1020 783L1021.5 781L1023 781L1024.5 781.9L1026 783.6L1027.5 783.5L1029 780.6L1030.5 779.4L1032 777.6L1033.5 777.5L1035 777.2L1036.5 777.1L1038 776.8L1039.5 777.5L1041 777.1L1042.5 777L1044 778.3L1045.5 780.4L1047 781.4L1048.5 781.8L1050 782L1051.5 779.4L1053 780.1L1054.5 781.4L1056 784.5L1057.5 787.7L1059 790.7L1060.5 790.3L1062 788.4L1063.5 787.5L1065 786.4L1066.5 788.4L1068 790L1069.5 792.4L1071 793.7L1072.5 793.1L1074 791.3L1075.5 788.2L1077 788.2L1078.5 789.3L1080 791.3L1081.5 793.8L1083 793.6L1084.5 792.8L1086 791.8L1087.5 792.7L1089 794.5L1090.5 797.6L1092 800.7L1093.5 800.6L1095 798L1096.5 796.8L1098 796.2L1099.5 796.1L1101 799L1102.5 801.8L1104 802.4L1105.5 802.3L1107 801.7L1108.5 800.6L1110 800.7L1111.5 804.1L1113 806L1114.5 807.4L1116 807.4L1117.5 806.2L1119 805.9L1120.5 808.5L1122 811.1L1123.5 814.6L1125 817.7L1126.5 817.7L1128 816.9L1129.5 815.5L1131 814.9L1132.5 817L1134 820L1135.5 823.2L1137 825.1L1138.5 825.2L1140 823.6L1141.5 821.8L1143 822.9L1144.5 823.4L1146 823.9L1147.5 823.5L1149 822.5L1150.5 821.9L1152 821.1L1153.5 823.2L1155 826.9L1156.5 830L1158 832.6L1159.5 831.3L1161 830.1L1162.5 827.1L1164 826.4L1165.5 830L1167 833.7L1168.5 838.7L1170 841.7L1171.5 840.5L1173 837.7L1174.5 835.4L1176 835.6L1177.5 836.8L1179 839.2L1180.5 841.5L1182 842.1L1183.5 840.4L1185 839.2L1186.5 836.8L1188 837.1L1189.5 838.6L1191 839.9L1192.5 842.9L1194 843.2L1195.5 843L1197 845.8L1198.5 847.5L1200 848.4L1201.5 850.2L1203 849.7L1204.5 847.4L1206 844.8L1207.5 843.9L1209 844.3L1210.5 846.2L1212 847.6L1213.5 851.4L1215 851.3L1216.5 851.5L1218 847.8L1219.5 845.9L1221 845.6L1222.5 848.1L1224 849.6L1225.5 850.1L1227 849.1L1228.5 849L1230 845.8L1231.5 844.1L1233 842.2L1234.5 845.6L1236 847.1L1237.5 847.4L1239 844.7L1240.5 841.6L1242 839.7L1243.5 838.7L1245 838.5L1246.5 836.7L1248 833.3L1249.5 828.3L1251 823.4L1252.5 819L1254 816.8L1255.5 817.5L1257 816.5L1258.5 813.9L1260 808.1L1261.5 803.3L1263 798.1L1264.5 793.5L1266 793.4L1267.5 794.8L1269 796.5L1270.5 795.1L1272 794.5L1273.5 790.8L1275 789.4L1276.5 789.1L1278 788.8L1279.5 787.5L1281 785.3L1282.5 781.7L1284 778L1285.5 776.8L1287 778.1L1288.5 779L1290 779.7L1291.5 779.1L1293 777.9L1294.5 776.3L1296 774.9L1297.5 773.6L1299 775.1L1300.5 776.1L1302 777.3L1303.5 776.1L1305 772.6L1306.5 770.6L1308 773.1L1309.5 778.9L1311 783.2L1312.5 787.5L1314 786.5L1315.5 783.2L1317 780.5L1318.5 779.6L1320 780L1321.5 783L1323 784.6" stroke="#fddb1e" stroke-width="1.35" fill="none" stroke-linejoin="round" shape-rendering="crispEdges" clip-path="url(#cP5)"/>
<path d="M1406 805.4L1407.5 803.1L1409 800.7L1410.5 798.6L1412 797.1L1413.5 793.5L1415 790.3L1416.5 789.3L1418 789.4L1419.5 788.5L1421 786.8L1422.5 785.7L1424 786.2L1425.5 788.6L1427 791.4L1428.5 791.8L1430 789.7L1431.5 787.8L1433 785.3L1434.5 784.9L1436 787.4L1437.5 787.4L1439 787.1L1440.5 784.2L1442 781.9L1443.5 781.3L1445 781L1446.5 781.7L1448 778.9L1449.5 775.1L1451 771.4L1452.5 770.6L1454 774.7L1455.5 777.2L1457 778.8L1458.5 780.1L1460 781.9L1461.5 783.9L1463 786.6L1464.5 789.3L1466 789.5L1467.5 789L1469 790.2L1470.5 796.6L1472 802.8L1473.5 804.6L1475 803.1L1476.5 800.2L1478 799.1L1479.5 803L1481 807.4L1482.5 812.5L1484 813.6L1485.5 813L1487 812.4L1488.5 815.2L1490 819.7L1491.5 824.8L1493 828.5L1494.5 831.7L1496 832L1497.5 836L1499 841.4L1500.5 845.7L1502 845.9L1503.5 844.6L1505 845.1L1506.5 846.8L1508 849.2L1509.5 847.5L1511 845.2L1512.5 841.8L1514 837.7L1515.5 836.5L1517 838.3L1518.5 838.6L1520 836.5L1521.5 833.4L1523 830.4L1524.5 829.6L1526 829.9L1527.5 830.4L1529 830L1530.5 830.2L1532 830.6L1533.5 831.8L1535 832.2L1536.5 832.1L1538 828.9L1539.5 825.1L1541 821.3L1542.5 820.2L1544 819.3L1545.5 818.5L1547 815.5L1548.5 812.6L1550 812.2L1551.5 812.4L1553 814.5L1554.5 815.6L1556 815.3L1557.5 812.9L1559 811.5L1560.5 812.6L1562 815.8L1563.5 817.5L1565 818.6L1566.5 816.2L1568 814.6L1569.5 817.4L1571 821.2L1572.5 823.1L1574 824L1575.5 822.3L1577 820.5L1578.5 820.1L1580 821L1581.5 820.4L1583 818.9L1584.5 814.8L1586 811.2L1587.5 809.5L1589 811.6L1590.5 812.8L1592 811.8L1593.5 810.3L1595 808.4L1596.5 807.7L1598 809.7L1599.5 811.3L1601 809.1L1602.5 807.3L1604 804.2L1605.5 802.7L1607 803.8L1608.5 804.6L1610 801.2L1611.5 796L1613 792.8L1614.5 789.8L1616 790.4L1617.5 790L1619 788.7L1620.5 786.4L1622 784.3L1623.5 784.1L1625 786.8L1626.5 787.7L1628 787.3L1629.5 786.8L1631 787L1632.5 787.9L1634 791.9L1635.5 794.5L1637 796.8L1638.5 795.7L1640 793.9L1641.5 792.7L1643 792.8L1644.5 792.2L1646 791.3L1647.5 792.4L1649 792.4L1650.5 790.9L1652 791.1L1653.5 790.6L1655 787.3L1656.5 787L1658 788.9L1659.5 792.5L1661 795.6L1662.5 799.3L1664 798.8L1665.5 798.7L1667 798.2L1668.5 799.3L1670 802.8L1671.5 805.6L1673 805.8L1674.5 806.4L1676 804.6L1677.5 802.9L1679 803.5L1680.5 803L1682 801.3L1683.5 800.3L1685 799.7L1686.5 802.3L1688 804.3L1689.5 807.7L1691 809.6L1692.5 809L1694 809.8L1695.5 810.8L1697 817.8L1698.5 823.2L1700 826.6L1701.5 827.1L1703 823.3L1704.5 821L1706 820.3L1707.5 821L1709 822.8L1710.5 824.5L1712 825.3L1713.5 826.5L1715 826.8L1716.5 824.8L1718 822.1L1719.5 818.5L1721 816.8L1722.5 818L1724 821.8L1725.5 824.4L1727 824L1728.5 822.4L1730 820.5L1731.5 822.8L1733 826.4L1734.5 828.5L1736 828.1L1737.5 826.5L1739 826.9L1740.5 826.5L1742 825.9L1743.5 825.2L1745 820.6L1746.5 815.5L1748 813.1L1749.5 813.2L1751 814L1752.5 814.7L1754 815.1L1755.5 816L1757 816.3L1758.5 817.8L1760 821.4L1761.5 822.9L1763 824.5L1764.5 822.2L1766 821.3L1767.5 823.5L1769 827.6L1770.5 830.2L1772 829.6L1773.5 829L1775 828.9L1776.5 831.1L1778 833.6L1779.5 834.7L1781 833.9L1782.5 831L1784 829L1785.5 827.3L1787 829.7L1788.5 832.1L1790 832.2L1791.5 831.4L1793 830.9L1794.5 834L1796 836.2L1797.5 839.1L1799 839L1800.5 837.7L1802 837.5L1803.5 839.9L1805 840.1L1806.5 840.8L1808 839.3L1809.5 836.9L1811 835.3L1812.5 836L1814 837.2L1815.5 838.2L1817 836.8L1818.5 831.9L1820 825.9L1821.5 822.6L1823 822L1824.5 821.9L1826 820.9L1827.5 818.6L1829 816.8L1830.5 817.4L1832 818.9L1833.5 818.3L1835 816.9L1836.5 813.8L1838 811.4L1839.5 811.5L1841 812.8L1842.5 812.4L1844 808.1L1845.5 802.2L1847 798.1L1848.5 793.8L1850 791.1L1851.5 787.4L1853 782.7L1854.5 777.8L1856 774.5L1857.5 772.3L1859 771.5L1860.5 772L1862 768.4L1863.5 765.9L1865 762.5L1866.5 763.4L1868 767L1869.5 770.6L1871 771.1L1872.5 769.3L1874 764.9L1875.5 763.4L1877 762.1L1878.5 759.6L1880 760.1L1881.5 758.7L1883 758.7L1884.5 758.8L1886 757.1L1887.5 753.3L1889 750L1890.5 748.6L1892 749.2L1893.5 750L1895 751.9L1896.5 754.6L1898 758.1L1899.5 758.5L1901 758.6L1902.5 762.3L1904 768L1905.5 770.9L1907 773.8L1908.5 775.1L1910 775L1911.5 777.4L1913 781L1914.5 783.6L1916 784.3L1917.5 784.4L1919 786.2L1920.5 788.7L1922 792.7L1923.5 796.8L1925 797.6L1926.5 798.8L1928 799.7L1929.5 804.6L1931 810L1932.5 815.1L1934 820.1L1935.5 824.4L1937 826.3L1938.5 828.3L1940 833.4L1941.5 836.2L1943 837.6L1944.5 835.2L1946 833.3L1947.5 835.8L1949 837.4L1950.5 838L1952 839.2L1953.5 837.3L1955 835.3L1956.5 837L1958 839.2L1959.5 842.2L1961 843.5L1962.5 842.9L1964 843.1L1965.5 844.4L1967 848.5L1968.5 851.5L1970 850.8L1971.5 848.8L1973 847.8L1974.5 847.9L1976 849.3L1977.5 850.3L1979 849.2L1980.5 845.6L1982 843.2L1983.5 842.8L1985 844.9L1986.5 844.2L1988 839.1L1989.5 833.1L1991 833.3L1992.5 833.9L1994 837.9L1995.5 839.2L1997 839.8L1998.5 839.9L2000 842.6L2001.5 844.7L2003 848.8L2004.5 852.3L2006 852.9L2007.5 851.9L2009 851.7L2010.5 854.1L2012 855.4L2013.5 857.4L2015 856.5L2016.5 855.2L2018 852.4L2019.5 851.5L2021 851.7L2022.5 852.4L2024 852.9L2025.5 853.3L2027 853.1L2028.5 854.3L2030 857L2031.5 861.3L2033 862.1L2034.5 863.4L2036 863.8L2037.5 865L2039 868.4L2040.5 871.8L2042 873.9L2043.5 873.8L2045 867.8L2046.5 865L2048 863.5L2049.5 863.9L2051 861.3L2052.5 858.7L2054 856.8L2055.5 856.2L2057 855.3L2058.5 852.9L2060 849.3L2061.5 846.2L2063 841.7L2064.5 843L2066 844.7L2067.5 846.3L2069 848.1L2070.5 846.5L2072 843.5L2073.5 840.2L2075 840.1L2076.5 839.6L2078 836.6L2079.5 834.4L2081 832.1L2082.5 832L2084 831.1L2085.5 824L2087 815.8L2088.5 808.5L2090 802L2091.5 799L2093 795.3L2094.5 793.2L2096 789.9L2097.5 785.3L2099 781.4L2100.5 779.4L2102 780.8L2103.5 780.6L2105 778.8L2106.5 774.3L2108 770.7L2109.5 768.8L2111 767.9L2112.5 766.7L2114 761.6L2115.5 753.6L2117 748.2L2118.5 743.3L2120 739.5L2121.5 737.4L2123 734.4L2124.5 731.5L2126 728.2L2127.5 727.7L2129 727.2L2130.5 727.2L2132 722.8L2133.5 719.5L2135 716.8L2136.5 719.1L2138 722.1L2139.5 725.1L2141 727L2142.5 723.9L2144 722.1L2145.5 722.5L2147 723.3L2148.5 725.8L2150 726.5L2151.5 727.4L2153 728.2L2154.5 729.8L2156 733.5L2157.5 734.5L2159 734L2160.5 733.4L2162 737.4L2163.5 744.7L2165 753.3L2166.5 760.4L2168 763.9L2169.5 767.2L2171 771L2172.5 776L2174 783.2L2175.5 789.5L2177 792.6L2178.5 793.5L2180 794.1L2181.5 798.1L2183 802.2L2184.5 805.4L2186 806.4L2187.5 804.4L2189 803.5L2190.5 804.4L2192 810.9L2193.5 817.7L2195 822.2L2196.5 822.9L2198 823.2L2199.5 827.2L2201 832L2202.5 836.3L2204 840.1L2205.5 844.3L2207 845.6L2208.5 846.8L2210 850.3L2211.5 851.7L2213 851.8L2214.5 850.3L2216 849.4L2217.5 850L2219 851.9L2220.5 851.8L2222 850.9L2223.5 847L2225 845.8L2226.5 844.5L2228 845.4L2229.5 847.8L2231 849.7L2232.5 849.7L2234 849.8L2235.5 852.1L2237 857.5L2238.5 860.8L2240 862L2241.5 863.3L2243 864.2L2244.5 865.2L2246 868.5L2247.5 872.1L2249 871.5L2250.5 859.5L2252 855.1L2253.5 864.3L2255 870.7L2256.5 858.9L2258 853.4L2259.5 864.7L2261 867.3L2262.5 854.7L2264 853.4L2265.5 866L2267 866.7L2268.5 855.9L2270 851.5L2271.5 860.7L2273 863.9L2274.5 857.9L2276 855.5L2277.5 857.4L2279 857.3L2280.5 854.4L2282 854.3L2283.5 856.4L2285 854.5L2286.5 848.8L2288 844.6L2289.5 843L2291 842.5L2292.5 842.3L2294 840L2295.5 835.9L2297 833.2L2298.5 832.7L2300 835L2301.5 837.4L2303 838.5L2304.5 838.4L2306 838.2L2307.5 840.3L2309 840.7L2310.5 842.8L2312 841L2313.5 837.4L2315 835.3L2316.5 833.7L2318 834L2319.5 831.3L2321 827.6L2322.5 822.6L2324 818L2325.5 816L2327 815.3L2328.5 814.2L2330 811.6L2331.5 809.9L2333 807.8L2334.5 808.8L2336 810.3L2337.5 810.5L2339 809.3L2340.5 806.2L2342 803.8L2343.5 801.5L2345 801.9L2346.5 799.7L2348 797L2349.5 792L2351 788.4L2352.5 784.9L2354 784.8L2355.5 782.1L2357 777.8L2358.5 768.8L2360 760.1L2361.5 758.9L2363 761.5L2364.5 764.6L2366 764.7L2367.5 763.1L2369 762.1L2370.5 763.7L2372 767.2L2373.5 770.2L2375 771.7L2376.5 771.5L2378 772.2L2379.5 775.9L2381 780.3L2382.5 778.9L2384 776.9L2385.5 773.2L2387 770.1L2388.5 770.8L2390 771.9L2391.5 773.3L2393 771.8L2394.5 769.7L2396 768.1L2397.5 769.7L2399 771.4L2400.5 776.1L2402 777.1L2403.5 776.7L2405 777.2L2406.5 781.7L2408 786.4L2409.5 789.8L2411 789.6L2412.5 789.6L2414 788.9L2415.5 791.9L2417 794.3L2418.5 791.8L2420 786.9L2421.5 781.9L2423 777.4L2424.5 777.4L2426 779.7L2427.5 781.4L2429 780.7L2430.5 776.1L2432 772.3L2433.5 770.4L2435 774.4L2436.5 776.7L2438 776.5L2439.5 776.7L2441 775.6L2442.5 778L2444 782.5L2445.5 785.9L2447 785L2448.5 782.1L2450 779.6L2451.5 777.8L2453 777.8L2454.5 778.6L2456 779.6L2457.5 776.7L2459 775.9L2460.5 776.8L2462 779.4L2463.5 782.9L2465 784L2466.5 784.5L2468 786.9L2469.5 790.6L2471 796.4L2472.5 803.4L2474 812.8L2475.5 816.7L2477 818.5L2478.5 821L2480 823.3L2481.5 826L2483 824.3L2484.5 822.7L2486 822L2487.5 822.6L2489 823.3L2490.5 826L2492 826.7L2493.5 824.7L2495 824.4L2496.5 826.8L2498 828.6L2499.5 830.4L2501 831.7L2502.5 830.3L2504 831.8L2505.5 835.3L2507 840.4L2508.5 843.9L2510 845.7L2511.5 844L2513 844L2514.5 847.5L2516 849.9L2517.5 849.2L2519 848.3L2520.5 846.6L2522 846.2L2523.5 848.2L2525 849.8L2526.5 852.8L2528 849.8L2529.5 843.2L2531 838.2L2532.5 836.6L2534 840.6L2535.5 846.8L2537 850.2L2538.5 854.1" stroke="#f2907f" stroke-width="1.35" fill="none" stroke-linejoin="round" shape-rendering="crispEdges" clip-path="url(#cP6)"/>
<path d="M1406 814.8L1407.5 812.2L1409 805.5L1410.5 800.3L1412 799.5L1413.5 799L1415 799.3L1416.5 797.2L1418 794.2L1419.5 790.2L1421 785.7L1422.5 785.6L1424 789.7L1425.5 792.1L1427 792.9L1428.5 788.6L1430 786.6L1431.5 785.4L1433 787.1L1434.5 787.9L1436 788.1L1437.5 787.9L1439 789.1L1440.5 792.1L1442 793.6L1443.5 793.9L1445 792.1L1446.5 790.9L1448 789.6L1449.5 790.3L1451 792.2L1452.5 793.8L1454 792.4L1455.5 790.7L1457 792.1L1458.5 795.4L1460 798.8L1461.5 799.4L1463 798.5L1464.5 796.8L1466 797.4L1467.5 801.1L1469 805.4L1470.5 807.4L1472 806.4L1473.5 803.5L1475 802.5L1476.5 801.8L1478 802.6L1479.5 803.7L1481 801.9L1482.5 800.4L1484 800.3L1485.5 801.8L1487 802.5L1488.5 800.7L1490 798.8L1491.5 799.4L1493 800.1L1494.5 803.9L1496 806.4L1497.5 808.1L1499 807.5L1500.5 807.3L1502 806.8L1503.5 808.9L1505 811.6L1506.5 811.6L1508 811.6L1509.5 811L1511 812.4L1512.5 815.4L1514 818.6L1515.5 819.3L1517 819L1518.5 816.6L1520 814.7L1521.5 817.1L1523 819.2L1524.5 818.3L1526 818.9L1527.5 819.2L1529 822.3L1530.5 825.8L1532 829.6L1533.5 828.7L1535 827.2L1536.5 826.3L1538 826.4L1539.5 830.2L1541 834.3L1542.5 838.5L1544 834.4L1545.5 829.6L1547 827.1L1548.5 826.9L1550 828.4L1551.5 830.2L1553 829.6L1554.5 828.2L1556 825.9L1557.5 826.6L1559 828.5L1560.5 827.3L1562 824.7L1563.5 824.6L1565 824.5L1566.5 826.9L1568 828.7L1569.5 829.6L1571 827.8L1572.5 825.4L1574 824.6L1575.5 825.8L1577 828L1578.5 828.7L1580 826.4L1581.5 825.9L1583 824.8L1584.5 823.7L1586 823.5L1587.5 823.2L1589 820.3L1590.5 817.1L1592 817L1593.5 819.1L1595 819.5L1596.5 819.4L1598 817.4L1599.5 815.2L1601 814.7L1602.5 816.5L1604 817.9L1605.5 817.6L1607 814.9L1608.5 812.2L1610 809.7L1611.5 809.1L1613 808.5L1614.5 806.5L1616 802.3L1617.5 799.4L1619 799.5L1620.5 800.7L1622 801.5L1623.5 801.3L1625 797.9L1626.5 795.8L1628 794L1629.5 796.5L1631 798L1632.5 799.6L1634 797.6L1635.5 796.7L1637 795.7L1638.5 797.9L1640 799.8L1641.5 801.4L1643 800.4L1644.5 798.8L1646 797.8L1647.5 800.1L1649 801.4L1650.5 799.5L1652 797.4L1653.5 794.3L1655 793.7L1656.5 796.3L1658 798.1L1659.5 800.9L1661 800.5L1662.5 800.5L1664 798.5L1665.5 799.1L1667 800.6L1668.5 799.3L1670 799L1671.5 799.2L1673 801.2L1674.5 805.4L1676 808.6L1677.5 808.2L1679 804.2L1680.5 800.4L1682 798.5L1683.5 799.6L1685 802.5L1686.5 803.6L1688 802.3L1689.5 801.4L1691 799.9L1692.5 802L1694 804.2L1695.5 803.5L1697 802.1L1698.5 801.1L1700 801.7L1701.5 804.8L1703 808.6L1704.5 808.3L1706 806.2L1707.5 802.5L1709 801.2L1710.5 803.3L1712 805.6L1713.5 806.2L1715 803.6L1716.5 802.1L1718 798.8L1719.5 796.7L1721 795.2L1722.5 793.1L1724 794.8L1725.5 794.5L1727 796.8L1728.5 800.8L1730 804.3L1731.5 802.7L1733 799.1L1734.5 794.3L1736 791.9L1737.5 795.8L1739 798.6L1740.5 799.7L1742 799.2L1743.5 799.6L1745 799.5L1746.5 802.6L1748 805.4L1749.5 806.9L1751 805.1L1752.5 804.1L1754 806.3L1755.5 808.8L1757 810.3L1758.5 810.3L1760 808.9L1761.5 808.4L1763 808.4L1764.5 809.8L1766 812L1767.5 813.7L1769 813L1770.5 812.2L1772 813.3L1773.5 816L1775 819.3L1776.5 822.7L1778 821.4L1779.5 818.4L1781 819.2L1782.5 821.8L1784 824.1L1785.5 826.9L1787 826.3L1788.5 825.9L1790 827.4L1791.5 831.1L1793 834.6L1794.5 836.2L1796 835.9L1797.5 835.4L1799 836.6L1800.5 840L1802 842.8L1803.5 843.5L1805 842.3L1806.5 840.4L1808 841.7L1809.5 844.7L1811 847.2L1812.5 849.4L1814 849.8L1815.5 848.7L1817 848.1L1818.5 848.6L1820 848.1L1821.5 845.1L1823 841.8L1824.5 839.7L1826 838.2L1827.5 837.7L1829 837.2L1830.5 834L1832 831.6L1833.5 829.2L1835 828.8L1836.5 829.2L1838 830.4L1839.5 829.1L1841 826.7L1842.5 822.4L1844 820.8L1845.5 822.1L1847 822.3L1848.5 821.1L1850 817.7L1851.5 815.1L1853 811.3L1854.5 809.7L1856 807.9L1857.5 804.7L1859 801.3L1860.5 800.6L1862 799.2L1863.5 800.9L1865 803L1866.5 804.3L1868 802.5L1869.5 801L1871 802.9L1872.5 804.4L1874 805.7L1875.5 804.7L1877 802.4L1878.5 798.3L1880 798.6L1881.5 799.4L1883 801.2L1884.5 801.8L1886 799.6L1887.5 795.9L1889 793.1L1890.5 791.9L1892 791.9L1893.5 790.5L1895 787.9L1896.5 784.2L1898 781.8L1899.5 781.3L1901 783.1L1902.5 783.3L1904 779.6L1905.5 776.7L1907 777.3L1908.5 778.3L1910 779.4L1911.5 779.5L1913 779.3L1914.5 776.2L1916 775L1917.5 777.1L1919 778L1920.5 780.3L1922 779.3L1923.5 778.7L1925 779.7L1926.5 783.7L1928 788.1L1929.5 789L1931 788.7L1932.5 788L1934 788.2L1935.5 791.9L1937 794L1938.5 795.3L1940 796.5L1941.5 798.7L1943 801.3L1944.5 803.1L1946 805.8L1947.5 808.3L1949 806.9L1950.5 806.8L1952 810.1L1953.5 814.7L1955 817.4L1956.5 819.8L1958 817.5L1959.5 815.1L1961 815.2L1962.5 815.1L1964 818.4L1965.5 821.1L1967 821.8L1968.5 821.5L1970 821.7L1971.5 822.5L1973 825.3L1974.5 824L1976 821.7L1977.5 819.9L1979 821.2L1980.5 822.4L1982 825.1L1983.5 823L1985 818.1L1986.5 813L1988 809.1L1989.5 812.5L1991 815.6L1992.5 816.4L1994 813.9L1995.5 811.7L1997 811.1L1998.5 811.3L2000 812.7L2001.5 813.7L2003 815.4L2004.5 814.3L2006 815.6L2007.5 821.5L2009 825.7L2010.5 828.9L2012 831L2013.5 833.8L2015 836.5L2016.5 839.2L2018 843.7L2019.5 845.4L2021 845.7L2022.5 846.7L2024 847.5L2025.5 850.5L2027 855.6L2028.5 857.6L2030 857.9L2031.5 859.2L2033 861.5L2034.5 864.8L2036 867.9L2037.5 870.4L2039 871.4L2040.5 871.3L2042 876.4L2043.5 883.1L2045 883.6L2046.5 881.2L2048 877.4L2049.5 877.6L2051 880.3L2052.5 883.7L2054 886.8L2055.5 883.4L2057 879.5L2058.5 875.3L2060 872.4L2061.5 870.8L2063 869.2L2064.5 866.4L2066 863.2L2067.5 859.3L2069 856.8L2070.5 856.6L2072 854.9L2073.5 853.8L2075 849.4L2076.5 844.8L2078 840.6L2079.5 840.3L2081 838L2082.5 834.1L2084 830L2085.5 824.1L2087 820.4L2088.5 817.9L2090 815.5L2091.5 810.6L2093 803.4L2094.5 797.9L2096 794.1L2097.5 793L2099 791.1L2100.5 789.8L2102 785.9L2103.5 782.7L2105 780.7L2106.5 779.9L2108 779.5L2109.5 776.9L2111 774.6L2112.5 769.9L2114 767.6L2115.5 769.7L2117 771.2L2118.5 772.3L2120 771.6L2121.5 768.1L2123 766.1L2124.5 763.9L2126 763.4L2127.5 762L2129 757.6L2130.5 755L2132 753.7L2133.5 754.5L2135 755L2136.5 754.4L2138 751.2L2139.5 750.1L2141 749.5L2142.5 751.1L2144 754.9L2145.5 755.6L2147 755.5L2148.5 753.5L2150 754.7L2151.5 758.3L2153 761.8L2154.5 762.8L2156 760.8L2157.5 760.1L2159 760.9L2160.5 762.8L2162 765.6L2163.5 765.6L2165 766.8L2166.5 770.4L2168 774.9L2169.5 776.9L2171 779.8L2172.5 781.2L2174 779.8L2175.5 781.4L2177 787.3L2178.5 792L2180 796.2L2181.5 796.4L2183 795.3L2184.5 794.6L2186 794.4L2187.5 796.4L2189 799L2190.5 801.3L2192 799.9L2193.5 798.7L2195 798.2L2196.5 800.6L2198 804.5L2199.5 806.2L2201 804.8L2202.5 804L2204 805L2205.5 806.6L2207 808.5L2208.5 809.9L2210 806.3L2211.5 804L2213 801.9L2214.5 803.6L2216 805.8L2217.5 805L2219 802.2L2220.5 801.7L2222 800.8L2223.5 801.1L2225 800.2L2226.5 798.7L2228 794.3L2229.5 792.6L2231 794.4L2232.5 796.5L2234 799.1L2235.5 801.5L2237 801.2L2238.5 802.4L2240 804.9L2241.5 808.1L2243 812.4L2244.5 815.1L2246 814.3L2247.5 814.4L2249 817.7L2250.5 824.7L2252 827.7L2253.5 831.2L2255 831.5L2256.5 832.3L2258 833.1L2259.5 836L2261 839.3L2262.5 842.2L2264 846.2L2265.5 847.1L2267 848.1L2268.5 851.5L2270 853.9L2271.5 855.6L2273 855.6L2274.5 856.2L2276 859.4L2277.5 862.9L2279 867.2L2280.5 868.4L2282 865.3L2283.5 863.1L2285 860.6L2286.5 863L2288 866.6L2289.5 869.9L2291 868.5L2292.5 865L2294 862.3L2295.5 863.4L2297 864L2298.5 863.6L2300 860.3L2301.5 858.4L2303 857.9L2304.5 858.9L2306 861.3L2307.5 861L2309 860.4L2310.5 859.3L2312 860.8L2313.5 861.6L2315 864.9L2316.5 865.8L2318 862.7L2319.5 859.2L2321 858.7L2322.5 858.7L2324 859.1L2325.5 856.5L2327 853.2L2328.5 849L2330 845L2331.5 844L2333 844.2L2334.5 843.2L2336 840.2L2337.5 837.2L2339 834.6L2340.5 834L2342 834.6L2343.5 832.5L2345 830.3L2346.5 826L2348 823.4L2349.5 823.9L2351 824.1L2352.5 823.6L2354 820.7L2355.5 812.9L2357 806L2358.5 803.3L2360 799.9L2361.5 794.9L2363 788.4L2364.5 784.3L2366 783.3L2367.5 783.4L2369 783.3L2370.5 779.8L2372 774.8L2373.5 770.2L2375 766.7L2376.5 768.7L2378 772.7L2379.5 773.8L2381 773L2382.5 769L2384 766.1L2385.5 765.5L2387 767L2388.5 767.4L2390 764.6L2391.5 763.5L2393 763.1L2394.5 761.2L2396 761L2397.5 760.2L2399 758.2L2400.5 755.5L2402 754.6L2403.5 756L2405 757.7L2406.5 762.1L2408 765.6L2409.5 765.6L2411 766.3L2412.5 769L2414 771.7L2415.5 776.9L2417 780.4L2418.5 782L2420 780.5L2421.5 779.4L2423 781.6L2424.5 786.2L2426 787.2L2427.5 789.4L2429 791.8L2430.5 789.3L2432 787.5L2433.5 785.9L2435 783.6L2436.5 783.4L2438 786.2L2439.5 790.1L2441 795.3L2442.5 796.9L2444 796.8L2445.5 795.2L2447 795.1L2448.5 795.6L2450 795.4L2451.5 793.6L2453 790.6L2454.5 791.9L2456 793.6L2457.5 796.7L2459 799.1L2460.5 797.7L2462 794.9L2463.5 790.9L2465 791.7L2466.5 795.4L2468 799.8L2469.5 802.2L2471 802.9L2472.5 804.7L2474 809.4L2475.5 819.3L2477 824.3L2478.5 822.5L2480 819.5L2481.5 816.8L2483 819.2L2484.5 827.1L2486 834.4L2487.5 840.3L2489 838.8L2490.5 834L2492 831.7L2493.5 831.2L2495 832.5L2496.5 834.6L2498 837L2499.5 838L2501 837.6L2502.5 839.8L2504 841.5L2505.5 843.5L2507 842.1L2508.5 840L2510 837.9L2511.5 838L2513 840L2514.5 842.6L2516 842L2517.5 841.2L2519 839.8L2520.5 840.2L2522 839.5L2523.5 837.4L2525 832.7L2526.5 828.8L2528 824.1L2529.5 823L2531 825.7L2532.5 826.6L2534 828.1L2535.5 827.4L2537 825.5L2538.5 822.1" stroke="#b83ab0" stroke-width="1.35" fill="none" stroke-linejoin="round" shape-rendering="crispEdges" clip-path="url(#cP6)"/>
<path d="M1406 805.6L1407.5 809.7L1409 814.1L1410.5 817.4L1412 819.7L1413.5 818.5L1415 818L1416.5 820.8L1418 827L1419.5 833.3L1421 835.3L1422.5 833.6L1424 833.5L1425.5 834.8L1427 836.4L1428.5 837.1L1430 837.3L1431.5 836.1L1433 834.5L1434.5 834.5L1436 836L1437.5 836.5L1439 836.6L1440.5 834.6L1442 833.5L1443.5 833.7L1445 835.1L1446.5 838.3L1448 836.9L1449.5 834.7L1451 832.6L1452.5 833.5L1454 833.7L1455.5 834.7L1457 834.6L1458.5 831.7L1460 829.4L1461.5 827.8L1463 828.4L1464.5 829L1466 828L1467.5 825.1L1469 820.8L1470.5 820.5L1472 820.8L1473.5 820.7L1475 819.9L1476.5 817.3L1478 815.1L1479.5 816.4L1481 818.8L1482.5 820.8L1484 821.9L1485.5 821.6L1487 819L1488.5 817.8L1490 817.9L1491.5 818L1493 816.8L1494.5 813.3L1496 809.9L1497.5 810.1L1499 810.5L1500.5 811.8L1502 810.2L1503.5 807.9L1505 806L1506.5 804.8L1508 806.6L1509.5 808L1511 808.3L1512.5 806.5L1514 805.8L1515.5 805.2L1517 805.6L1518.5 807L1520 806.3L1521.5 803.2L1523 801.6L1524.5 801L1526 800.8L1527.5 802.2L1529 801.1L1530.5 797.5L1532 796.2L1533.5 795.2L1535 797.3L1536.5 798.8L1538 798.7L1539.5 796.5L1541 795.7L1542.5 791.7L1544 788.2L1545.5 792.9L1547 798.2L1548.5 798.3L1550 797.5L1551.5 796.7L1553 798.9L1554.5 799.7L1556 799.5L1557.5 799.3L1559 798.6L1560.5 800.5L1562 802.4L1563.5 803L1565 802.1L1566.5 799.7L1568 797.8L1569.5 797.9L1571 798.7L1572.5 799.2L1574 797.9L1575.5 797L1577 795.3L1578.5 796.9L1580 798.7L1581.5 801.9L1583 802L1584.5 802.7L1586 801.4L1587.5 802.6L1589 805.3L1590.5 807.3L1592 807.9L1593.5 806.8L1595 805.8L1596.5 804.8L1598 807.2L1599.5 808.8L1601 809.3L1602.5 807.9L1604 808.6L1605.5 809.3L1607 811.8L1608.5 815.9L1610 817.8L1611.5 816.8L1613 816.5L1614.5 818.1L1616 820.7L1617.5 824L1619 825.2L1620.5 824.9L1622 825L1623.5 825.2L1625 827.7L1626.5 831.2L1628 832.6L1629.5 831.2L1631 828L1632.5 826.6L1634 826.9L1635.5 828.1L1637 827.7L1638.5 826.6L1640 824.3L1641.5 824.7L1643 825.6L1644.5 827.5L1646 828.1L1647.5 826.4L1649 825.3L1650.5 826.2L1652 827.2L1653.5 827.8L1655 827.8L1656.5 826.3L1658 825.7L1659.5 824.8L1661 827.7L1662.5 829.5L1664 827.8L1665.5 824.8L1667 821.2L1668.5 821.5L1670 822.1L1671.5 823.4L1673 823.5L1674.5 821.9L1676 819.7L1677.5 818.9L1679 820.5L1680.5 821.8L1682 820.9L1683.5 819.9L1685 817.2L1686.5 816.6L1688 818.7L1689.5 820.4L1691 818.9L1692.5 817.4L1694 816L1695.5 815L1697 816.2L1698.5 816.9L1700 815.7L1701.5 813.6L1703 812.7L1704.5 814.3L1706 816.2L1707.5 818.3L1709 818.8L1710.5 817.4L1712 815.3L1713.5 815.5L1715 818.1L1716.5 819.5L1718 821.6L1719.5 820.8L1721 820.1L1722.5 821.8L1724 823.2L1725.5 823.7L1727 822.4L1728.5 820L1730 817.6L1731.5 818.3L1733 820.8L1734.5 822.9L1736 822.5L1737.5 820.1L1739 818.9L1740.5 819.3L1742 822L1743.5 822.9L1745 823.1L1746.5 819.6L1748 816.3L1749.5 816.3L1751 817.3L1752.5 817.6L1754 816.8L1755.5 815.5L1757 812.4L1758.5 812.7L1760 813L1761.5 813.5L1763 813.4L1764.5 810.5L1766 807.5L1767.5 807.6L1769 808.2L1770.5 809.2L1772 809.1L1773.5 806.4L1775 803.6L1776.5 801.6L1778 802.5L1779.5 803L1781 802.7L1782.5 800.9L1784 796.7L1785.5 794.5L1787 795.5L1788.5 796.6L1790 795.8L1791.5 791.9L1793 788.1L1794.5 786.9L1796 788.1L1797.5 788.3L1799 787.8L1800.5 784.7L1802 782.4L1803.5 780.2L1805 781.6L1806.5 782L1808 781.2L1809.5 778L1811 776.6L1812.5 776.4L1814 778.1L1815.5 779.3L1817 778.5L1818.5 779.8L1820 779.3L1821.5 781.3L1823 785.7L1824.5 788L1826 788.7L1827.5 789.1L1829 790L1830.5 792.2L1832 794.4L1833.5 797L1835 797.3L1836.5 797.8L1838 797.3L1839.5 798.5L1841 800.4L1842.5 803.3L1844 804.2L1845.5 805.4L1847 806.1L1848.5 810.1L1850 813.8L1851.5 816.9L1853 816.7L1854.5 815.1L1856 815.2L1857.5 820.3L1859 825.1L1860.5 826.8L1862 827.3L1863.5 826.8L1865 825.7L1866.5 825.6L1868 825.5L1869.5 826.5L1871 825.5L1872.5 824.7L1874 825.7L1875.5 826.4L1877 829.9L1878.5 834.8L1880 835.5L1881.5 831.8L1883 829.8L1884.5 829.8L1886 831.8L1887.5 836.2L1889 838.4L1890.5 838.7L1892 838.8L1893.5 839.1L1895 842.9L1896.5 844.8L1898 844.9L1899.5 844.6L1901 842.4L1902.5 843.4L1904 846.2L1905.5 847.5L1907 847.6L1908.5 845.9L1910 842.8L1911.5 841.6L1913 843.5L1914.5 845.4L1916 846L1917.5 843.5L1919 842.4L1920.5 840.6L1922 841.6L1923.5 841.3L1925 839.6L1926.5 835.8L1928 833.6L1929.5 832.2L1931 832.7L1932.5 832.2L1934 828.2L1935.5 824.1L1937 819.9L1938.5 816.9L1940 816.9L1941.5 817.7L1943 815.5L1944.5 811.2L1946 806.5L1947.5 806.7L1949 807.5L1950.5 807.3L1952 807L1953.5 804L1955 802.1L1956.5 802.3L1958 805.1L1959.5 807.1L1961 805.3L1962.5 801.8L1964 797.9L1965.5 796.8L1967 797.6L1968.5 799.2L1970 797.8L1971.5 795.5L1973 794.7L1974.5 795.2L1976 797.8L1977.5 799.8L1979 799.6L1980.5 797.4L1982 795.6L1983.5 797.6L1985 800.5L1986.5 803.8L1988 806.9L1989.5 809L1991 805.3L1992.5 804.9L1994 806.1L1995.5 808.4L1997 808.3L1998.5 807.4L2000 807.3L2001.5 806.3L2003 805.4L2004.5 804.5L2006 803.3L2007.5 798.7L2009 794.9L2010.5 793.4L2012 792.4L2013.5 790L2015 787L2016.5 780.8L2018 776.4L2019.5 773.5L2021 772.6L2022.5 772.2L2024 770.3L2025.5 766.9L2027 763.6L2028.5 762.1L2030 764L2031.5 763.5L2033 761.9L2034.5 759.1L2036 756.1L2037.5 753.5L2039 753.3L2040.5 751L2042 749.1L2043.5 743.3L2045 744.2L2046.5 747.4L2048 749.3L2049.5 749.2L2051 747.9L2052.5 745.6L2054 743.1L2055.5 746.4L2057 750L2058.5 753.5L2060 755.8L2061.5 757.2L2063 758.2L2064.5 761.7L2066 765.7L2067.5 770.5L2069 772.6L2070.5 772.1L2072 770.6L2073.5 770.9L2075 774.8L2076.5 779.9L2078 783.1L2079.5 785.1L2081 786.9L2082.5 790L2084 796L2085.5 802.2L2087 806.3L2088.5 807.7L2090 810.9L2091.5 817L2093 824.4L2094.5 830.9L2096 832.8L2097.5 832.9L2099 832.9L2100.5 833.4L2102 835.1L2103.5 838.7L2105 838.9L2106.5 837.8L2108 839L2109.5 841.8L2111 844.8L2112.5 848.1L2114 850.2L2115.5 849.4L2117 850.1L2118.5 851.6L2120 856.8L2121.5 859.7L2123 862.3L2124.5 862.6L2126 863.1L2127.5 865.8L2129 869.7L2130.5 872L2132 874.1L2133.5 874.7L2135 874.9L2136.5 876L2138 875.9L2139.5 876.3L2141 875.8L2142.5 873.3L2144 871.1L2145.5 869.4L2147 870.3L2148.5 871.7L2150 871.1L2151.5 869.6L2153 866.4L2154.5 866.6L2156 866.9L2157.5 867.9L2159 866.4L2160.5 864.1L2162 863L2163.5 861.3L2165 860.9L2166.5 857.6L2168 853.6L2169.5 847.4L2171 843.9L2172.5 841.2L2174 838.9L2175.5 837.7L2177 834.4L2178.5 829.7L2180 826.2L2181.5 823.7L2183 824.4L2184.5 827L2186 826.1L2187.5 824.1L2189 822.2L2190.5 821.3L2192 822.2L2193.5 821.4L2195 820.3L2196.5 818.1L2198 817.2L2199.5 816.3L2201 817.2L2202.5 818.5L2204 815.4L2205.5 812.9L2207 809.9L2208.5 807.1L2210 809.1L2211.5 810L2213 809.5L2214.5 807.8L2216 806.7L2217.5 807.9L2219 810.4L2220.5 813.9L2222 815L2223.5 815.7L2225 814.2L2226.5 815.5L2228 818.3L2229.5 820.2L2231 820L2232.5 817.8L2234 813.6L2235.5 811.3L2237 811.5L2238.5 810.4L2240 807.5L2241.5 804.5L2243 801.4L2244.5 799.2L2246 797.9L2247.5 797.8L2249 795.4L2250.5 791.6L2252 788.2L2253.5 785.4L2255 785.4L2256.5 786L2258 786.3L2259.5 783.5L2261 780.9L2262.5 780.7L2264 780.8L2265.5 780.1L2267 777.4L2268.5 774.2L2270 770.1L2271.5 768.4L2273 769.6L2274.5 769.1L2276 766.3L2277.5 761.5L2279 757.5L2280.5 756.9L2282 761.1L2283.5 763.9L2285 766L2286.5 763.5L2288 759.3L2289.5 757.2L2291 759.9L2292.5 764.6L2294 765.8L2295.5 767.3L2297 767.5L2298.5 767.4L2300 767.9L2301.5 769.2L2303 769.1L2304.5 767.8L2306 766.4L2307.5 766.2L2309 767.3L2310.5 769.6L2312 770.5L2313.5 768.3L2315 766.1L2316.5 765.8L2318 767.4L2319.5 769.5L2321 770.4L2322.5 770.9L2324 772L2325.5 774.4L2327 779.2L2328.5 782.6L2330 785L2331.5 783.6L2333 782.8L2334.5 784.4L2336 786.4L2337.5 789.6L2339 792.5L2340.5 792.1L2342 792.3L2343.5 793.5L2345 798.1L2346.5 802.8L2348 805.6L2349.5 805L2351 804.5L2352.5 807.3L2354 809.5L2355.5 816.2L2357 821.5L2358.5 827.5L2360 831L2361.5 833.6L2363 838.7L2364.5 843.6L2366 845.5L2367.5 845.7L2369 846.5L2370.5 847.4L2372 851.6L2373.5 852.6L2375 854.5L2376.5 852.6L2378 851.8L2379.5 851.4L2381 850.9L2382.5 851.2L2384 850.3L2385.5 850.4L2387 851.2L2388.5 854.3L2390 859.2L2391.5 861.5L2393 863L2394.5 862.4L2396 861.5L2397.5 861.4L2399 862.5L2400.5 862.5L2402 862L2403.5 857L2405 853.4L2406.5 849.2L2408 848.9L2409.5 850.2L2411 848.6L2412.5 846.9L2414 843.5L2415.5 840.7L2417 840.1L2418.5 840.7L2420 841.1L2421.5 841.3L2423 839.5L2424.5 837.2L2426 837.6L2427.5 836.2L2429 836.5L2430.5 836.4L2432 837.4L2433.5 838.7L2435 840.4L2436.5 839.8L2438 837.6L2439.5 834.6L2441 830.8L2442.5 829.9L2444 831.4L2445.5 830.9L2447 831.3L2448.5 832L2450 830.6L2451.5 831.6L2453 834L2454.5 835L2456 832.5L2457.5 829.1L2459 826.4L2460.5 826.7L2462 827.5L2463.5 828.5L2465 828.4L2466.5 824.9L2468 822.7L2469.5 822.3L2471 822.4L2472.5 820.9L2474 815.1L2475.5 807.1L2477 802.1L2478.5 802.1L2480 803.6L2481.5 804.9L2483 800L2484.5 790.9L2486 786.9L2487.5 788.5L2489 790.7L2490.5 793L2492 793.2L2493.5 794.3L2495 793.7L2496.5 788.8L2498 789.4L2499.5 788.6L2501 787.4L2502.5 789.5L2504 790.6L2505.5 790.2L2507 789.1L2508.5 786L2510 783.2L2511.5 782.5L2513 782.8L2514.5 784.2L2516 782.4L2517.5 781.6L2519 780.8L2520.5 780.3L2522 782.4L2523.5 784.2L2525 786.6L2526.5 789.2L2528 794.1L2529.5 798.7L2531 797.5L2532.5 794.4L2534 792.6L2535.5 791.6L2537 793.3L2538.5 795.7" stroke="#fdf0d8" stroke-width="1.35" fill="none" stroke-linejoin="round" shape-rendering="crispEdges" clip-path="url(#cP6)"/>
<path d="M1406 816.2L1407.5 818.7L1409 823.9L1410.5 826.1L1412 828.5L1413.5 828.3L1415 828.6L1416.5 830.7L1418 833.2L1419.5 837.4L1421 839L1422.5 836.5L1424 834.4L1425.5 832.9L1427 833.8L1428.5 834.1L1430 834.3L1431.5 831.3L1433 829.3L1434.5 829.7L1436 831.7L1437.5 834.6L1439 834.3L1440.5 832.7L1442 833.6L1443.5 835.8L1445 838.4L1446.5 840.4L1448 842.1L1449.5 841.7L1451 841.3L1452.5 842.2L1454 843L1455.5 843.7L1457 841.8L1458.5 837.7L1460 835.3L1461.5 834L1463 833.9L1464.5 833.9L1466 832.5L1467.5 829.6L1469 824.8L1470.5 823.2L1472 821.6L1473.5 821L1475 820.3L1476.5 817.5L1478 816.2L1479.5 816.6L1481 817.3L1482.5 818L1484 815.8L1485.5 812.7L1487 807.9L1488.5 804.7L1490 804.4L1491.5 801.8L1493 797.8L1494.5 792.6L1496 790.6L1497.5 788.9L1499 788.6L1500.5 788.2L1502 788.4L1503.5 784.7L1505 782.1L1506.5 781.9L1508 784.3L1509.5 788.3L1511 790.3L1512.5 789.3L1514 789.4L1515.5 789.9L1517 792.6L1518.5 793.8L1520 795.1L1521.5 794L1523 793.6L1524.5 795.4L1526 798.3L1527.5 801.1L1529 799.6L1530.5 795.1L1532 792L1533.5 791.7L1535 792.3L1536.5 794.6L1538 795L1539.5 793.4L1541 792.9L1542.5 796.2L1544 801.3L1545.5 805.1L1547 806.8L1548.5 805.5L1550 805.9L1551.5 807.3L1553 809.9L1554.5 811.7L1556 810.9L1557.5 807.5L1559 805.4L1560.5 804.7L1562 807.6L1563.5 807.6L1565 806.5L1566.5 803.9L1568 801L1569.5 801.9L1571 804L1572.5 804.3L1574 802.2L1575.5 801.4L1577 800.9L1578.5 801.2L1580 805.1L1581.5 808L1583 809.7L1584.5 808.7L1586 807.7L1587.5 808.2L1589 810.2L1590.5 812.6L1592 813L1593.5 810.6L1595 809.2L1596.5 809.3L1598 810.6L1599.5 812.5L1601 812.3L1602.5 812.3L1604 810.8L1605.5 811.7L1607 814.7L1608.5 818.3L1610 819.2L1611.5 818.9L1613 820.1L1614.5 822.2L1616 828L1617.5 832.9L1619 834.3L1620.5 833.7L1622 832.5L1623.5 832.8L1625 835.7L1626.5 836.1L1628 834.5L1629.5 831.6L1631 829.5L1632.5 830.5L1634 832.6L1635.5 832.5L1637 830.5L1638.5 827.6L1640 824.9L1641.5 825.5L1643 827.7L1644.5 830.6L1646 830.3L1647.5 829.9L1649 829.8L1650.5 830.3L1652 834L1653.5 835.4L1655 836.9L1656.5 834.7L1658 831.9L1659.5 829.8L1661 830.5L1662.5 831.1L1664 829L1665.5 826.6L1667 823.7L1668.5 822.6L1670 824.2L1671.5 824.5L1673 822.8L1674.5 818L1676 815.6L1677.5 815.8L1679 819L1680.5 821.7L1682 821.9L1683.5 819.7L1685 817.4L1686.5 816.2L1688 817.5L1689.5 819.2L1691 818.1L1692.5 814.4L1694 812L1695.5 811.5L1697 810.3L1698.5 809.3L1700 805.9L1701.5 801.4L1703 799L1704.5 800.8L1706 802.8L1707.5 803.6L1709 804.6L1710.5 802.8L1712 800.6L1713.5 799.1L1715 800.2L1716.5 801.3L1718 803.3L1719.5 804.2L1721 804.6L1722.5 806.5L1724 808.8L1725.5 809.2L1727 808.8L1728.5 806L1730 803.5L1731.5 802.5L1733 803.9L1734.5 804.3L1736 803.9L1737.5 801L1739 799.4L1740.5 799.7L1742 800.9L1743.5 802.7L1745 803.8L1746.5 804L1748 804.9L1749.5 806.4L1751 809.6L1752.5 810.1L1754 810.7L1755.5 809.2L1757 807.6L1758.5 805.6L1760 805.7L1761.5 805.4L1763 803.9L1764.5 802.1L1766 801.2L1767.5 800.7L1769 802.3L1770.5 801.5L1772 799.2L1773.5 796.4L1775 794.8L1776.5 793.4L1778 796L1779.5 798.6L1781 798.2L1782.5 796.6L1784 794.3L1785.5 795L1787 796.9L1788.5 798.2L1790 796.5L1791.5 793.3L1793 790.1L1794.5 788.6L1796 790.5L1797.5 790.5L1799 788.2L1800.5 784.4L1802 783L1803.5 782.1L1805 782.3L1806.5 783.7L1808 782.6L1809.5 780.1L1811 779.1L1812.5 781.2L1814 784.8L1815.5 787.7L1817 788.3L1818.5 788.1L1820 789.5L1821.5 792.4L1823 795.8L1824.5 799.8L1826 801.1L1827.5 799.3L1829 798.3L1830.5 799.7L1832 802.8L1833.5 804.6L1835 806.1L1836.5 805.8L1838 804.8L1839.5 806.5L1841 810.7L1842.5 814L1844 814.6L1845.5 813.7L1847 815.5L1848.5 819.9L1850 826.5L1851.5 831.1L1853 834.5L1854.5 835.5L1856 836.2L1857.5 838.4L1859 842.5L1860.5 847.3L1862 848.6L1863.5 846.6L1865 845.6L1866.5 847.5L1868 850.8L1869.5 852.3L1871 853.1L1872.5 850.5L1874 850.3L1875.5 851.6L1877 854.8L1878.5 858.1L1880 859.2L1881.5 858.8L1883 857.3L1884.5 859.4L1886 862.2L1887.5 866.5L1889 867.8L1890.5 864.2L1892 861.9L1893.5 861.8L1895 863.1L1896.5 863.4L1898 861L1899.5 858.1L1901 854.3L1902.5 853.2L1904 851.9L1905.5 851.6L1907 848.7L1908.5 844.6L1910 841L1911.5 841.8L1913 842.1L1914.5 843.7L1916 842.4L1917.5 839.3L1919 836.1L1920.5 834.5L1922 834L1923.5 831.6L1925 829.5L1926.5 824L1928 819.6L1929.5 818.6L1931 816L1932.5 814.2L1934 811.2L1935.5 804.5L1937 799.5L1938.5 797.6L1940 796.9L1941.5 796.7L1943 795.7L1944.5 793.7L1946 791.6L1947.5 791.3L1949 792.9L1950.5 794.2L1952 793.4L1953.5 790.8L1955 788.7L1956.5 788.5L1958 790.3L1959.5 790.3L1961 788.3L1962.5 787.3L1964 785.8L1965.5 784.9L1967 784.6L1968.5 784.7L1970 783.9L1971.5 780.2L1973 777.8L1974.5 778.6L1976 781.2L1977.5 783.4L1979 783.5L1980.5 782.7L1982 781.4L1983.5 784.1L1985 786.2L1986.5 790L1988 792.3L1989.5 792.7L1991 791L1992.5 791.6L1994 794.3L1995.5 796.3L1997 795.7L1998.5 791.1L2000 786.7L2001.5 783.5L2003 781.4L2004.5 781.2L2006 778.9L2007.5 777.3L2009 773.7L2010.5 774.1L2012 774.4L2013.5 775.3L2015 773.5L2016.5 770.9L2018 769.8L2019.5 770L2021 771.3L2022.5 772L2024 771.8L2025.5 768.2L2027 766.1L2028.5 765L2030 764.7L2031.5 765.9L2033 762.9L2034.5 760.8L2036 758.2L2037.5 756.4L2039 756.6L2040.5 757.6L2042 755.2L2043.5 752.8L2045 754.8L2046.5 758.9L2048 764.6L2049.5 767.5L2051 766.4L2052.5 763.9L2054 764.3L2055.5 765.6L2057 770.1L2058.5 773.6L2060 775.6L2061.5 774.9L2063 775.3L2064.5 776.8L2066 779.9L2067.5 782L2069 783.5L2070.5 782.3L2072 781.1L2073.5 783.1L2075 786.3L2076.5 788.7L2078 790.4L2079.5 789.1L2081 789.7L2082.5 792.2L2084 797.1L2085.5 802L2087 807.6L2088.5 809.8L2090 812.6L2091.5 818.8L2093 825.1L2094.5 831L2096 833.6L2097.5 834L2099 834.4L2100.5 837.6L2102 842.4L2103.5 846.5L2105 848L2106.5 847.8L2108 847.2L2109.5 850.2L2111 853.4L2112.5 856.8L2114 859L2115.5 860.9L2117 861.8L2118.5 865.8L2120 870.7L2121.5 874.2L2123 876.6L2124.5 878.5L2126 879.8L2127.5 884.2L2129 888.5L2130.5 891.4L2132 892.9L2133.5 891.3L2135 891.8L2136.5 893.2L2138 892.6L2139.5 892.6L2141 890.6L2142.5 887.2L2144 884.6L2145.5 885.8L2147 887.8L2148.5 889.9L2150 889.7L2151.5 886.1L2153 884.5L2154.5 884L2156 884.3L2157.5 885.3L2159 883L2160.5 879.3L2162 876.4L2163.5 874.5L2165 872.3L2166.5 868.3L2168 862.1L2169.5 854.5L2171 849.3L2172.5 843.8L2174 840.3L2175.5 838.3L2177 835.2L2178.5 829.1L2180 825.1L2181.5 823.3L2183 824.4L2184.5 824.8L2186 822.8L2187.5 819.3L2189 817.1L2190.5 817.4L2192 819L2193.5 820L2195 818.1L2196.5 812.3L2198 808.3L2199.5 806.4L2201 804.4L2202.5 802.9L2204 798.6L2205.5 792.2L2207 786.4L2208.5 783.4L2210 784.8L2211.5 785.6L2213 785.1L2214.5 782.9L2216 781.6L2217.5 781.2L2219 782.7L2220.5 785.6L2222 785.7L2223.5 785.7L2225 784.4L2226.5 786.3L2228 789.2L2229.5 788.6L2231 786L2232.5 781.6L2234 777.6L2235.5 775.4L2237 775.4L2238.5 776.1L2240 774.4L2241.5 770.5L2243 766.9L2244.5 766.9L2246 764.2L2247.5 764.5L2249 771.5L2250.5 769.5L2252 758.6L2253.5 762L2255 773.2L2256.5 771.3L2258 761.2L2259.5 761.2L2261 768.4L2262.5 767.3L2264 762.8L2265.5 765.9L2267 770.6L2268.5 766.3L2270 759.9L2271.5 760.7L2273 766.3L2274.5 768L2276 764.1L2277.5 762.5L2279 761.7L2280.5 762.1L2282 765.5L2283.5 771.3L2285 772.9L2286.5 772.6L2288 772.8L2289.5 774.8L2291 778.2L2292.5 781L2294 783.3L2295.5 784.3L2297 784.6L2298.5 787.9L2300 788.9L2301.5 789.3L2303 788.4L2304.5 784.8L2306 782.5L2307.5 781L2309 781.6L2310.5 782.7L2312 783.9L2313.5 781.7L2315 780.3L2316.5 783.3L2318 788.4L2319.5 790.9L2321 793.2L2322.5 794.3L2324 794.2L2325.5 796.6L2327 802L2328.5 806.6L2330 807.7L2331.5 808.6L2333 807.5L2334.5 809.3L2336 810.9L2337.5 813.9L2339 813.9L2340.5 811.3L2342 810.5L2343.5 813.1L2345 818.3L2346.5 820.9L2348 823.9L2349.5 825.2L2351 826.3L2352.5 828.6L2354 834.3L2355.5 841.3L2357 845.3L2358.5 848.9L2360 848.7L2361.5 851.2L2363 856.1L2364.5 857.7L2366 856.9L2367.5 854.5L2369 853.9L2370.5 852.5L2372 853.8L2373.5 855.1L2375 852.8L2376.5 848.4L2378 845.4L2379.5 843.2L2381 843.2L2382.5 846.7L2384 849L2385.5 848.7L2387 849.3L2388.5 849.9L2390 851.5L2391.5 853.3L2393 853.6L2394.5 850.5L2396 848.3L2397.5 850.3L2399 852.3L2400.5 852.2L2402 849.2L2403.5 844L2405 840.9L2406.5 840.2L2408 840.8L2409.5 839.5L2411 837L2412.5 834.3L2414 832.2L2415.5 832.1L2417 832.7L2418.5 833.3L2420 835.5L2421.5 835.9L2423 837.8L2424.5 838.2L2426 841.1L2427.5 843.6L2429 844.5L2430.5 844.2L2432 843.9L2433.5 845.5L2435 848.7L2436.5 848.2L2438 845.8L2439.5 843.9L2441 841.2L2442.5 839L2444 838.5L2445.5 839.7L2447 838.3L2448.5 837.2L2450 837.5L2451.5 839.3L2453 841.1L2454.5 843L2456 842.7L2457.5 840.3L2459 837.9L2460.5 836.5L2462 836.8L2463.5 837.1L2465 835.8L2466.5 832.1L2468 829.1L2469.5 828.5L2471 825.4L2472.5 820L2474 813.1L2475.5 805.9L2477 800.9L2478.5 801.8L2480 801.8L2481.5 802.3L2483 803L2484.5 803.1L2486 798.8L2487.5 794.6L2489 792.9L2490.5 795.3L2492 801L2493.5 802.9L2495 800.5L2496.5 795.6L2498 795.4L2499.5 797.2L2501 798.6L2502.5 795.1L2504 790.7L2505.5 787L2507 785.7L2508.5 788.4L2510 787.7L2511.5 784.2L2513 780.4L2514.5 778.8L2516 779.3L2517.5 781.6L2519 782.6L2520.5 779.9L2522 775.8L2523.5 775.6L2525 781.1L2526.5 786.1L2528 788L2529.5 787.4L2531 783L2532.5 781.8L2534 781.3L2535.5 779.9L2537 779.2L2538.5 775.7" stroke="#305a52" stroke-width="1.35" fill="none" stroke-linejoin="round" shape-rendering="crispEdges" clip-path="url(#cP6)"/>
<path d="M96 1130.4L97.5 1127.9L99 1128.9L100.5 1130.7L102 1131.9L103.5 1129.3L105 1127.9L106.5 1128.2L108 1128.2L109.5 1126.1L111 1126.6L112.5 1127.7L114 1128.9L115.5 1127.5L117 1125.9L118.5 1126L120 1125.9L121.5 1123.3L123 1123.2L124.5 1123.6L126 1123.2L127.5 1122.8L129 1121.7L130.5 1123.6L132 1124.2L133.5 1122.1L135 1120L136.5 1120L138 1119.7L139.5 1118.7L141 1117.8L142.5 1118.2L144 1117.3L145.5 1115.6L147 1114.9L148.5 1115.2L150 1115.1L151.5 1113.4L153 1113L154.5 1114.5L156 1115L157.5 1114.3L159 1112.9L160.5 1113.1L162 1113.2L163.5 1111.1L165 1110.8L166.5 1111.8L168 1111.5L169.5 1109.1L171 1109.2L172.5 1110.4L174 1110.5L175.5 1109L177 1108.6L178.5 1107.9L180 1107.3L181.5 1105.7L183 1105.5L184.5 1106.3L186 1106.2L187.5 1103.9L189 1102.6L190.5 1104.7L192 1106.1L193.5 1104.3L195 1103.4L196.5 1103.8L198 1104.7L199.5 1102.8L201 1103.7L202.5 1105.3L204 1106.7L205.5 1107.1L207 1105.3L208.5 1105.8L210 1104.8L211.5 1102.6L213 1102.1L214.5 1102.1L216 1103.3L217.5 1102L219 1102L220.5 1104.3L222 1105.1L223.5 1103.7L225 1102.4L226.5 1102.4L228 1102.9L229.5 1100.7L231 1100.1L232.5 1102.5L234 1104L235.5 1103.9L237 1103.9L238.5 1104.9L240 1104.5L241.5 1102.8L243 1101.7L244.5 1102.1L246 1102.8L247.5 1101.9L249 1101.4L250.5 1103.7L252 1104.3L253.5 1102.7L255 1103.4L256.5 1103.7L258 1104.2L259.5 1103.1L261 1103.6L262.5 1104.8L264 1106.8L265.5 1104.6L267 1104L268.5 1105L270 1105.8L271.5 1103.4L273 1102.5L274.5 1105.5L276 1107.3L277.5 1106.7L279 1107.3L280.5 1107.6L282 1107.4L283.5 1105.6L285 1104L286.5 1107.8L288 1108.7L289.5 1108.3L291 1110.8L292.5 1113.5L294 1114L295.5 1114.4L297 1113.8L298.5 1115.8L300 1115.9L301.5 1114.6L303 1114.7L304.5 1116.9L306 1116.6L307.5 1116.2L309 1116.1L310.5 1117.7L312 1119.5L313.5 1118L315 1116.7L316.5 1117.8L318 1120.1L319.5 1118.4L321 1118.3L322.5 1120.9L324 1122.5L325.5 1122L327 1121.9L328.5 1123.1L330 1125.2L331.5 1123.5L333 1123.7L334.5 1127.5L336 1128L337.5 1128.5L339 1128.9L340.5 1129.8L342 1129.8L343.5 1127.5L345 1127.2L346.5 1126.7L348 1126.4L349.5 1125.6L351 1125.4L352.5 1126.5L354 1126.9L355.5 1124.5L357 1124L358.5 1125.2L360 1125.9L361.5 1123.4L363 1122.2L364.5 1123.2L366 1123L367.5 1122.3L369 1121.4L370.5 1121.3L372 1122.5L373.5 1120.6L375 1120.3L376.5 1121.4L378 1120.4L379.5 1117.8L381 1116.8L382.5 1118.3L384 1118.3L385.5 1116.7L387 1115.2L388.5 1115.9L390 1115.4L391.5 1113.9L393 1113.2L394.5 1114.8L396 1115.6L397.5 1115.2L399 1114.1L400.5 1116.1L402 1115.8L403.5 1114.8L405 1115.4L406.5 1115.8L408 1117.6L409.5 1116.3L411 1115.2L412.5 1116.6L414 1117.8L415.5 1115.7L417 1116.9L418.5 1119L420 1119.7L421.5 1118L423 1118.5L424.5 1119.8L426 1120.3L427.5 1121L429 1120.9L430.5 1123.8L432 1123.6L433.5 1121.8L435 1120.5L436.5 1122.1L438 1122.4L439.5 1119.9L441 1118.9L442.5 1119.1L444 1120.1L445.5 1117.9L447 1117L448.5 1117.8L450 1116.7L451.5 1114.8L453 1114.7L454.5 1115.7L456 1115L457.5 1112.6L459 1112.8L460.5 1114L462 1114.2L463.5 1110.9L465 1109.7L466.5 1110.1L468 1109.7L469.5 1107.7L471 1107.5L472.5 1108.7L474 1107.9L475.5 1105.6L477 1104.8L478.5 1107.1L480 1108L481.5 1106.3L483 1104.7L484.5 1105.6L486 1105.8L487.5 1103L489 1103.1L490.5 1104.3L492 1102.4L493.5 1099.9L495 1098.4L496.5 1100.2L498 1100.5L499.5 1098.8L501 1096.6L502.5 1096.8L504 1095.4L505.5 1092.4L507 1092L508.5 1093L510 1093.7L511.5 1092.3L513 1090.8L514.5 1090.1L516 1090.2L517.5 1089.5L519 1089.1L520.5 1091.1L522 1091.8L523.5 1090.7L525 1090.5L526.5 1091.8L528 1092.7L529.5 1092.5L531 1092.7L532.5 1092.9L534 1093.2L535.5 1091.6L537 1091.3L538.5 1092.9L540 1095.4L541.5 1094.3L543 1095.3L544.5 1098.1L546 1098.4L547.5 1097.9L549 1098.2L550.5 1100.5L552 1103.9L553.5 1104.6L555 1106.1L556.5 1107.9L558 1110L559.5 1110.6L561 1111.1L562.5 1115.1L564 1116.2L565.5 1112.4L567 1114.7L568.5 1122L570 1121.1L571.5 1109.7L573 1112.1L574.5 1126.6L576 1127.2L577.5 1112.1L579 1112.9L580.5 1130.2L582 1135L583.5 1122.5L585 1119L586.5 1131.8L588 1138.1L589.5 1129L591 1124.8L592.5 1134L594 1141.1L595.5 1133.4L597 1127.1L598.5 1133.3L600 1140.4L601.5 1135.2L603 1128.6L604.5 1131.5L606 1135.9L607.5 1134.3L609 1128.5L610.5 1130.6L612 1133.6L613.5 1132.4L615 1129.8L616.5 1130.5L618 1133.4L619.5 1132.9L621 1130.9L622.5 1131.5L624 1134L625.5 1133.7L627 1132.3L628.5 1134.7L630 1134.8L631.5 1132.5L633 1130.1L634.5 1130.3L636 1130.2L637.5 1127.4L639 1126.8L640.5 1129L642 1128.7L643.5 1128.7L645 1127.5L646.5 1127.1L648 1125.1L649.5 1122.4L651 1122.1L652.5 1123.4L654 1123.2L655.5 1121L657 1120.7L658.5 1120.8L660 1121.9L661.5 1121L663 1120.5L664.5 1120.2L666 1120.5L667.5 1117.5L669 1116.3L670.5 1118.5L672 1117.7L673.5 1116.6L675 1115.1L676.5 1116.9L678 1116.9L679.5 1114.9L681 1112.8L682.5 1113.8L684 1112L685.5 1110L687 1107.7L688.5 1109L690 1110.6L691.5 1109.4L693 1109.1L694.5 1110.8L696 1111.8L697.5 1110.4L699 1110.4L700.5 1110.8L702 1110.9L703.5 1110.5L705 1110.7L706.5 1111.8L708 1112.4L709.5 1111L711 1111L712.5 1111.3L714 1110.6L715.5 1108L717 1107L718.5 1108.7L720 1107.5L721.5 1103.3L723 1101.2L724.5 1100.7L726 1100.5L727.5 1098.7L729 1097.9L730.5 1098.3L732 1098.3L733.5 1096.2L735 1094.7L736.5 1094.9L738 1095.3L739.5 1092.6L741 1090.4L742.5 1091.1L744 1089.4L745.5 1086.4L747 1085.4L748.5 1086.4L750 1086.6L751.5 1083.6L753 1082.3L754.5 1083.2L756 1081.2L757.5 1078.2L759 1076.3L760.5 1076.9L762 1076.4L763.5 1073.4L765 1071.7L766.5 1071.3L768 1071.1L769.5 1068.2L771 1066.5L772.5 1067.5L774 1069.1L775.5 1067.1L777 1066L778.5 1068.1L780 1068.3L781.5 1066.4L783 1066.9L784.5 1069.7L786 1068.9L787.5 1069.1L789 1068.7L790.5 1070.8L792 1071.7L793.5 1070.3L795 1069.9L796.5 1072.4L798 1073L799.5 1073.4L801 1075.1L802.5 1079.2L804 1081.3L805.5 1081.5L807 1082.3L808.5 1085.4L810 1087.9L811.5 1088.1L813 1089L814.5 1094.4L816 1097.1L817.5 1097.4L819 1099.9L820.5 1102.2L822 1104.9L823.5 1108.1L825 1104.5L826.5 1106L828 1119L829.5 1127.5L831 1118.6L832.5 1106.7L834 1121.7L835.5 1145.5L837 1137.9L838.5 1116.1L840 1121.2L841.5 1144.3L843 1149.4L844.5 1131.6L846 1124.2L847.5 1141.5L849 1155.4L850.5 1146.3L852 1133.3L853.5 1140.1L855 1155L856.5 1156.2L858 1144.2L859.5 1141.6L861 1153.4L862.5 1160.6L864 1154.1L865.5 1147.2L867 1152.6L868.5 1160.8L870 1157.5L871.5 1149.6L873 1150.9L874.5 1157L876 1157.4L877.5 1152.3L879 1149.9L880.5 1152.3L882 1153.4L883.5 1150.8L885 1149.3L886.5 1151.1L888 1150.5L889.5 1149.2L891 1147.8L892.5 1150L894 1150.2L895.5 1148.8L897 1146.5L898.5 1146.4L900 1144.5L901.5 1142.3L903 1141.2L904.5 1141.7L906 1140.1L907.5 1138.4L909 1136.4L910.5 1137.9L912 1137.2L913.5 1135L915 1133.7L916.5 1134.9L918 1135.2L919.5 1132.1L921 1131.9L922.5 1131.5L924 1130.2L925.5 1129.2L927 1128.9L928.5 1128.3L930 1127L931.5 1125.1L933 1123.6L934.5 1126L936 1125.6L937.5 1122.9L939 1122.6L940.5 1123.2L942 1122.4L943.5 1119.8L945 1119.2L946.5 1120.3L948 1121.3L949.5 1119.3L951 1119L952.5 1119.1L954 1119.7L955.5 1116.7L957 1116.5L958.5 1117.2L960 1117.7L961.5 1116.9L963 1115.3L964.5 1117L966 1117.5L967.5 1116.4L969 1115.7L970.5 1118.6L972 1118.8L973.5 1117.2L975 1115.3L976.5 1115.3L978 1115.1L979.5 1112.4L981 1112.9L982.5 1112.7L984 1112.1L985.5 1110.6L987 1109.8L988.5 1110.5L990 1109.9L991.5 1107.8L993 1108L994.5 1108.3L996 1108.8L997.5 1107.3L999 1107.3L1000.5 1107L1002 1107.2L1003.5 1104.4L1005 1103.5L1006.5 1106.6L1008 1102.8L1009.5 1094.1L1011 1092.1L1012.5 1097.3L1014 1094.8L1015.5 1080.3L1017 1075.7L1018.5 1092L1020 1097.7L1021.5 1081.7L1023 1073.7L1024.5 1084.9L1026 1093.6L1027.5 1083.9L1029 1072.4L1030.5 1078.3L1032 1088.6L1033.5 1084.5L1035 1075.1L1036.5 1074.4L1038 1083L1039.5 1083.7L1041 1076.8L1042.5 1074.6L1044 1077.5L1045.5 1079.4L1047 1075.7L1048.5 1073L1050 1074.5L1051.5 1075.8L1053 1072.9L1054.5 1070.6L1056 1068.2L1057.5 1067.7L1059 1068.7L1060.5 1071L1062 1071.7L1063.5 1069.2L1065 1069.1L1066.5 1068.9L1068 1068.9L1069.5 1068.2L1071 1071.1L1072.5 1074L1074 1077L1075.5 1076.9L1077 1076.3L1078.5 1079.8L1080 1080.1L1081.5 1080.9L1083 1082.1L1084.5 1084.2L1086 1086.1L1087.5 1084.6L1089 1084.3L1090.5 1086.8L1092 1088.4L1093.5 1089L1095 1091.3L1096.5 1094.2L1098 1096.4L1099.5 1097L1101 1097.1L1102.5 1100.7L1104 1103.3L1105.5 1104.3L1107 1106.3L1108.5 1110.3L1110 1115.6L1111.5 1115.6L1113 1115.6L1114.5 1117.5L1116 1120.2L1117.5 1120.9L1119 1123.6L1120.5 1126.6L1122 1129.1L1123.5 1128.3L1125 1127.4L1126.5 1129L1128 1130.5L1129.5 1128.9L1131 1130.1L1132.5 1133.1L1134 1135.2L1135.5 1134.3L1137 1132.7L1138.5 1133.4L1140 1133.9L1141.5 1133.6L1143 1133.2L1144.5 1135L1146 1136.3L1147.5 1136.4L1149 1137.7L1150.5 1140.7L1152 1142.8L1153.5 1141.6L1155 1140.9L1156.5 1142.2L1158 1141.4L1159.5 1142.6L1161 1143.7L1162.5 1147L1164 1148.9L1165.5 1146.2L1167 1143.9L1168.5 1144.5L1170 1143.8L1171.5 1142.8L1173 1143.2L1174.5 1145L1176 1144.8L1177.5 1142.7L1179 1140.7L1180.5 1141.7L1182 1142.8L1183.5 1141L1185 1138.9L1186.5 1139.7L1188 1139.9L1189.5 1138.5L1191 1137.7L1192.5 1137.6L1194 1138L1195.5 1135.4L1197 1131.8L1198.5 1131.6L1200 1130L1201.5 1128.2L1203 1128.6L1204.5 1130.4L1206 1130.3L1207.5 1127.3L1209 1126.3L1210.5 1126.8L1212 1125.1L1213.5 1123.2L1215 1121.9L1216.5 1122.4L1218 1123.8L1219.5 1123.4L1221 1121.5L1222.5 1122.5L1224 1124.1L1225.5 1123.4L1227 1122.4L1228.5 1122.5L1230 1122.4L1231.5 1120.6L1233 1119.2L1234.5 1120.1L1236 1120.5L1237.5 1117.1L1239 1115.2L1240.5 1116.5L1242 1116.3L1243.5 1115.1L1245 1114.7L1246.5 1114.3L1248 1113.1L1249.5 1110.7L1251 1109L1252.5 1110.7L1254 1110.7L1255.5 1108.8L1257 1108.7L1258.5 1108.2L1260 1108.8L1261.5 1107L1263 1105.2L1264.5 1104.9L1266 1106.4L1267.5 1105.6L1269 1103.9L1270.5 1105.7L1272 1104.9L1273.5 1102.5L1275 1101.2L1276.5 1102.1L1278 1100.7L1279.5 1099.6L1281 1097.9L1282.5 1098.2L1284 1097.3L1285.5 1095L1287 1094.4L1288.5 1095.7L1290 1096.9L1291.5 1095.6L1293 1096L1294.5 1098.5L1296 1096.6L1297.5 1092.6L1299 1092.7L1300.5 1095.6L1302 1099.4L1303.5 1100.1L1305 1100.1L1306.5 1101.5L1308 1102.1L1309.5 1100.7L1311 1101.6L1312.5 1102.1L1314 1102.5L1315.5 1102L1317 1102.3L1318.5 1104.2L1320 1105.8L1321.5 1104.8L1323 1104.4" stroke="#3e5595" stroke-width="1.35" fill="none" stroke-linejoin="round" shape-rendering="crispEdges" clip-path="url(#cP7)"/>
<path d="M96 1120.6L97.5 1122.3L99 1120.4L100.5 1120.1L102 1121.3L103.5 1122.6L105 1121.6L106.5 1121.1L108 1123.2L109.5 1123.6L111 1121.4L112.5 1120.5L114 1122.1L115.5 1122.9L117 1120.7L118.5 1121L120 1122L121.5 1123L123 1120.5L124.5 1119.6L126 1119.9L127.5 1120.5L129 1118.8L130.5 1118.3L132 1119.2L133.5 1120.6L135 1119.3L136.5 1118.2L138 1119.3L139.5 1118.9L141 1118.5L142.5 1118.5L144 1119L145.5 1117.9L147 1117.1L148.5 1115.2L150 1115.1L151.5 1115.3L153 1113.3L154.5 1113.2L156 1112.9L157.5 1111.9L159 1110.2L160.5 1108.3L162 1109.9L163.5 1109.8L165 1108.8L166.5 1108.7L168 1108.5L169.5 1109.1L171 1107.1L172.5 1106.7L174 1105.9L175.5 1105.6L177 1104.6L178.5 1102.9L180 1104.4L181.5 1105.1L183 1104.1L184.5 1104.8L186 1104.5L187.5 1105L189 1102.2L190.5 1102.6L192 1104L193.5 1104.8L195 1106.1L196.5 1105.3L198 1106.5L199.5 1105.7L201 1104L202.5 1102.6L204 1105L205.5 1106.6L207 1106.5L208.5 1105.6L210 1108.6L211.5 1109L213 1108.7L214.5 1109.7L216 1111.4L217.5 1110.8L219 1108.4L220.5 1106.3L222 1108.3L223.5 1109.5L225 1109.3L226.5 1110.2L228 1112.1L229.5 1111.2L231 1109.3L232.5 1107.7L234 1108.4L235.5 1110.2L237 1109.5L238.5 1108.5L240 1110.4L241.5 1110.6L243 1109.8L244.5 1109.5L246 1109.7L247.5 1109L249 1107.6L250.5 1108.2L252 1109.8L253.5 1109.8L255 1109.5L256.5 1109.5L258 1110.4L259.5 1110L261 1109.1L262.5 1109.7L264 1110.6L265.5 1111.1L267 1109.7L268.5 1109.4L270 1112.3L271.5 1114L273 1113.4L274.5 1112.8L276 1114.3L277.5 1114.3L279 1114.4L280.5 1114.1L282 1114.8L283.5 1114.7L285 1113.4L286.5 1113.4L288 1115.8L289.5 1115.7L291 1115.6L292.5 1114.8L294 1115.9L295.5 1117.1L297 1115.2L298.5 1116.2L300 1117.7L301.5 1118.4L303 1116.8L304.5 1117L306 1118.6L307.5 1118.5L309 1116L310.5 1116L312 1118.3L313.5 1117.7L315 1117L316.5 1115.7L318 1118.2L319.5 1118.9L321 1117.8L322.5 1117.6L324 1118.9L325.5 1119.6L327 1118.3L328.5 1117.2L330 1119.4L331.5 1118.7L333 1117.8L334.5 1116.3L336 1116L337.5 1115.5L339 1114.2L340.5 1114.3L342 1117.5L343.5 1120.2L345 1120.2L346.5 1118.9L348 1119.4L349.5 1118.8L351 1117.2L352.5 1116.4L354 1117L355.5 1117.4L357 1115.6L358.5 1114.3L360 1116.1L361.5 1117.9L363 1117.6L364.5 1118.5L366 1119.1L367.5 1119.3L369 1117.5L370.5 1117.1L372 1117.6L373.5 1116.8L375 1116.1L376.5 1114.5L378 1115.9L379.5 1115.1L381 1113.2L382.5 1112.8L384 1114.7L385.5 1115.3L387 1114L388.5 1112.4L390 1113.5L391.5 1113.7L393 1111.6L394.5 1111.1L396 1111.6L397.5 1111.5L399 1109.5L400.5 1108.1L402 1110.6L403.5 1110.7L405 1109L406.5 1108.7L408 1109.1L409.5 1108.5L411 1107.5L412.5 1106.4L414 1107.1L415.5 1107.7L417 1106.2L418.5 1106.9L420 1108.2L421.5 1109.8L423 1108.8L424.5 1108.5L426 1109.8L427.5 1109.4L429 1109.2L430.5 1108L432 1110.4L433.5 1111.9L435 1111.2L436.5 1111.1L438 1112.4L439.5 1112.2L441 1111.1L442.5 1110.6L444 1111.8L445.5 1111.8L447 1110.4L448.5 1110L450 1109.9L451.5 1110.5L453 1109.8L454.5 1107.7L456 1110L457.5 1110.7L459 1108.5L460.5 1107.7L462 1108.3L463.5 1107.9L465 1106.1L466.5 1106.8L468 1107L469.5 1107.6L471 1105.9L472.5 1106.1L474 1108.4L475.5 1108.7L477 1106.2L478.5 1106.6L480 1107.1L481.5 1107.9L483 1106.8L484.5 1105.1L486 1105.5L487.5 1107.2L489 1106.3L490.5 1104.8L492 1106.9L493.5 1107.7L495 1104.9L496.5 1103.3L498 1104.8L499.5 1104.7L501 1102.6L502.5 1102.2L504 1104.9L505.5 1106L507 1105.6L508.5 1105.5L510 1106.9L511.5 1107.2L513 1105L514.5 1103.9L516 1106.5L517.5 1108.1L519 1107.3L520.5 1107.6L522 1108.8L523.5 1109.9L525 1106.9L526.5 1106.9L528 1109L529.5 1109.2L531 1108.3L532.5 1108.9L534 1110.2L535.5 1110.4L537 1107.2L538.5 1105.8L540 1106.6L541.5 1108.9L543 1107.2L544.5 1107.1L546 1109.4L547.5 1110.9L549 1109.1L550.5 1109.9L552 1110.9L553.5 1112.5L555 1110.4L556.5 1111.3L558 1111.7L559.5 1113.6L561 1112.2L562.5 1112L564 1112.3L565.5 1118.8L567 1125.5L568.5 1123.6L570 1120.1L571.5 1130.1L573 1137.5L574.5 1128.1L576 1113.9L577.5 1121.3L579 1136.4L580.5 1132.5L582 1121.7L583.5 1124.8L585 1137.2L586.5 1136.6L588 1128L589.5 1128.9L591 1136.7L592.5 1139.1L594 1131.2L595.5 1126.3L597 1133.6L598.5 1137.5L600 1131.5L601.5 1128.3L603 1130.1L604.5 1134.4L606 1131.5L607.5 1127.4L609 1129.6L610.5 1133.5L612 1132.2L613.5 1130.3L615 1129.7L616.5 1132.1L618 1131.5L619.5 1129.9L621 1127.1L622.5 1127.6L624 1127.5L625.5 1127.8L627 1124.8L628.5 1124.3L630 1124.7L631.5 1123.6L633 1119.3L634.5 1118.4L636 1119.3L637.5 1118.9L639 1117.3L640.5 1115.5L642 1115.5L643.5 1115.7L645 1112.8L646.5 1111.4L648 1111.4L649.5 1112.6L651 1109.7L652.5 1108.8L654 1110.1L655.5 1110.7L657 1108.5L658.5 1108.6L660 1110L661.5 1109.5L663 1108.2L664.5 1108.3L666 1109.4L667.5 1109.6L669 1108.2L670.5 1106.8L672 1108.6L673.5 1108.9L675 1107.8L676.5 1106.7L678 1107.9L679.5 1108.7L681 1105.7L682.5 1104.3L684 1106.4L685.5 1106.3L687 1104.1L688.5 1103.9L690 1106.4L691.5 1105.7L693 1105.6L694.5 1105.3L696 1106.1L697.5 1105.6L699 1103.9L700.5 1103.2L702 1105.5L703.5 1105.8L705 1104.9L706.5 1103.8L708 1103.9L709.5 1104.1L711 1101.4L712.5 1101L714 1101.6L715.5 1100.7L717 1100.2L718.5 1098.8L720 1100.8L721.5 1100.7L723 1100.7L724.5 1100.2L726 1101.3L727.5 1101.7L729 1101L730.5 1100.3L732 1099.9L733.5 1101.2L735 1099.6L736.5 1099.2L738 1099.3L739.5 1099.2L741 1097.6L742.5 1096.4L744 1098.4L745.5 1098.3L747 1097.2L748.5 1097.4L750 1099L751.5 1098L753 1097.9L754.5 1096.5L756 1097L757.5 1097.2L759 1096.7L760.5 1096.1L762 1097.8L763.5 1098L765 1096.8L766.5 1096.3L768 1098.2L769.5 1098L771 1098.4L772.5 1098.8L774 1101.2L775.5 1101.5L777 1099.9L778.5 1098.3L780 1099.2L781.5 1100.2L783 1098.4L784.5 1097.6L786 1098.6L787.5 1100.8L789 1100.2L790.5 1099.2L792 1101.1L793.5 1102.3L795 1100L796.5 1099L798 1099.9L799.5 1100.7L801 1100.8L802.5 1100.2L804 1101.3L805.5 1102.4L807 1102.8L808.5 1103.1L810 1104.5L811.5 1104.6L813 1103.6L814.5 1103.9L816 1106.5L817.5 1107.4L819 1105.9L820.5 1105.8L822 1108.3L823.5 1107.3L825 1109L826.5 1116.9L828 1120.7L829.5 1110.5L831 1107.3L832.5 1123.3L834 1136.1L835.5 1121.7L837 1106.7L838.5 1119.7L840 1140.5L841.5 1134.1L843 1116.4L844.5 1117.7L846 1137.3L847.5 1141.8L849 1125.2L850.5 1119.9L852 1132.5L853.5 1141.6L855 1132.1L856.5 1122.8L858 1130.7L859.5 1141.8L861 1140.7L862.5 1131.1L864 1131.1L865.5 1138.6L867 1141.4L868.5 1135.6L870 1134.2L871.5 1137.7L873 1139.7L874.5 1136.8L876 1134.3L877.5 1135.4L879 1137.2L880.5 1136.8L882 1136.8L883.5 1137.4L885 1135.9L886.5 1136L888 1137.1L889.5 1137.3L891 1135.5L892.5 1133.6L894 1134.3L895.5 1135.8L897 1133.1L898.5 1131.1L900 1131.4L901.5 1132.2L903 1129.6L904.5 1128.5L906 1129.3L907.5 1129.2L909 1128.8L910.5 1127.8L912 1129.3L913.5 1129.4L915 1127.5L916.5 1125.4L918 1125.6L919.5 1125.7L921 1123.4L922.5 1123.3L924 1122.7L925.5 1123.2L927 1121.5L928.5 1120L930 1120.9L931.5 1120.5L933 1117.5L934.5 1117.3L936 1116.9L937.5 1117.6L939 1115.5L940.5 1113.3L942 1115.1L943.5 1114L945 1112.9L946.5 1112.9L948 1112.5L949.5 1111.6L951 1109.5L952.5 1109.1L954 1111L955.5 1110.1L957 1109.2L958.5 1108.1L960 1108.6L961.5 1108.4L963 1106.9L964.5 1105.7L966 1106.6L967.5 1107.1L969 1104L970.5 1102.9L972 1104L973.5 1102.7L975 1100.9L976.5 1098.6L978 1099.1L979.5 1099.9L981 1099L982.5 1097.1L984 1098.8L985.5 1098.1L987 1095.6L988.5 1094.4L990 1095.2L991.5 1096.9L993 1095.9L994.5 1094.9L996 1096.6L997.5 1097.5L999 1094.9L1000.5 1093.5L1002 1095.4L1003.5 1095.5L1005 1093.5L1006.5 1093.2L1008 1090.6L1009.5 1095.1L1011 1101.6L1012.5 1095.8L1014 1084.8L1015.5 1091.3L1017 1108.6L1018.5 1106.1L1020 1086.5L1021.5 1086L1023 1102.8L1024.5 1108.6L1026 1094.1L1027.5 1087.8L1029 1098.9L1030.5 1108.3L1032 1101.3L1033.5 1092.4L1035 1097.4L1036.5 1106.1L1038 1104.9L1039.5 1096.7L1041 1096.3L1042.5 1104.9L1044 1108L1045.5 1101.8L1047 1098.2L1048.5 1102.2L1050 1106.6L1051.5 1104L1053 1101.2L1054.5 1103L1056 1104.9L1057.5 1103.7L1059 1100.8L1060.5 1102.4L1062 1105.6L1063.5 1106.3L1065 1104.5L1066.5 1103.9L1068 1105.6L1069.5 1104.6L1071 1102.2L1072.5 1104.2L1074 1107.5L1075.5 1109L1077 1107L1078.5 1105.7L1080 1107.5L1081.5 1107.2L1083 1106.3L1084.5 1107.9L1086 1109.9L1087.5 1110.7L1089 1110.1L1090.5 1110.8L1092 1113.2L1093.5 1113.1L1095 1111.4L1096.5 1111.6L1098 1113.5L1099.5 1114.5L1101 1114.1L1102.5 1115.3L1104 1117.6L1105.5 1119.8L1107 1117.5L1108.5 1118.2L1110 1119.9L1111.5 1121.1L1113 1120.2L1114.5 1120.7L1116 1124.4L1117.5 1124.4L1119 1122.4L1120.5 1122.8L1122 1125.1L1123.5 1124.9L1125 1124.8L1126.5 1124.8L1128 1126.5L1129.5 1127.2L1131 1125.6L1132.5 1124.7L1134 1125.5L1135.5 1126.6L1137 1124L1138.5 1122.6L1140 1125L1141.5 1126.2L1143 1125.5L1144.5 1124L1146 1125.4L1147.5 1125.9L1149 1124.1L1150.5 1122.4L1152 1122.6L1153.5 1122L1155 1120.9L1156.5 1119.9L1158 1121L1159.5 1122L1161 1121.1L1162.5 1120.6L1164 1121.4L1165.5 1122.2L1167 1121.2L1168.5 1119.5L1170 1120.1L1171.5 1121.2L1173 1121.8L1174.5 1121L1176 1123.6L1177.5 1123.4L1179 1121.6L1180.5 1121.7L1182 1123L1183.5 1123.1L1185 1121.1L1186.5 1121L1188 1122.5L1189.5 1122.2L1191 1120.3L1192.5 1120.6L1194 1122.5L1195.5 1122.7L1197 1122.3L1198.5 1121.8L1200 1123.2L1201.5 1122.1L1203 1118.8L1204.5 1117.5L1206 1118.1L1207.5 1121.5L1209 1122.5L1210.5 1122.9L1212 1123.2L1213.5 1122.8L1215 1119.7L1216.5 1118.8L1218 1118.9L1219.5 1120.7L1221 1119.5L1222.5 1119.7L1224 1120.1L1225.5 1119.1L1227 1116.6L1228.5 1116.5L1230 1116.9L1231.5 1118.8L1233 1117.5L1234.5 1117.1L1236 1118.9L1237.5 1118.5L1239 1116.7L1240.5 1115.2L1242 1116.1L1243.5 1116.2L1245 1113.6L1246.5 1114.4L1248 1115.6L1249.5 1116.9L1251 1115.9L1252.5 1117.5L1254 1117.1L1255.5 1116.7L1257 1114.1L1258.5 1113.6L1260 1115.2L1261.5 1115.4L1263 1115.2L1264.5 1114.8L1266 1115.2L1267.5 1114.2L1269 1110.9L1270.5 1108.5L1272 1110.1L1273.5 1110.8L1275 1111.4L1276.5 1110.9L1278 1111.1L1279.5 1110.2L1281 1109L1282.5 1107.7L1284 1108.1L1285.5 1108.7L1287 1108.6L1288.5 1108L1290 1109.4L1291.5 1108.3L1293 1105.8L1294.5 1105.6L1296 1106.6L1297.5 1107.1L1299 1105.3L1300.5 1103.7L1302 1104.1L1303.5 1104.7L1305 1101.8L1306.5 1100.1L1308 1101.2L1309.5 1101.5L1311 1101.5L1312.5 1101.4L1314 1101.1L1315.5 1101.5L1317 1100.3L1318.5 1099.9L1320 1101.2L1321.5 1100.6L1323 1100" stroke="#56aca8" stroke-width="1.35" fill="none" stroke-linejoin="round" shape-rendering="crispEdges" clip-path="url(#cP7)"/>
<path d="M96 1097.7L97.5 1097.2L99 1096.9L100.5 1099.2L102 1099.6L103.5 1096.4L105 1092.8L106.5 1091.8L108 1091.5L109.5 1092.3L111 1091.5L112.5 1094.1L114 1096.5L115.5 1095.1L117 1093.8L118.5 1095.7L120 1097L121.5 1094.9L123 1092.5L124.5 1094.4L126 1095.5L127.5 1093.7L129 1093.9L130.5 1096.5L132 1098.6L133.5 1096.6L135 1095.6L136.5 1098.5L138 1099.5L139.5 1098.5L141 1097.5L142.5 1100.8L144 1102L145.5 1100.9L147 1102.1L148.5 1104.3L150 1107.8L151.5 1107L153 1108.8L154.5 1110.3L156 1111.8L157.5 1111.9L159 1113.3L160.5 1116.5L162 1119.7L163.5 1119.4L165 1120.7L166.5 1120.8L168 1121.3L169.5 1120.4L171 1118.7L172.5 1120.2L174 1123.1L175.5 1122L177 1122.4L178.5 1123.7L180 1124.5L181.5 1122.2L183 1122.2L184.5 1124.2L186 1125.3L187.5 1123.6L189 1122.8L190.5 1124.3L192 1126.1L193.5 1125.7L195 1126.2L196.5 1127.2L198 1129.1L199.5 1128.1L201 1126.5L202.5 1127.5L204 1127L205.5 1125L207 1122.2L208.5 1121.8L210 1122.5L211.5 1119.2L213 1118.6L214.5 1121.1L216 1122.1L217.5 1121.4L219 1120.5L220.5 1121.5L222 1121.9L223.5 1120.1L225 1117.6L226.5 1119.8L228 1119.3L229.5 1117.1L231 1115.9L232.5 1118.5L234 1120.5L235.5 1119.7L237 1117.3L238.5 1118.5L240 1120.3L241.5 1118.1L243 1117.4L244.5 1119.4L246 1120.2L247.5 1118.7L249 1117.7L250.5 1118.3L252 1120.3L253.5 1118.5L255 1116.6L256.5 1118L258 1119.1L259.5 1118.5L261 1116.8L262.5 1118.6L264 1119.2L265.5 1118.8L267 1117.7L268.5 1119.1L270 1119.5L271.5 1117.1L273 1115.8L274.5 1116.2L276 1116.9L277.5 1114.8L279 1113.5L280.5 1114.4L282 1114.1L283.5 1112.2L285 1111.5L286.5 1111.6L288 1112.1L289.5 1111L291 1109.2L292.5 1109.9L294 1108.7L295.5 1104.7L297 1102.6L298.5 1104.7L300 1106.4L301.5 1105.4L303 1106.1L304.5 1107.1L306 1108.3L307.5 1106.2L309 1103.4L310.5 1104.4L312 1105.2L313.5 1103.4L315 1102.3L316.5 1102.8L318 1104.2L319.5 1102.8L321 1102.2L322.5 1103.8L324 1103.9L325.5 1101.5L327 1098.9L328.5 1098.8L330 1099.9L331.5 1099.2L333 1098.5L334.5 1100.4L336 1102.4L337.5 1100.8L339 1099.5L340.5 1098.7L342 1098.3L343.5 1098.7L345 1099L346.5 1100.1L348 1102.4L349.5 1099.3L351 1097.6L352.5 1098.8L354 1098.8L355.5 1098.5L357 1097.4L358.5 1098.9L360 1100.8L361.5 1099.5L363 1099.1L364.5 1100.5L366 1100.1L367.5 1098L369 1096.9L370.5 1100.3L372 1101L373.5 1099.5L375 1099.3L376.5 1101.7L378 1103L379.5 1103.3L381 1103.7L382.5 1106.3L384 1110L385.5 1109.9L387 1110.3L388.5 1111.7L390 1113.2L391.5 1113.5L393 1112.3L394.5 1115.5L396 1116.4L397.5 1114.7L399 1114.6L400.5 1117.5L402 1118.9L403.5 1117.7L405 1116L406.5 1118.2L408 1120.9L409.5 1120.2L411 1119.9L412.5 1119.4L414 1119L415.5 1116.7L417 1115.9L418.5 1116.9L420 1117L421.5 1114.3L423 1113L424.5 1114.9L426 1116.3L427.5 1115.8L429 1114.6L430.5 1116.2L432 1115.3L433.5 1113.3L435 1111.5L436.5 1112.5L438 1114.8L439.5 1113.9L441 1113.8L442.5 1116.3L444 1116.9L445.5 1115.7L447 1114.1L448.5 1116.6L450 1118.5L451.5 1118.7L453 1117.4L454.5 1118.9L456 1121.9L457.5 1119.9L459 1119.3L460.5 1121.6L462 1123.9L463.5 1121.9L465 1121L466.5 1123.3L468 1123.6L469.5 1121.6L471 1120.9L472.5 1123.6L474 1124.9L475.5 1124.6L477 1123.1L478.5 1125.3L480 1126.6L481.5 1126.3L483 1125.6L484.5 1126.9L486 1127.1L487.5 1125.8L489 1124.2L490.5 1125.4L492 1127.5L493.5 1127.6L495 1126.7L496.5 1127.7L498 1129.5L499.5 1128.9L501 1129L502.5 1131L504 1130.6L505.5 1128.8L507 1127.1L508.5 1129.4L510 1128.9L511.5 1126.9L513 1126.1L514.5 1127.2L516 1129.3L517.5 1126.9L519 1126.2L520.5 1128.6L522 1129L523.5 1127.3L525 1126.9L526.5 1128.7L528 1128.9L529.5 1127.4L531 1126.1L532.5 1126.5L534 1126.7L535.5 1124.3L537 1123.6L538.5 1125.4L540 1126.1L541.5 1124L543 1121.5L544.5 1122.8L546 1121.1L547.5 1119.1L549 1116.2L550.5 1116.4L552 1116.7L553.5 1114.5L555 1111.7L556.5 1113.1L558 1112.8L559.5 1110.5L561 1107.2L562.5 1107.1L564 1105.1L565.5 1102.3L567 1104.3L568.5 1104.5L570 1097.7L571.5 1090.2L573 1096.2L574.5 1100.4L576 1089L577.5 1079.9L579 1087.6L580.5 1093.8L582 1086.4L583.5 1076.3L585 1080L586.5 1088.5L588 1083.8L589.5 1073.6L591 1073.9L592.5 1082L594 1080L595.5 1071.5L597 1070.1L598.5 1077.8L600 1078.5L601.5 1072.7L603 1070.9L604.5 1077.1L606 1079.7L607.5 1075.6L609 1072.4L610.5 1078.1L612 1080.4L613.5 1078.2L615 1075.2L616.5 1078.7L618 1081.9L619.5 1080.5L621 1079.4L622.5 1081.2L624 1083.8L625.5 1084.1L627 1083.5L628.5 1086.9L630 1088.8L631.5 1089.5L633 1090L634.5 1093.1L636 1096.3L637.5 1095.7L639 1095.5L640.5 1098.1L642 1101.2L643.5 1102.3L645 1104.1L646.5 1107.6L648 1109.9L649.5 1108.2L651 1108.4L652.5 1110.2L654 1113L655.5 1113.1L657 1112.2L658.5 1114.3L660 1115.4L661.5 1114.3L663 1113.2L664.5 1116L666 1118.2L667.5 1117.5L669 1116.6L670.5 1119L672 1119.6L673.5 1118.6L675 1117.8L676.5 1121.6L678 1124.4L679.5 1125.1L681 1125.2L682.5 1126.7L684 1130.3L685.5 1129.6L687 1128.4L688.5 1127.5L690 1128.8L691.5 1125.6L693 1124.7L694.5 1125.8L696 1126.6L697.5 1125.8L699 1124.8L700.5 1125.8L702 1127.1L703.5 1124.2L705 1123.7L706.5 1125.4L708 1128L709.5 1126.4L711 1126.8L712.5 1129.4L714 1130.5L715.5 1130.1L717 1129.6L718.5 1131.8L720 1134.1L721.5 1133.6L723 1132.1L724.5 1134.6L726 1135L727.5 1134.4L729 1134.2L730.5 1135.7L732 1137.7L733.5 1137.6L735 1135.8L736.5 1136.9L738 1137.9L739.5 1136.3L741 1137.4L742.5 1140.5L744 1142.7L745.5 1143L747 1144.5L748.5 1148.7L750 1148.6L751.5 1146.3L753 1145.4L754.5 1144.9L756 1146.3L757.5 1146.8L759 1147.5L760.5 1149.8L762 1150.7L763.5 1149.3L765 1149.9L766.5 1152.3L768 1153.5L769.5 1150.7L771 1148.4L772.5 1147.9L774 1147.9L775.5 1147L777 1147.7L778.5 1149.1L780 1151L781.5 1148.2L783 1147.4L784.5 1147.2L786 1147.8L787.5 1146.8L789 1145.4L790.5 1148.2L792 1148.4L793.5 1147.1L795 1145.9L796.5 1146.9L798 1148.6L799.5 1146L801 1142.2L802.5 1141.4L804 1140.9L805.5 1138.3L807 1135.3L808.5 1136.3L810 1135.7L811.5 1132L813 1130.4L814.5 1128.5L816 1127.4L817.5 1124L819 1117.9L820.5 1117.9L822 1118.8L823.5 1113.9L825 1106.8L826.5 1110.7L828 1118.5L829.5 1111.8L831 1094.6L832.5 1096.8L834 1115.4L835.5 1116L837 1090.8L838.5 1080.7L840 1104.1L841.5 1120.2L843 1094.3L844.5 1071.9L846 1086.2L847.5 1107.3L849 1097.3L850.5 1072.1L852 1070.9L853.5 1089.1L855 1091.3L856.5 1072.8L858 1061.8L859.5 1072.6L861 1082L862.5 1072.8L864 1061.3L865.5 1061.3L867 1071.6L868.5 1071.5L870 1062.5L871.5 1058.5L873 1063.8L874.5 1068.3L876 1063.9L877.5 1057.4L879 1058L880.5 1061.2L882 1060.2L883.5 1056.9L885 1057.7L886.5 1059.2L888 1061L889.5 1060.7L891 1059.9L892.5 1061.8L894 1063.1L895.5 1061.9L897 1061.5L898.5 1064.8L900 1067L901.5 1067.4L903 1069.4L904.5 1073.6L906 1076.6L907.5 1077.3L909 1077.4L910.5 1078.4L912 1079L913.5 1079.5L915 1079.6L916.5 1082.9L918 1086.2L919.5 1086.2L921 1086.2L922.5 1086.9L924 1087.9L925.5 1086.5L927 1086.6L928.5 1090.9L930 1094.8L931.5 1094.9L933 1095.1L934.5 1098.2L936 1100.6L937.5 1101L939 1102.1L940.5 1104.5L942 1105.8L943.5 1105.9L945 1106L946.5 1108.3L948 1111.9L949.5 1112.2L951 1112.7L952.5 1115.4L954 1117L955.5 1116.6L957 1117.3L958.5 1119L960 1121L961.5 1121.9L963 1122.3L964.5 1123.7L966 1125L967.5 1125.4L969 1125.3L970.5 1129.8L972 1132.8L973.5 1131.7L975 1131.8L976.5 1134.1L978 1135.6L979.5 1136.4L981 1136.3L982.5 1138.3L984 1141.3L985.5 1139.2L987 1138.3L988.5 1140.3L990 1140.1L991.5 1139.7L993 1138.8L994.5 1140.7L996 1140.6L997.5 1138.5L999 1137.9L1000.5 1139.4L1002 1141.6L1003.5 1141.2L1005 1139.1L1006.5 1142.6L1008 1140L1009.5 1137.7L1011 1144.2L1012.5 1152.2L1014 1143.4L1015.5 1132.6L1017 1145.2L1018.5 1160.9L1020 1150.6L1021.5 1134.3L1023 1139.2L1024.5 1155.9L1026 1154.1L1027.5 1138.2L1029 1137L1030.5 1150.7L1032 1153.8L1033.5 1142.3L1035 1134L1036.5 1144L1038 1151.3L1039.5 1143.4L1041 1134.4L1042.5 1139.8L1044 1149.5L1045.5 1147.9L1047 1143L1048.5 1144L1050 1150L1051.5 1149.4L1053 1144.9L1054.5 1145.7L1056 1147.4L1057.5 1149.5L1059 1148L1060.5 1146.6L1062 1146.9L1063.5 1143.6L1065 1140.7L1066.5 1142.5L1068 1143.6L1069.5 1140.9L1071 1138.7L1072.5 1140.2L1074 1140.6L1075.5 1137.3L1077 1134.2L1078.5 1134.6L1080 1133.6L1081.5 1131.2L1083 1128.7L1084.5 1128.6L1086 1129.7L1087.5 1125.6L1089 1122.7L1090.5 1123.4L1092 1122.6L1093.5 1119.1L1095 1116.6L1096.5 1115.3L1098 1114.2L1099.5 1110.1L1101 1107.4L1102.5 1107.6L1104 1106.5L1105.5 1103L1107 1098.8L1108.5 1096.5L1110 1095L1111.5 1093.2L1113 1092.6L1114.5 1093.1L1116 1094.1L1117.5 1090.3L1119 1085L1120.5 1084.3L1122 1085.9L1123.5 1087.2L1125 1087.1L1126.5 1089.9L1128 1088.5L1129.5 1087.2L1131 1085.4L1132.5 1084.4L1134 1084.4L1135.5 1084.9L1137 1085.6L1138.5 1087.1L1140 1090L1141.5 1087.8L1143 1086.2L1144.5 1086L1146 1086.1L1147.5 1083.4L1149 1082.7L1150.5 1084.2L1152 1085.6L1153.5 1083.1L1155 1083.6L1156.5 1086.6L1158 1088.7L1159.5 1087.9L1161 1086.3L1162.5 1087.8L1164 1088.8L1165.5 1086.5L1167 1085.3L1168.5 1087.3L1170 1087.5L1171.5 1086.1L1173 1084.9L1174.5 1086.7L1176 1087.2L1177.5 1084.8L1179 1084.3L1180.5 1085.5L1182 1087.7L1183.5 1086.1L1185 1085.2L1186.5 1086.2L1188 1086.6L1189.5 1086.4L1191 1086.9L1192.5 1089.8L1194 1090.3L1195.5 1089.6L1197 1090.5L1198.5 1091.9L1200 1093.8L1201.5 1092.1L1203 1091.8L1204.5 1092.3L1206 1094.5L1207.5 1093.8L1209 1092.9L1210.5 1094.6L1212 1096.5L1213.5 1095.7L1215 1094.8L1216.5 1094.6L1218 1095.8L1219.5 1094.7L1221 1094.6L1222.5 1096.6L1224 1096.1L1225.5 1094.5L1227 1095.5L1228.5 1096.9L1230 1099.8L1231.5 1099L1233 1099.3L1234.5 1101.4L1236 1102.5L1237.5 1102.7L1239 1101.4L1240.5 1104.8L1242 1105.4L1243.5 1104.9L1245 1104.9L1246.5 1106.1L1248 1107.9L1249.5 1105.9L1251 1105L1252.5 1106L1254 1106.9L1255.5 1105.7L1257 1106.6L1258.5 1108.7L1260 1111.2L1261.5 1110.7L1263 1110.7L1264.5 1113.1L1266 1115.7L1267.5 1114.7L1269 1113.5L1270.5 1114.9L1272 1117.7L1273.5 1116.4L1275 1115.9L1276.5 1118.1L1278 1121.6L1279.5 1120.7L1281 1121.4L1282.5 1123.6L1284 1125.3L1285.5 1123.7L1287 1123.1L1288.5 1125.5L1290 1127.6L1291.5 1127.4L1293 1125.6L1294.5 1128.4L1296 1129.4L1297.5 1127L1299 1126.3L1300.5 1128.7L1302 1129.4L1303.5 1129L1305 1128.4L1306.5 1130.1L1308 1132.9L1309.5 1131.6L1311 1131.1L1312.5 1133.1L1314 1135.2L1315.5 1134.1L1317 1132.9L1318.5 1133.6L1320 1135.3L1321.5 1133.2L1323 1133.4" stroke="#d4e44a" stroke-width="1.35" fill="none" stroke-linejoin="round" shape-rendering="crispEdges" clip-path="url(#cP7)"/>
<path d="M96 1101.6L97.5 1102.2L99 1101.8L100.5 1100.5L102 1101.7L103.5 1104L105 1103.5L106.5 1102.1L108 1102.1L109.5 1104.7L111 1104.6L112.5 1102.9L114 1103.1L115.5 1103.7L117 1104.6L118.5 1102.9L120 1104.2L121.5 1105.7L123 1107.1L124.5 1105.4L126 1104.9L127.5 1107.8L129 1108.6L130.5 1105.8L132 1107.1L133.5 1109.3L135 1110.6L136.5 1109.4L138 1110.1L139.5 1112.2L141 1111.8L142.5 1109.6L144 1110.6L145.5 1113.4L147 1112.3L148.5 1111.5L150 1111.2L151.5 1112.4L153 1113L154.5 1111.7L156 1112L157.5 1112.9L159 1112.7L160.5 1111.2L162 1110.1L163.5 1112.3L165 1111L166.5 1110.3L168 1108.9L169.5 1109.5L171 1111L172.5 1109.5L174 1108.4L175.5 1110L177 1109.3L178.5 1108.6L180 1108.2L181.5 1109.7L183 1109.3L184.5 1108.8L186 1108.4L187.5 1110.5L189 1110.9L190.5 1110.4L192 1109.9L193.5 1112.3L195 1111.7L196.5 1111.7L198 1111.1L199.5 1113.2L201 1113.2L202.5 1113.4L204 1113.3L205.5 1114.5L207 1116L208.5 1115.9L210 1116.3L211.5 1118.2L213 1119L214.5 1118.7L216 1117.9L217.5 1118.5L219 1120.2L220.5 1119.2L222 1119.5L223.5 1121.6L225 1120.6L226.5 1119.3L228 1118.7L229.5 1120.8L231 1120.6L232.5 1118.6L234 1118.8L235.5 1120.1L237 1119.8L238.5 1118.6L240 1117.5L241.5 1119L243 1118.9L244.5 1117.7L246 1118.2L247.5 1120.3L249 1120.5L250.5 1118.9L252 1119.1L253.5 1120.4L255 1119.9L256.5 1118.7L258 1117.7L259.5 1118.8L261 1119.9L262.5 1118.1L264 1117.4L265.5 1118.5L267 1119.6L268.5 1119.1L270 1117.6L271.5 1117.8L273 1117.4L274.5 1116.4L276 1115.2L277.5 1116.1L279 1117.3L280.5 1116.1L282 1114.3L283.5 1116.3L285 1115.1L286.5 1113.5L288 1113.7L289.5 1115.8L291 1116.3L292.5 1113.6L294 1112.6L295.5 1114.5L297 1114L298.5 1112.4L300 1111.7L301.5 1112.8L303 1114.2L304.5 1113.4L306 1112.8L307.5 1114.6L309 1113.9L310.5 1112.5L312 1111.7L313.5 1113.7L315 1113.5L316.5 1112L318 1111.3L319.5 1112L321 1110.7L322.5 1109.7L324 1109.3L325.5 1110.3L327 1111.2L328.5 1108.5L330 1109.2L331.5 1110.4L333 1109.7L334.5 1108.8L336 1108.9L337.5 1109.8L339 1108.8L340.5 1107.3L342 1105.7L343.5 1107.2L345 1107.9L346.5 1107.3L348 1106.9L349.5 1108.3L351 1109L352.5 1107.6L354 1106.3L355.5 1107.9L357 1107.8L358.5 1106.5L360 1106.4L361.5 1108L363 1107.3L364.5 1107.4L366 1107.5L367.5 1109.2L369 1109.1L370.5 1107.9L372 1106.6L373.5 1107L375 1107.3L376.5 1107.2L378 1106.5L379.5 1108L381 1108.3L382.5 1107.2L384 1106.9L385.5 1108.8L387 1110.1L388.5 1107.5L390 1108.3L391.5 1110L393 1109.4L394.5 1108L396 1108.9L397.5 1109.8L399 1111.5L400.5 1109L402 1108.5L403.5 1110L405 1108.9L406.5 1106.8L408 1105.7L409.5 1107.2L411 1107.1L412.5 1106.3L414 1105.3L415.5 1106.4L417 1106.3L418.5 1105.3L420 1104.7L421.5 1104.3L423 1103.6L424.5 1102.7L426 1101.7L427.5 1104.3L429 1103.7L430.5 1102.3L432 1102.4L433.5 1103.9L435 1105.2L436.5 1104.1L438 1104.4L439.5 1105.9L441 1106.6L442.5 1105.7L444 1106.4L445.5 1106.5L447 1106L448.5 1104.5L450 1105.2L451.5 1108.1L453 1107.7L454.5 1106.5L456 1107.6L457.5 1110.1L459 1110.8L460.5 1109L462 1110.5L463.5 1112L465 1112.9L466.5 1111.4L468 1110.3L469.5 1113.1L471 1112.4L472.5 1111.4L474 1112.1L475.5 1114.1L477 1113.9L478.5 1111.5L480 1111.7L481.5 1114.6L483 1114.5L484.5 1113.7L486 1114.4L487.5 1115.6L489 1115.9L490.5 1115.3L492 1116L493.5 1118L495 1118.3L496.5 1118.8L498 1119.5L499.5 1121.9L501 1121.9L502.5 1121.6L504 1121.7L505.5 1124.2L507 1125.5L508.5 1125.2L510 1124.9L511.5 1126.1L513 1126.5L514.5 1126.9L516 1127L517.5 1127.3L519 1128.1L520.5 1126.4L522 1125.2L523.5 1127.6L525 1127.5L526.5 1124.5L528 1123.6L529.5 1124.2L531 1125.2L532.5 1123.9L534 1122.5L535.5 1124.2L537 1124.7L538.5 1122L540 1121.9L541.5 1123.6L543 1123.5L544.5 1120.8L546 1120L547.5 1120.1L549 1118.6L550.5 1115.8L552 1114.4L553.5 1115.5L555 1115L556.5 1113.2L558 1112.3L559.5 1114.3L561 1114.3L562.5 1111.9L564 1110.2L565.5 1113.3L567 1114L568.5 1110L570 1111.6L571.5 1117.9L573 1116.1L574.5 1106.3L576 1105.8L577.5 1113.4L579 1114.2L580.5 1105.2L582 1103.6L583.5 1111.3L585 1114L586.5 1107.9L588 1102.7L589.5 1107.3L591 1111.4L592.5 1107.7L594 1103.5L595.5 1108.1L597 1110.7L598.5 1106.4L600 1102.4L601.5 1105.1L603 1108.5L604.5 1107.1L606 1102.9L607.5 1102.9L609 1104.3L610.5 1104.8L612 1103.5L613.5 1103.6L615 1104L616.5 1104.3L618 1103.7L619.5 1104.3L621 1104L622.5 1103.5L624 1102L625.5 1102.9L627 1104.1L628.5 1102.7L630 1101.5L631.5 1102.4L633 1101.3L634.5 1099.9L636 1099.3L637.5 1099.6L639 1100.5L640.5 1099.2L642 1098.3L643.5 1099.9L645 1101.7L646.5 1101.1L648 1101.9L649.5 1102.3L651 1103.4L652.5 1101.2L654 1102.1L655.5 1103.8L657 1105.3L658.5 1103.4L660 1104.5L661.5 1105.6L663 1104.9L664.5 1103L666 1103.1L667.5 1104.7L669 1106.1L670.5 1104L672 1104.8L673.5 1107.1L675 1106.5L676.5 1104.7L678 1106.1L679.5 1106.8L681 1107.4L682.5 1107.2L684 1108.1L685.5 1109.5L687 1110.1L688.5 1109.3L690 1109.2L691.5 1110.3L693 1111.3L694.5 1110.6L696 1110.2L697.5 1111.4L699 1111.5L700.5 1109.8L702 1108.9L703.5 1110.6L705 1110.5L706.5 1109.9L708 1110L709.5 1112.2L711 1111.5L712.5 1110L714 1110.4L715.5 1112.1L717 1112.1L718.5 1111.4L720 1111.9L721.5 1113.7L723 1113.7L724.5 1112L726 1112.4L727.5 1114.3L729 1114.4L730.5 1115L732 1115.8L733.5 1118.5L735 1118.4L736.5 1117.5L738 1118.9L739.5 1121.7L741 1122L742.5 1120.4L744 1122L745.5 1123L747 1124.5L748.5 1124L750 1124.6L751.5 1127.7L753 1127.3L754.5 1127.4L756 1128.9L757.5 1130.1L759 1131L760.5 1129.3L762 1131.1L763.5 1132L765 1132.9L766.5 1133.8L768 1135.7L769.5 1137.2L771 1138.5L772.5 1136.8L774 1136.1L775.5 1138.8L777 1139.8L778.5 1139.2L780 1139.1L781.5 1141.2L783 1140.9L784.5 1140.3L786 1138.8L787.5 1140.6L789 1140.9L790.5 1138.2L792 1136.9L793.5 1136.5L795 1137.3L796.5 1134.8L798 1133.1L799.5 1134.8L801 1134.1L802.5 1132.3L804 1131.6L805.5 1130.8L807 1131.1L808.5 1128.7L810 1127.3L811.5 1127.5L813 1125.9L814.5 1122.1L816 1120L817.5 1120.1L819 1120.1L820.5 1118.6L822 1115.7L823.5 1114.3L825 1115.8L826.5 1113.6L828 1106.6L829.5 1102.1L831 1106.5L832.5 1111.2L834 1105.4L835.5 1095.5L837 1097.5L838.5 1108.5L840 1107.4L841.5 1097L843 1091.7L844.5 1099.6L846 1103.5L847.5 1097.1L849 1088.8L850.5 1090.3L852 1096.1L853.5 1094.7L855 1087.8L856.5 1084.8L858 1092.1L859.5 1094.9L861 1090.4L862.5 1086.5L864 1090.8L865.5 1095.5L867 1092.5L868.5 1088.5L870 1088.7L871.5 1093.3L873 1093.6L874.5 1091L876 1090.2L877.5 1093L879 1095.4L880.5 1093.1L882 1091.5L883.5 1095L885 1095L886.5 1095.2L888 1094.2L889.5 1096L891 1097.6L892.5 1096.9L894 1095.9L895.5 1096.7L897 1098.5L898.5 1097.3L900 1097.5L901.5 1099.1L903 1100.1L904.5 1098.8L906 1098.1L907.5 1100.8L909 1102.1L910.5 1100.2L912 1099.6L913.5 1100.8L915 1101.3L916.5 1100.7L918 1102.2L919.5 1104.9L921 1106.2L922.5 1104.1L924 1103.6L925.5 1106.1L927 1105.1L928.5 1102.8L930 1103.9L931.5 1104.4L933 1103.9L934.5 1101.3L936 1101.7L937.5 1103.1L939 1102.7L940.5 1101.9L942 1102.5L943.5 1105.1L945 1105.2L946.5 1103.8L948 1103.6L949.5 1106.2L951 1108L952.5 1105.8L954 1106.5L955.5 1108.2L957 1107.2L958.5 1106.3L960 1106.3L961.5 1107.3L963 1108.1L964.5 1106.8L966 1106.2L967.5 1106.2L969 1104.5L970.5 1102.3L972 1102.9L973.5 1103.7L975 1103.9L976.5 1101.3L978 1100L979.5 1102.4L981 1102.1L982.5 1102.1L984 1101.7L985.5 1103.1L987 1105.2L988.5 1104.6L990 1105.7L991.5 1107.3L993 1107.2L994.5 1106.4L996 1106.3L997.5 1108.6L999 1108.4L1000.5 1107.3L1002 1107.3L1003.5 1109.7L1005 1110.5L1006.5 1107.6L1008 1109.2L1009.5 1114.8L1011 1114.2L1012.5 1105.8L1014 1104.5L1015.5 1117.7L1017 1122.5L1018.5 1111.5L1020 1106.1L1021.5 1119.1L1023 1127.2L1024.5 1118L1026 1109L1027.5 1116L1029 1126.6L1030.5 1124.6L1032 1116L1033.5 1119.2L1035 1127.7L1036.5 1128.1L1038 1122.5L1039.5 1122.5L1041 1130.1L1042.5 1133.7L1044 1130.9L1045.5 1129.8L1047 1132.6L1048.5 1135.3L1050 1135.5L1051.5 1134.1L1053 1135.8L1054.5 1137L1056 1138.5L1057.5 1138.9L1059 1140.3L1060.5 1139.6L1062 1140.8L1063.5 1142.9L1065 1143.7L1066.5 1142.6L1068 1142.4L1069.5 1142.2L1071 1141.8L1072.5 1138.9L1074 1138L1075.5 1137.4L1077 1137.4L1078.5 1135.3L1080 1134.2L1081.5 1135.2L1083 1135.9L1084.5 1135.3L1086 1134.6L1087.5 1134.2L1089 1131.1L1090.5 1128.2L1092 1126.3L1093.5 1127.4L1095 1126.3L1096.5 1124.4L1098 1123.4L1099.5 1123.6L1101 1123.4L1102.5 1120.6L1104 1121L1105.5 1121.6L1107 1121.1L1108.5 1118.8L1110 1118.1L1111.5 1117.3L1113 1114L1114.5 1109.5L1116 1106.5L1117.5 1107.5L1119 1108.5L1120.5 1108.4L1122 1108.9L1123.5 1108.4L1125 1106.9L1126.5 1105.4L1128 1104.1L1129.5 1105L1131 1105.6L1132.5 1103.5L1134 1103.2L1135.5 1102.9L1137 1102.6L1138.5 1101.5L1140 1102L1141.5 1102.4L1143 1102.9L1144.5 1101.1L1146 1100.5L1147.5 1100.7L1149 1099.3L1150.5 1097.4L1152 1097.1L1153.5 1097.1L1155 1096.8L1156.5 1095.3L1158 1095.3L1159.5 1095.5L1161 1095.9L1162.5 1094.3L1164 1092.8L1165.5 1093.2L1167 1092L1168.5 1090.4L1170 1090.3L1171.5 1091.9L1173 1093.7L1174.5 1092.8L1176 1093.1L1177.5 1094.8L1179 1096L1180.5 1094.5L1182 1094.2L1183.5 1097.2L1185 1098.1L1186.5 1095.8L1188 1096.5L1189.5 1098.4L1191 1100.3L1192.5 1100.3L1194 1099.9L1195.5 1102.5L1197 1103.1L1198.5 1101.2L1200 1102.3L1201.5 1103.8L1203 1103.9L1204.5 1102.4L1206 1103.3L1207.5 1104.2L1209 1104.3L1210.5 1102.8L1212 1102.9L1213.5 1105L1215 1107.7L1216.5 1107.3L1218 1107.5L1219.5 1110.6L1221 1110.5L1222.5 1110L1224 1108.9L1225.5 1109.6L1227 1110.3L1228.5 1109L1230 1108L1231.5 1109.1L1233 1110.3L1234.5 1109.6L1236 1110.5L1237.5 1111.5L1239 1111.6L1240.5 1109.9L1242 1111.3L1243.5 1112.5L1245 1114.4L1246.5 1113.2L1248 1112.6L1249.5 1115L1251 1115.3L1252.5 1115.2L1254 1116.7L1255.5 1118.8L1257 1119.6L1258.5 1118L1260 1117.1L1261.5 1117.7L1263 1117.7L1264.5 1116.8L1266 1117.5L1267.5 1119L1269 1119.2L1270.5 1118.1L1272 1119.6L1273.5 1121.7L1275 1122L1276.5 1120.3L1278 1120.9L1279.5 1123L1281 1122.8L1282.5 1121L1284 1120.6L1285.5 1123.2L1287 1123.9L1288.5 1121.7L1290 1121.7L1291.5 1123L1293 1122.5L1294.5 1120L1296 1120L1297.5 1120.8L1299 1120.9L1300.5 1119.6L1302 1118.3L1303.5 1117.9L1305 1115.9L1306.5 1114.1L1308 1113.6L1309.5 1114.5L1311 1113.4L1312.5 1111.5L1314 1111.1L1315.5 1112.8L1317 1112.5L1318.5 1110.2L1320 1110.8L1321.5 1111.5L1323 1112.9" stroke="#6b7a20" stroke-width="1.35" fill="none" stroke-linejoin="round" shape-rendering="crispEdges" clip-path="url(#cP7)"/>
<path d="M1406 1142.5H2540" stroke="#9a6a62" stroke-width="1"/>
<path d="M73.5 61V304.5H1323" stroke="#9a9a9a" stroke-width="1" fill="none"/>
<text x="163.3" y="321" font-size="13" text-anchor="middle" fill="#ffffff" >-35s</text>
<text x="349.2" y="321" font-size="13" text-anchor="middle" fill="#ffffff" >-30s</text>
<text x="535" y="321" font-size="13" text-anchor="middle" fill="#ffffff" >-25s</text>
<text x="720.9" y="321" font-size="13" text-anchor="middle" fill="#ffffff" >-20s</text>
<text x="906.8" y="321" font-size="13" text-anchor="middle" fill="#ffffff" >-15s</text>
<text x="1092.6" y="321" font-size="13" text-anchor="middle" fill="#ffffff" >-10s</text>
<text x="1278.5" y="321" font-size="13" text-anchor="middle" fill="#ffffff" >-5s</text>
<g clip-path="url(#yP1)"><text x="67.5" y="77.3" font-size="13" text-anchor="end" fill="#fff">200</text><text x="67.5" y="143.9" font-size="13" text-anchor="end" fill="#fff">100</text><text x="67.5" y="210.6" font-size="13" text-anchor="end" fill="#fff">0</text><text x="67.5" y="277.3" font-size="13" text-anchor="end" fill="#fff">-100</text></g>
<path d="M1393.5 61V304.5H2540" stroke="#9a9a9a" stroke-width="1" fill="none"/>
<text x="1476.5" y="321" font-size="13" text-anchor="middle" fill="#ffffff" >-35s</text>
<text x="1646.8" y="321" font-size="13" text-anchor="middle" fill="#ffffff" >-30s</text>
<text x="1817.2" y="321" font-size="13" text-anchor="middle" fill="#ffffff" >-25s</text>
<text x="1987.5" y="321" font-size="13" text-anchor="middle" fill="#ffffff" >-20s</text>
<text x="2157.8" y="321" font-size="13" text-anchor="middle" fill="#ffffff" >-15s</text>
<text x="2328.2" y="321" font-size="13" text-anchor="middle" fill="#ffffff" >-10s</text>
<text x="2498.5" y="321" font-size="13" text-anchor="middle" fill="#ffffff" >-5s</text>
<g clip-path="url(#yP2)"><text x="1388" y="80.4" font-size="13" text-anchor="end" fill="#fff">62000</text><text x="1388" y="131.6" font-size="13" text-anchor="end" fill="#fff">61000</text><text x="1388" y="182.9" font-size="13" text-anchor="end" fill="#fff">60000</text><text x="1388" y="234.1" font-size="13" text-anchor="end" fill="#fff">59000</text><text x="1388" y="285.4" font-size="13" text-anchor="end" fill="#fff">58000</text></g>
<path d="M95.5 332V633.5H1323" stroke="#9a9a9a" stroke-width="1" fill="none"/>
<text x="163.3" y="650" font-size="13" text-anchor="middle" fill="#ffffff" >-35s</text>
<text x="349.2" y="650" font-size="13" text-anchor="middle" fill="#ffffff" >-30s</text>
<text x="535" y="650" font-size="13" text-anchor="middle" fill="#ffffff" >-25s</text>
<text x="720.9" y="650" font-size="13" text-anchor="middle" fill="#ffffff" >-20s</text>
<text x="906.8" y="650" font-size="13" text-anchor="middle" fill="#ffffff" >-15s</text>
<text x="1092.6" y="650" font-size="13" text-anchor="middle" fill="#ffffff" >-10s</text>
<text x="1278.5" y="650" font-size="13" text-anchor="middle" fill="#ffffff" >-5s</text>
<g clip-path="url(#yP3)"><text x="90" y="338.2" font-size="13" text-anchor="end" fill="#fff">200000</text><text x="90" y="413.2" font-size="13" text-anchor="end" fill="#fff">100000</text><text x="90" y="488.2" font-size="13" text-anchor="end" fill="#fff">0</text><text x="90" y="563.2" font-size="13" text-anchor="end" fill="#fff">-100000</text><text x="90" y="638.2" font-size="13" text-anchor="end" fill="#fff">-200000</text></g>
<path d="M1405.5 332V633.5H2540" stroke="#9a9a9a" stroke-width="1" fill="none"/>
<text x="1486.4" y="650" font-size="13" text-anchor="middle" fill="#ffffff" >-35s</text>
<text x="1655.1" y="650" font-size="13" text-anchor="middle" fill="#ffffff" >-30s</text>
<text x="1823.8" y="650" font-size="13" text-anchor="middle" fill="#ffffff" >-25s</text>
<text x="1992.5" y="650" font-size="13" text-anchor="middle" fill="#ffffff" >-20s</text>
<text x="2161.1" y="650" font-size="13" text-anchor="middle" fill="#ffffff" >-15s</text>
<text x="2329.8" y="650" font-size="13" text-anchor="middle" fill="#ffffff" >-10s</text>
<text x="2498.5" y="650" font-size="13" text-anchor="middle" fill="#ffffff" >-5s</text>
<g clip-path="url(#yP4)"><text x="1400" y="358.9" font-size="13" text-anchor="end" fill="#fff">600000</text><text x="1400" y="409.2" font-size="13" text-anchor="end" fill="#fff">400000</text><text x="1400" y="459.5" font-size="13" text-anchor="end" fill="#fff">200000</text><text x="1400" y="509.8" font-size="13" text-anchor="end" fill="#fff">0</text><text x="1400" y="560.1" font-size="13" text-anchor="end" fill="#fff">-200000</text><text x="1400" y="610.4" font-size="13" text-anchor="end" fill="#fff">-400000</text></g>
<path d="M95.5 661.5V961.5H1323" stroke="#9a9a9a" stroke-width="1" fill="none"/>
<text x="163.3" y="978.5" font-size="13" text-anchor="middle" fill="#ffffff" >-35s</text>
<text x="349.2" y="978.5" font-size="13" text-anchor="middle" fill="#ffffff" >-30s</text>
<text x="535" y="978.5" font-size="13" text-anchor="middle" fill="#ffffff" >-25s</text>
<text x="720.9" y="978.5" font-size="13" text-anchor="middle" fill="#ffffff" >-20s</text>
<text x="906.8" y="978.5" font-size="13" text-anchor="middle" fill="#ffffff" >-15s</text>
<text x="1092.6" y="978.5" font-size="13" text-anchor="middle" fill="#ffffff" >-10s</text>
<text x="1278.5" y="978.5" font-size="13" text-anchor="middle" fill="#ffffff" >-5s</text>
<g clip-path="url(#yP5)"><text x="90" y="667.4" font-size="13" text-anchor="end" fill="#fff">200000</text><text x="90" y="742.4" font-size="13" text-anchor="end" fill="#fff">100000</text><text x="90" y="817.4" font-size="13" text-anchor="end" fill="#fff">0</text><text x="90" y="892.4" font-size="13" text-anchor="end" fill="#fff">-100000</text><text x="90" y="967.4" font-size="13" text-anchor="end" fill="#fff">-200000</text></g>
<path d="M1405.5 661.5V961.5H2540" stroke="#9a9a9a" stroke-width="1" fill="none"/>
<text x="1486.4" y="978.5" font-size="13" text-anchor="middle" fill="#ffffff" >-35s</text>
<text x="1655.1" y="978.5" font-size="13" text-anchor="middle" fill="#ffffff" >-30s</text>
<text x="1823.8" y="978.5" font-size="13" text-anchor="middle" fill="#ffffff" >-25s</text>
<text x="1992.5" y="978.5" font-size="13" text-anchor="middle" fill="#ffffff" >-20s</text>
<text x="2161.1" y="978.5" font-size="13" text-anchor="middle" fill="#ffffff" >-15s</text>
<text x="2329.8" y="978.5" font-size="13" text-anchor="middle" fill="#ffffff" >-10s</text>
<text x="2498.5" y="978.5" font-size="13" text-anchor="middle" fill="#ffffff" >-5s</text>
<g clip-path="url(#yP6)"><text x="1400" y="667.4" font-size="13" text-anchor="end" fill="#fff">200000</text><text x="1400" y="742.4" font-size="13" text-anchor="end" fill="#fff">100000</text><text x="1400" y="817.4" font-size="13" text-anchor="end" fill="#fff">0</text><text x="1400" y="892.4" font-size="13" text-anchor="end" fill="#fff">-100000</text><text x="1400" y="967.4" font-size="13" text-anchor="end" fill="#fff">-200000</text></g>
<path d="M95.5 990V1264.5H1323" stroke="#9a9a9a" stroke-width="1" fill="none"/>
<text x="163.3" y="1281" font-size="13" text-anchor="middle" fill="#ffffff" >-35s</text>
<text x="349.2" y="1281" font-size="13" text-anchor="middle" fill="#ffffff" >-30s</text>
<text x="535" y="1281" font-size="13" text-anchor="middle" fill="#ffffff" >-25s</text>
<text x="720.9" y="1281" font-size="13" text-anchor="middle" fill="#ffffff" >-20s</text>
<text x="906.8" y="1281" font-size="13" text-anchor="middle" fill="#ffffff" >-15s</text>
<text x="1092.6" y="1281" font-size="13" text-anchor="middle" fill="#ffffff" >-10s</text>
<text x="1278.5" y="1281" font-size="13" text-anchor="middle" fill="#ffffff" >-5s</text>
<g clip-path="url(#yP7)"><text x="90" y="1051.7" font-size="13" text-anchor="end" fill="#fff">200000</text><text x="90" y="1117.4" font-size="13" text-anchor="end" fill="#fff">0</text><text x="90" y="1183.1" font-size="13" text-anchor="end" fill="#fff">-200000</text><text x="90" y="1248.8" font-size="13" text-anchor="end" fill="#fff">-400000</text></g>
<path d="M1405.5 1020V1264.5H2540" stroke="#9a9a9a" stroke-width="1" fill="none"/>
<text x="1486.4" y="1281" font-size="13" text-anchor="middle" fill="#ffffff" >-35s</text>
<text x="1655.1" y="1281" font-size="13" text-anchor="middle" fill="#ffffff" >-30s</text>
<text x="1823.8" y="1281" font-size="13" text-anchor="middle" fill="#ffffff" >-25s</text>
<text x="1992.5" y="1281" font-size="13" text-anchor="middle" fill="#ffffff" >-20s</text>
<text x="2161.1" y="1281" font-size="13" text-anchor="middle" fill="#ffffff" >-15s</text>
<text x="2329.8" y="1281" font-size="13" text-anchor="middle" fill="#ffffff" >-10s</text>
<text x="2498.5" y="1281" font-size="13" text-anchor="middle" fill="#ffffff" >-5s</text>
<g clip-path="url(#yP8)"><text x="1400" y="1049.3" font-size="13" text-anchor="end" fill="#fff">38060.4</text><text x="1400" y="1098.3" font-size="13" text-anchor="end" fill="#fff">38060.2</text><text x="1400" y="1147.3" font-size="13" text-anchor="end" fill="#fff">38060</text><text x="1400" y="1196.3" font-size="13" text-anchor="end" fill="#fff">38059.8</text><text x="1400" y="1245.3" font-size="13" text-anchor="end" fill="#fff">38059.6</text></g>
<text x="697.5" y="51" font-size="13" text-anchor="middle" fill="#ffffff" textLength="136" lengthAdjust="spacingAndGlyphs">H1:LSC-DARM_IN1_DQ</text>
<text x="1966" y="51" font-size="13" text-anchor="middle" fill="#ffffff" textLength="202" lengthAdjust="spacingAndGlyphs">H1:ASC-AS_A_DC_NSUM_OUT_DQ</text>
<text x="1972" y="1010" font-size="13" text-anchor="middle" fill="#ffffff" textLength="260" lengthAdjust="spacingAndGlyphs">H1:SUS-ETMY_M0_DARM_DAMP_R_SWSTAT</text>
<text transform="translate(34.5 182.5) rotate(-90)" x="0" y="0" font-size="13" text-anchor="middle" fill="#fff">counts (x1e-09)</text>
<text transform="translate(1344.5 182.5) rotate(-90)" x="0" y="0" font-size="13" text-anchor="middle" fill="#fff">counts</text>
<text transform="translate(34.5 482.5) rotate(-90)" x="0" y="0" font-size="13" text-anchor="middle" fill="#fff">counts</text>
<text transform="translate(1344.5 482.5) rotate(-90)" x="0" y="0" font-size="13" text-anchor="middle" fill="#fff">counts</text>
<text transform="translate(34.5 811.5) rotate(-90)" x="0" y="0" font-size="13" text-anchor="middle" fill="#fff">counts</text>
<text transform="translate(1344.5 811.5) rotate(-90)" x="0" y="0" font-size="13" text-anchor="middle" fill="#fff">counts</text>
<text transform="translate(34.5 1127) rotate(-90)" x="0" y="0" font-size="13" text-anchor="middle" fill="#fff">counts</text>
<text transform="translate(1344.5 1142) rotate(-90)" x="0" y="0" font-size="13" text-anchor="middle" fill="#fff">counts</text>
<rect x="114.2" y="351" width="19" height="19" fill="#efb261"/><text x="140" y="366.1" font-size="12.2" fill="#fff" textLength="236.3" lengthAdjust="spacingAndGlyphs">H1:SUS-ETMX_L2_MASTER_OUT_UL_DQ</text><rect x="114.2" y="376" width="19" height="19" fill="#188a7b"/><text x="140" y="391.1" font-size="12.2" fill="#fff" textLength="233.3" lengthAdjust="spacingAndGlyphs">H1:SUS-ETMX_L2_MASTER_OUT_LL_DQ</text><rect x="114.2" y="401" width="19" height="19" fill="#6d5e8d"/><text x="140" y="416.1" font-size="12.2" fill="#fff" textLength="237.4" lengthAdjust="spacingAndGlyphs">H1:SUS-ETMX_L2_MASTER_OUT_UR_DQ</text><rect x="114.2" y="426" width="19" height="19" fill="#d4836f"/><text x="140" y="441.1" font-size="12.2" fill="#fff" textLength="234.9" lengthAdjust="spacingAndGlyphs">H1:SUS-ETMX_L2_MASTER_OUT_LR_DQ</text>
<rect x="1424.2" y="351" width="19" height="19" fill="#efb261"/><text x="1450" y="366.1" font-size="12.2" fill="#fff" textLength="236.3" lengthAdjust="spacingAndGlyphs">H1:SUS-ETMX_L3_MASTER_OUT_UL_DQ</text><rect x="1424.2" y="376" width="19" height="19" fill="#188a7b"/><text x="1450" y="391.1" font-size="12.2" fill="#fff" textLength="233.3" lengthAdjust="spacingAndGlyphs">H1:SUS-ETMX_L3_MASTER_OUT_LL_DQ</text><rect x="1424.2" y="401" width="19" height="19" fill="#6d5e8d"/><text x="1450" y="416.1" font-size="12.2" fill="#fff" textLength="237.4" lengthAdjust="spacingAndGlyphs">H1:SUS-ETMX_L3_MASTER_OUT_UR_DQ</text><rect x="1424.2" y="426" width="19" height="19" fill="#d4836f"/><text x="1450" y="441.1" font-size="12.2" fill="#fff" textLength="234.9" lengthAdjust="spacingAndGlyphs">H1:SUS-ETMX_L3_MASTER_OUT_LR_DQ</text>
<rect x="114.2" y="680" width="19" height="19" fill="#f06292"/><text x="140" y="695.1" font-size="12.2" fill="#fff" textLength="236.3" lengthAdjust="spacingAndGlyphs">H1:SUS-ITMX_L2_MASTER_OUT_UL_DQ</text><rect x="114.2" y="705" width="19" height="19" fill="#6a8a4a"/><text x="140" y="720.1" font-size="12.2" fill="#fff" textLength="233.3" lengthAdjust="spacingAndGlyphs">H1:SUS-ITMX_L2_MASTER_OUT_LL_DQ</text><rect x="114.2" y="730" width="19" height="19" fill="#7bcfd0"/><text x="140" y="745.1" font-size="12.2" fill="#fff" textLength="237.4" lengthAdjust="spacingAndGlyphs">H1:SUS-ITMX_L2_MASTER_OUT_UR_DQ</text><rect x="114.2" y="755" width="19" height="19" fill="#fddb1e"/><text x="140" y="770.1" font-size="12.2" fill="#fff" textLength="234.9" lengthAdjust="spacingAndGlyphs">H1:SUS-ITMX_L2_MASTER_OUT_LR_DQ</text>
<rect x="1424.2" y="680" width="19" height="19" fill="#f2907f"/><text x="1450" y="695.1" font-size="12.2" fill="#fff" textLength="236.3" lengthAdjust="spacingAndGlyphs">H1:SUS-ITMY_L2_MASTER_OUT_UL_DQ</text><rect x="1424.2" y="705" width="19" height="19" fill="#b83ab0"/><text x="1450" y="720.1" font-size="12.2" fill="#fff" textLength="233.3" lengthAdjust="spacingAndGlyphs">H1:SUS-ITMY_L2_MASTER_OUT_LL_DQ</text><rect x="1424.2" y="730" width="19" height="19" fill="#fdf0d8"/><text x="1450" y="745.1" font-size="12.2" fill="#fff" textLength="237.4" lengthAdjust="spacingAndGlyphs">H1:SUS-ITMY_L2_MASTER_OUT_UR_DQ</text><rect x="1424.2" y="755" width="19" height="19" fill="#305a52"/><text x="1450" y="770.1" font-size="12.2" fill="#fff" textLength="234.9" lengthAdjust="spacingAndGlyphs">H1:SUS-ITMY_L2_MASTER_OUT_LR_DQ</text>
<rect x="114.2" y="1009" width="19" height="19" fill="#3e5595"/><text x="140" y="1024.1" font-size="12.2" fill="#fff" textLength="236.3" lengthAdjust="spacingAndGlyphs">H1:SUS-ETMY_L2_MASTER_OUT_UL_DQ</text><rect x="114.2" y="1034" width="19" height="19" fill="#56aca8"/><text x="140" y="1049.1" font-size="12.2" fill="#fff" textLength="233.3" lengthAdjust="spacingAndGlyphs">H1:SUS-ETMY_L2_MASTER_OUT_LL_DQ</text><rect x="114.2" y="1059" width="19" height="19" fill="#cfe048"/><text x="140" y="1074.1" font-size="12.2" fill="#fff" textLength="237.4" lengthAdjust="spacingAndGlyphs">H1:SUS-ETMY_L2_MASTER_OUT_UR_DQ</text><rect x="114.2" y="1084" width="19" height="19" fill="#6b7a20"/><text x="140" y="1099.1" font-size="12.2" fill="#fff" textLength="234.9" lengthAdjust="spacingAndGlyphs">H1:SUS-ETMY_L2_MASTER_OUT_LR_DQ</text>
<path d="M623.8 61V304" stroke="#555" stroke-width="1.7" stroke-dasharray="10 2.1" stroke-dashoffset="5.70" clip-path="url(#kP1a)"/><path d="M623.8 61V304" stroke="#fff" stroke-width="1.7" stroke-dasharray="10 2.1" stroke-dashoffset="5.70" clip-path="url(#kP1b)"/><path d="M626 61V304" stroke="#555" stroke-width="1.7" stroke-dasharray="10 2.1" stroke-dashoffset="5.70" clip-path="url(#kP1a)"/><path d="M626 61V304" stroke="#fff" stroke-width="1.7" stroke-dasharray="10 2.1" stroke-dashoffset="5.70" clip-path="url(#kP1b)"/>
<text x="575.3" y="91" font-size="13" text-anchor="start" fill="#ffffff" >ΔT=</text>
<text x="600.8" y="81" font-size="13" text-anchor="start" fill="#ffffff" textLength="72" lengthAdjust="spacingAndGlyphs">64ms,904μs</text>
<text x="600.8" y="101" font-size="13" text-anchor="start" fill="#ffffff" textLength="66" lengthAdjust="spacingAndGlyphs">15.4073 Hz</text>
<text x="627.3" y="297.5" font-size="13" text-anchor="start" fill="#bbbbbb" textLength="132" lengthAdjust="spacingAndGlyphs" opacity="0.55">T1=-22s,615ms,529μs</text>
<text x="629.5" y="297.5" font-size="13" text-anchor="start" fill="#ffffff" textLength="132" lengthAdjust="spacingAndGlyphs">T2=-22s,550ms,625μs</text>
<path d="M1904.3 332V633" stroke="#555" stroke-width="1.7" stroke-dasharray="10 2.1" stroke-dashoffset="4.10" clip-path="url(#kP4a)"/><path d="M1904.3 332V633" stroke="#fff" stroke-width="1.7" stroke-dasharray="10 2.1" stroke-dashoffset="4.10" clip-path="url(#kP4b)"/><path d="M1906.6 332V633" stroke="#555" stroke-width="1.7" stroke-dasharray="10 2.1" stroke-dashoffset="4.10" clip-path="url(#kP4a)"/><path d="M1906.6 332V633" stroke="#fff" stroke-width="1.7" stroke-dasharray="10 2.1" stroke-dashoffset="4.10" clip-path="url(#kP4b)"/>
<text x="1856" y="363" font-size="13" text-anchor="start" fill="#ffffff" >ΔT=</text>
<text x="1881.5" y="353" font-size="13" text-anchor="start" fill="#ffffff" textLength="72" lengthAdjust="spacingAndGlyphs">64ms,904μs</text>
<text x="1881.5" y="373" font-size="13" text-anchor="start" fill="#ffffff" textLength="66" lengthAdjust="spacingAndGlyphs">15.4073 Hz</text>
<text x="1908.8" y="626.5" font-size="13" text-anchor="start" fill="#bbbbbb" textLength="132" lengthAdjust="spacingAndGlyphs" opacity="0.55">T1=-22s,615ms,529μs</text>
<text x="1911" y="626.5" font-size="13" text-anchor="start" fill="#ffffff" textLength="132" lengthAdjust="spacingAndGlyphs">T2=-22s,550ms,625μs</text>
<path d="M623.8 990V1264" stroke="#555" stroke-width="1.7" stroke-dasharray="10 2.1" stroke-dashoffset="2.10" clip-path="url(#kP7a)"/><path d="M623.8 990V1264" stroke="#fff" stroke-width="1.7" stroke-dasharray="10 2.1" stroke-dashoffset="2.10" clip-path="url(#kP7b)"/><path d="M626 990V1264" stroke="#555" stroke-width="1.7" stroke-dasharray="10 2.1" stroke-dashoffset="2.10" clip-path="url(#kP7a)"/><path d="M626 990V1264" stroke="#fff" stroke-width="1.7" stroke-dasharray="10 2.1" stroke-dashoffset="2.10" clip-path="url(#kP7b)"/>
<text x="575.3" y="1020" font-size="13" text-anchor="start" fill="#ffffff" >ΔT=</text>
<text x="600.8" y="1010" font-size="13" text-anchor="start" fill="#ffffff" textLength="72" lengthAdjust="spacingAndGlyphs">64ms,904μs</text>
<text x="600.8" y="1030" font-size="13" text-anchor="start" fill="#ffffff" textLength="66" lengthAdjust="spacingAndGlyphs">15.4073 Hz</text>
<text x="627.3" y="1256.5" font-size="13" text-anchor="start" fill="#bbbbbb" textLength="132" lengthAdjust="spacingAndGlyphs" opacity="0.55">T1=-22s,615ms,529μs</text>
<text x="629.5" y="1256.5" font-size="13" text-anchor="start" fill="#ffffff" textLength="132" lengthAdjust="spacingAndGlyphs">T2=-22s,550ms,625μs</text>
<path d="M712.6 1002L619.5 1056.4" stroke="#ff0000" stroke-width="3"/>
<path d="M600.5 1067.5L615 1048.6L624 1064.2Z" fill="#ff0000"/>
<path d="M936.6 992.5L879.1 1041.4" stroke="#ff0000" stroke-width="3"/>
<path d="M862.3 1055.7L873.2 1034.6L884.9 1048.3Z" fill="#ff0000"/>
<path d="M1066.7 997.6L1050.1 1042.4" stroke="#ff0000" stroke-width="3"/>
<path d="M1042.5 1063L1041.7 1039.2L1058.6 1045.5Z" fill="#ff0000"/>
<text x="1279.5" y="1321" font-size="16" text-anchor="middle" fill="#ffffff" textLength="403" lengthAdjust="spacingAndGlyphs">t0 = Thu Oct 23 2025 11:51:00 UTC [1445255478.8066]</text></svg></body></html>
